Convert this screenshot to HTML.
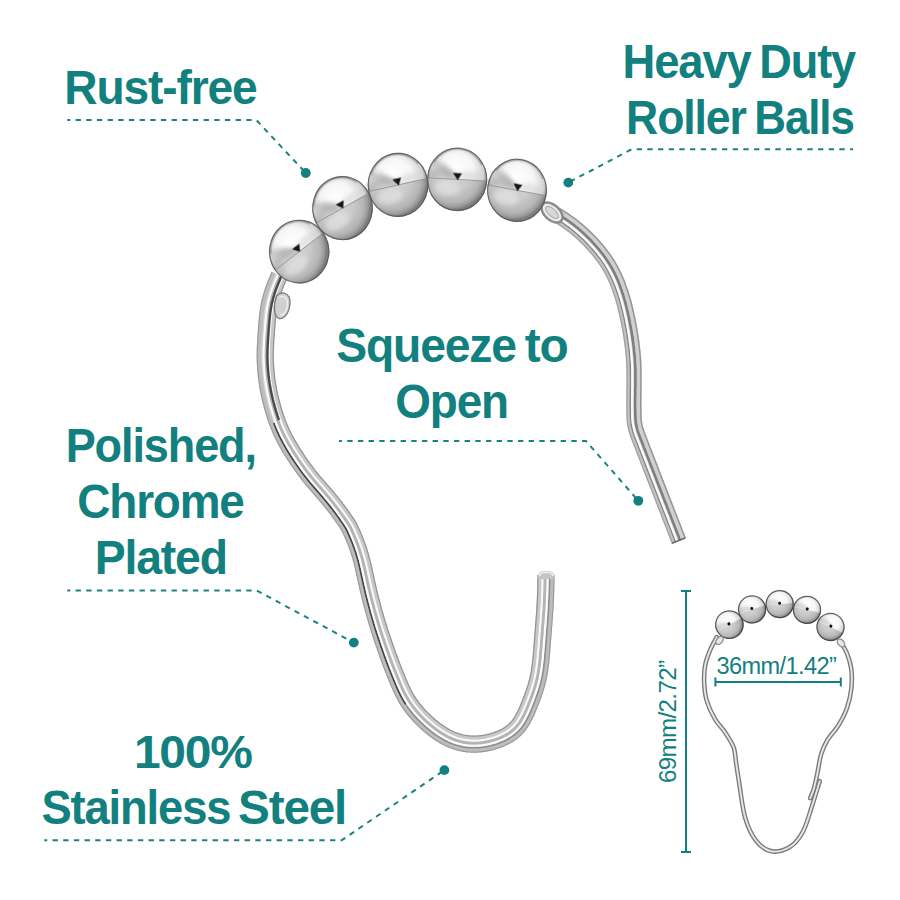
<!DOCTYPE html>
<html><head><meta charset="utf-8">
<style>
html,body{margin:0;padding:0;background:#fff;width:900px;height:900px;overflow:hidden}
svg{display:block}
.t{font-family:"Liberation Sans",sans-serif;font-weight:bold;fill:#12807e;font-size:47px}
.s{font-family:"Liberation Sans",sans-serif;font-weight:normal;fill:#12807e;font-size:22px}
.d{fill:none;stroke:#1a827f;stroke-width:2.0;stroke-dasharray:5.35 5.32;stroke-dashoffset:2.4;stroke-linejoin:round}
.dot{fill:#12807e}
</style></head>
<body>
<svg width="900" height="900" viewBox="0 0 900 900">
<defs>
  <clipPath id="ctop"><rect x="-32" y="-32" width="64" height="32"/></clipPath>
  <clipPath id="cbot"><rect x="-32" y="0" width="64" height="32"/></clipPath>
  <radialGradient id="gtop" cx="0.5" cy="0.42" r="0.52" fx="0.45" fy="0.3">
    <stop offset="0" stop-color="#ffffff"/>
    <stop offset="0.55" stop-color="#f6f6f6"/>
    <stop offset="0.85" stop-color="#d2d2d2"/>
    <stop offset="0.96" stop-color="#8a8a8a"/>
    <stop offset="1" stop-color="#5c5c5c"/>
  </radialGradient>
  <radialGradient id="gbot" cx="0.42" cy="0.4" r="0.58">
    <stop offset="0" stop-color="#d8d8d8"/>
    <stop offset="0.5" stop-color="#cacaca"/>
    <stop offset="0.8" stop-color="#b6b6b6"/>
    <stop offset="0.93" stop-color="#9a9a9a"/>
    <stop offset="1" stop-color="#7c7c7c"/>
  </radialGradient>
  <filter id="bl2" x="-50%" y="-50%" width="200%" height="200%"><feGaussianBlur stdDeviation="2.2"/></filter>
  <filter id="bl05" x="-50%" y="-50%" width="200%" height="200%"><feGaussianBlur stdDeviation="0.5"/></filter>
  <filter id="wbl" x="-5%" y="-5%" width="110%" height="110%"><feGaussianBlur stdDeviation="0.55"/></filter>
  <g id="sbl">
    <circle r="30" fill="url(#gtop)" clip-path="url(#ctop)"/>
    <circle r="30" fill="url(#gbot)" clip-path="url(#cbot)"/>
    <g clip-path="url(#ctop)">
      <path d="M-29,1 C-28,-13 -15,-17 2,-4 L2,1 Z" fill="#b0b0b0" opacity="0.45" filter="url(#bl2)"/>
    </g>
    <circle r="29" fill="none" stroke="#333" stroke-width="2.6" opacity="0.75"/>
    <circle cx="0" cy="-2" r="3.2" fill="#111"/>
  </g>
  <g id="ball">
    <circle r="30" fill="url(#gtop)" clip-path="url(#ctop)"/>
    <circle r="30" fill="url(#gbot)" clip-path="url(#cbot)"/>
    <g clip-path="url(#ctop)">
      <path d="M-29,1 C-28,-12 -16,-15 1,-3 L1,1 Z" fill="#a8a8a8" opacity="0.65" filter="url(#bl2)"/>
      <path d="M-2,-3 C-8,-12 -18,-20 -26,-14 C-22,-8 -12,-4 -2,-1 Z" fill="#a0a0a0" opacity="0.5" filter="url(#bl2)"/>
      <ellipse cx="14" cy="-4" rx="12" ry="4.5" fill="#d4d4d4" opacity="0.6" filter="url(#bl2)"/>
      <path d="M-24,-15 A27.5,27.5 0 0 1 24,-15" fill="none" stroke="#808080" stroke-width="2" opacity="0.6" filter="url(#bl05)"/>
    </g>
    <g clip-path="url(#cbot)">
      <ellipse cx="-10" cy="9" rx="13" ry="7" fill="#e2e2e2" opacity="0.7" filter="url(#bl2)"/>
    </g>
    <line x1="-29.5" y1="0" x2="29.5" y2="0" stroke="#8e8e8e" stroke-width="0.8"/>
    <circle r="29.5" fill="none" stroke="#555" stroke-width="1.1" opacity="0.85"/>
    <path d="M-4.5,-6 L4.5,-6 L0.5,0.8 Z" fill="#151515" filter="url(#bl05)"/>
  </g>
    <g clip-path="url(#cbot)">
      <ellipse cx="-8" cy="8" rx="14" ry="7" fill="#ececec" opacity="0.8" filter="url(#bl2)"/>
    </g>
    <line x1="-29.5" y1="0" x2="29.5" y2="0" stroke="#909090" stroke-width="0.9"/>
    <circle r="29.3" fill="none" stroke="#3c3c3c" stroke-width="1.5" opacity="0.8"/>
    <path d="M-4.5,-6 L4.5,-6 L0.5,0.8 Z" fill="#111" filter="url(#bl05)"/>
  </g>
    <line x1="-29.5" y1="0" x2="29.5" y2="0" stroke="#8a8a8a" stroke-width="1.1"/>
    <circle r="29.4" fill="none" stroke="#404040" stroke-width="1.5" opacity="0.8"/>
    <path d="M-3.8,-5 L3.8,-5 L0.3,0.5 Z" fill="#151515" filter="url(#bl05)"/>
  </g>
  <path id="w1" d="M279.5,275.0 C278.1,278.3 273.1,288.9 271.2,295.0 C269.2,301.1 268.6,306.1 267.8,311.7 C267.1,317.2 267.1,322.8 266.7,328.3 C266.3,333.9 265.6,339.4 265.3,345.0 C265.0,350.6 264.8,356.1 265.0,361.7 C265.2,367.2 265.8,372.8 266.5,378.3 C267.2,383.9 268.1,389.7 269.2,395.0 C270.3,400.3 271.7,404.7 273.3,410.0 C274.9,415.3 276.4,421.1 278.7,426.7 C281.0,432.2 283.9,437.8 287.0,443.3 C290.1,448.9 293.8,454.4 297.5,460.0 C301.2,465.6 305.1,471.1 309.5,476.7 C313.9,482.2 319.5,487.8 324.2,493.3 C328.9,498.9 333.6,504.4 337.8,510.0 C342.0,515.6 346.1,521.2 349.2,526.7 C352.3,532.2 354.6,537.8 356.7,543.3 C358.8,548.8 360.3,553.3 362.0,560.0 C363.7,566.7 365.2,576.6 366.7,583.3 C368.2,590.0 369.4,594.4 370.8,600.0 C372.2,605.6 373.7,611.2 375.3,616.7 C376.9,622.2 378.5,627.8 380.3,633.3 C382.1,638.8 384.2,644.4 386.2,650.0 C388.1,655.6 389.8,661.2 392.0,666.7 C394.2,672.2 396.8,677.8 399.2,683.3 C401.6,688.8 401.7,693.4 406.2,700.0 C410.7,706.6 418.7,716.3 426.0,723.0 C433.3,729.7 442.7,736.3 450.0,740.0 C457.3,743.7 463.3,744.5 470.0,745.0 C476.7,745.5 483.3,744.7 490.0,743.0 C496.7,741.3 505.0,737.8 510.0,735.0 C515.0,732.2 516.5,732.2 520.0,726.5 C523.5,720.8 527.9,708.8 531.0,701.0 C534.1,693.2 536.7,686.8 538.4,680.0 C540.1,673.2 540.2,667.8 541.0,660.0 C541.8,652.2 542.3,641.8 543.0,633.3 C543.7,624.8 544.5,616.9 545.0,608.8 C545.5,600.6 545.8,590.0 546.0,584.4 C546.2,578.8 546.0,576.6 546.0,575.0"/>
  <path id="w2" d="M552.0,212.0 C555.1,214.0 564.2,218.6 570.9,223.8 C577.6,229.0 585.7,236.2 592.2,243.3 C598.7,250.4 605.2,258.4 610.0,266.4 C614.8,274.4 617.8,282.7 620.8,291.3 C623.8,299.9 625.8,308.8 627.8,318.0 C629.8,327.2 631.4,338.3 632.5,346.4 C633.6,354.5 634.0,359.4 634.2,366.7 C634.5,374.0 634.1,382.8 634.0,390.0 C633.9,397.2 633.5,403.6 633.8,410.0 C634.1,416.4 634.6,422.5 635.8,428.3 C637.0,434.1 639.2,439.4 641.2,445.0 C643.2,450.6 645.4,456.1 647.5,461.7 C649.6,467.2 651.6,472.8 653.7,478.3 C655.8,483.9 657.8,489.4 660.0,495.0 C662.2,500.6 664.9,506.1 667.0,511.7 C669.1,517.2 670.8,523.4 672.8,528.3 C674.8,533.2 678.0,538.9 679.0,541.0"/>
  <path id="sa" d="M716.7,637.1 C715.5,639.5 711.5,646.5 709.6,651.3 C707.7,656.0 706.0,660.3 705.1,665.6 C704.2,670.9 703.9,677.4 704.2,683.3 C704.5,689.2 705.1,695.2 706.9,701.1 C708.7,707.0 711.8,713.6 714.9,718.9 C718.0,724.2 722.5,728.4 725.6,733.1 C728.7,737.8 731.8,742.3 733.6,747.3 C735.4,752.3 735.3,757.7 736.2,763.3 C737.1,768.9 737.4,772.1 738.9,781.1 C740.4,790.1 742.2,807.3 745.0,817.1 C747.8,826.9 751.1,834.1 755.4,839.8 C759.7,845.5 764.9,849.9 770.6,851.1 C776.3,852.4 784.0,850.4 789.4,847.3 C794.8,844.1 798.9,839.1 802.7,832.2 C806.5,825.3 809.3,814.3 812.1,805.8 C814.9,797.3 818.4,785.3 819.7,781.2"/>
  <path id="sb" d="M840.7,642.4 C841.7,644.2 845.1,648.6 846.9,653.1 C848.7,657.6 850.6,663.2 851.3,669.1 C852.0,675.0 852.0,682.2 851.3,688.7 C850.6,695.2 849.1,702.0 846.9,708.2 C844.7,714.4 841.3,720.7 838.0,726.0 C834.7,731.3 830.1,735.5 827.3,740.2 C824.5,744.9 822.7,749.1 821.1,754.4 C819.5,759.7 818.8,766.6 817.6,772.2 C816.4,777.8 815.2,783.9 814.0,788.2 C812.8,792.5 810.8,796.5 810.2,798.2"/>
</defs>

<!-- ===== TEXT ===== -->
<text class="t" x="64.30" y="103.90" style="font-size:48.11px;letter-spacing:-1.20px" textLength="192.20" lengthAdjust="spacingAndGlyphs">Rust-free</text>
<text class="t" x="622.50" y="77.80" style="font-size:47.67px;letter-spacing:-1.20px" textLength="128.20" lengthAdjust="spacingAndGlyphs">Heavy</text>
<text class="t" x="759.30" y="77.80" style="font-size:47.67px;letter-spacing:-1.20px" textLength="95.80" lengthAdjust="spacingAndGlyphs">Duty</text>
<text class="t" x="626.10" y="134.00" style="font-size:47.82px;letter-spacing:-1.20px" textLength="119.60" lengthAdjust="spacingAndGlyphs">Roller</text>
<text class="t" x="754.30" y="134.00" style="font-size:47.82px;letter-spacing:-1.20px" textLength="99.40" lengthAdjust="spacingAndGlyphs">Balls</text>
<text class="t" x="336.30" y="361.70" style="font-size:48.11px;letter-spacing:-1.20px" textLength="179.60" lengthAdjust="spacingAndGlyphs">Squeeze</text>
<text class="t" x="524.70" y="361.70" style="font-size:48.11px;letter-spacing:-1.20px" textLength="42.80" lengthAdjust="spacingAndGlyphs">to</text>
<text class="t" x="395.30" y="418.00" style="font-size:47.97px;letter-spacing:-1.20px" textLength="112.60" lengthAdjust="spacingAndGlyphs">Open</text>
<text class="t" x="65.70" y="461.80" style="font-size:47.82px;letter-spacing:-1.20px" textLength="190.20" lengthAdjust="spacingAndGlyphs">Polished,</text>
<text class="t" x="77.30" y="518.30" style="font-size:47.67px;letter-spacing:-1.20px" textLength="166.40" lengthAdjust="spacingAndGlyphs">Chrome</text>
<text class="t" x="94.70" y="573.90" style="font-size:47.82px;letter-spacing:-1.20px" textLength="132.20" lengthAdjust="spacingAndGlyphs">Plated</text>
<text class="t" x="133.90" y="768.30" style="font-size:46.95px;letter-spacing:-1.20px" textLength="117.80" lengthAdjust="spacingAndGlyphs">100%</text>
<text class="t" x="41.50" y="824.20" style="font-size:47.53px;letter-spacing:-1.20px" textLength="188.80" lengthAdjust="spacingAndGlyphs">Stainless</text>
<text class="t" x="238.10" y="824.20" style="font-size:47.53px;letter-spacing:-1.20px" textLength="108.00" lengthAdjust="spacingAndGlyphs">Steel</text>
<!-- ===== DASHED LEADERS ===== -->
<path class="d" d="M67.3,120.1 L256.4,120.1 L305.8,173.0"/>
<circle class="dot" cx="305.8" cy="173.0" r="4.9"/>
<path class="d" d="M853.0,149.2 L631.7,149.2 L568.3,182.6"/>
<circle class="dot" cx="568.3" cy="182.6" r="4.9"/>
<path class="d" d="M339.0,441.1 L586.1,441.1 L638.3,500.8"/>
<circle class="dot" cx="638.3" cy="500.8" r="4.9"/>
<path class="d" d="M67.3,590.5 L256.7,590.5 L353.8,642.6"/>
<circle class="dot" cx="353.8" cy="642.6" r="4.9"/>
<path class="d" d="M44.3,840.2 L341.8,840.2 L444.4,770.1"/>
<circle class="dot" cx="444.4" cy="770.1" r="4.9"/>

<!-- ===== MAIN HOOK WIRE ===== -->
<g fill="none" stroke-linejoin="round" filter="url(#wbl)">
<path d="M279.5,275.0 L279.1,275.9 L278.7,276.8 L278.3,277.8 L277.9,278.7 L277.6,279.6 L277.2,280.5 L276.8,281.5 L276.4,282.4 L276.0,283.3 L275.7,284.2 L275.3,285.2 L274.9,286.1 L274.6,287.0 L274.2,288.0 L273.9,288.9 L273.5,289.9 L273.2,290.8 L272.9,291.7 L272.6,292.7 L272.3,293.6 L272.0,294.6 L271.7,295.6 L271.4,296.5 L271.1,297.5 L270.8,298.4 L270.6,299.4 L270.3,300.4 L270.1,301.4 L269.9,302.3 L269.7,303.3 L269.5,304.3 L269.3,305.3 L269.1,306.3 L268.9,307.2 L268.7,308.2 L268.6,309.2 L268.4,310.2 L268.3,311.2 L268.2,312.2 L268.0,313.2 L267.9,314.2 L267.8,315.2 L267.7,316.2 L267.6,317.1 L267.5,318.1 L267.4,319.1 L267.3,320.1 L267.2,321.1 L267.1,322.1 L267.0,323.1 L266.9,324.1 L266.9,325.1 L266.8,326.1 L266.7,327.1 L266.6,328.1 L266.5,329.1 L266.5,330.1 L266.4,331.1 L266.3,332.1 L266.3,333.1 L266.2,334.1 L266.1,335.1 L266.0,336.1 L266.0,337.1 L265.9,338.1 L265.8,339.1 L265.8,340.1 L265.7,341.1 L265.7,342.1 L265.6,343.1 L265.6,344.1 L265.5,345.1 L265.5,346.1 L265.4,347.1 L265.4,348.1 L265.3,349.1 L265.3,350.1 L265.3,351.1 L265.3,352.1 L265.3,353.1 L265.2,354.1 L265.2,355.1 L265.2,356.1 L265.2,357.1 L265.3,358.1 L265.3,359.1 L265.3,360.1 L265.3,361.1 L265.4,362.1 L265.4,363.1 L265.5,364.1 L265.5,365.1 L265.6,366.1 L265.6,367.1 L265.7,368.1 L265.8,369.1 L265.9,370.1 L265.9,371.1 L266.0,372.1 L266.1,373.1 L266.2,374.1 L266.3,375.1 L266.4,376.1 L266.6,377.1 L266.7,378.0 L266.8,379.0 L266.9,380.0 L267.1,381.0 L267.2,382.0 L267.4,383.0 L267.5,384.0 L267.7,385.0 L267.8,386.0 L268.0,387.0 L268.2,387.9 L268.3,388.9 L268.5,389.9 L268.7,390.9 L268.9,391.9 L269.1,392.9 L269.3,393.8 L269.5,394.8 L269.7,395.8 L269.9,396.8 L270.2,397.7 L270.4,398.7 L270.6,399.7 L270.9,400.7 L271.1,401.6 L271.4,402.6 L271.6,403.6 L271.9,404.5 L272.1,405.5 L272.4,406.5 L272.7,407.4 L273.0,408.4 L273.2,409.4 L273.5,410.3 L273.8,411.3 L274.1,412.2 L274.4,413.2 L274.7,414.1 L275.0,415.1 L275.3,416.0 L275.6,417.0 L275.9,417.9 L276.3,418.9 L276.6,419.8 L276.9,420.8 L277.3,421.7 L277.6,422.7 L278.0,423.6 L278.3,424.5 L278.7,425.5 L279.1,426.4 L279.5,427.3 L279.8,428.2 L280.2,429.2 L280.6,430.1 L281.0,431.0 L281.5,431.9 L281.9,432.8 L282.3,433.7 L282.7,434.6 L283.2,435.5 L283.6,436.4 L284.1,437.3 L284.5,438.2 L285.0,439.1 L285.5,440.0 L285.9,440.8 L286.4,441.7 L286.9,442.6 L287.4,443.5 L287.9,444.3 L288.4,445.2 L288.9,446.1 L289.4,446.9 L289.9,447.8 L290.4,448.6 L290.9,449.5 L291.5,450.4 L292.0,451.2 L292.5,452.1 L293.0,452.9 L293.6,453.8 L294.1,454.6 L294.7,455.4 L295.2,456.3 L295.8,457.1 L296.3,458.0 L296.9,458.8 L297.4,459.6 L298.0,460.4 L298.5,461.3 L299.1,462.1 L299.7,462.9 L300.2,463.7 L300.8,464.6 L301.4,465.4 L302.0,466.2 L302.5,467.0 L303.1,467.8 L303.7,468.6 L304.3,469.4 L304.9,470.2 L305.5,471.1 L306.1,471.8 L306.7,472.6 L307.3,473.4 L307.9,474.2 L308.6,475.0 L309.2,475.8 L309.8,476.6 L310.4,477.4 L311.1,478.1 L311.7,478.9 L312.3,479.7 L313.0,480.4 L313.6,481.2 L314.3,482.0 L314.9,482.7 L315.6,483.5 L316.2,484.3 L316.9,485.0 L317.5,485.8 L318.2,486.5 L318.8,487.3 L319.5,488.0 L320.1,488.8 L320.8,489.6 L321.5,490.3 L322.1,491.1 L322.8,491.8 L323.4,492.6 L324.1,493.3 L324.7,494.1 L325.4,494.9 L326.0,495.6 L326.7,496.4 L327.3,497.2 L327.9,497.9 L328.6,498.7 L329.2,499.5 L329.9,500.2 L330.5,501.0 L331.1,501.8 L331.7,502.6 L332.4,503.4 L333.0,504.1 L333.6,504.9 L334.2,505.7 L334.8,506.5 L335.5,507.3 L336.1,508.1 L336.7,508.9 L337.3,509.7 L337.9,510.5 L338.5,511.3 L339.0,512.1 L339.6,512.9 L340.2,513.7 L340.8,514.5 L341.4,515.4 L342.0,516.2 L342.5,517.0 L343.1,517.8 L343.7,518.6 L344.3,519.5 L344.8,520.3 L345.4,521.1 L346.0,521.9 L346.5,522.8 L347.1,523.6 L347.6,524.4 L348.2,525.3 L348.7,526.1 L349.2,527.0 L349.6,527.9 L350.1,528.8 L350.5,529.7 L350.9,530.6 L351.3,531.5 L351.7,532.4 L352.1,533.3 L352.5,534.2 L352.9,535.2 L353.3,536.1 L353.7,537.0 L354.1,537.9 L354.5,538.8 L354.9,539.8 L355.2,540.7 L355.6,541.6 L356.0,542.6 L356.3,543.5 L356.7,544.4 L357.0,545.4 L357.4,546.3 L357.7,547.3 L358.0,548.2 L358.4,549.1 L358.7,550.1 L359.0,551.0 L359.3,552.0 L359.6,553.0 L359.9,553.9 L360.2,554.9 L360.5,555.8 L360.7,556.8 L361.0,557.8 L361.3,558.7 L361.5,559.7 L361.8,560.7 L362.0,561.6 L362.3,562.6 L362.5,563.6 L362.7,564.5 L363.0,565.5 L363.2,566.5 L363.4,567.5 L363.6,568.4 L363.9,569.4 L364.1,570.4 L364.3,571.4 L364.5,572.3 L364.7,573.3 L364.9,574.3 L365.1,575.3 L365.3,576.3 L365.6,577.2 L365.8,578.2 L366.0,579.2 L366.2,580.2 L366.4,581.2 L366.6,582.1 L366.8,583.1 L367.1,584.1 L367.3,585.1 L367.5,586.0 L367.7,587.0 L367.9,588.0 L368.2,589.0 L368.4,589.9 L368.6,590.9 L368.9,591.9 L369.1,592.9 L369.3,593.8 L369.6,594.8 L369.8,595.8 L370.1,596.7 L370.3,597.7 L370.5,598.7 L370.8,599.7 L371.0,600.6 L371.3,601.6 L371.5,602.6 L371.8,603.5 L372.1,604.5 L372.3,605.5 L372.6,606.4 L372.8,607.4 L373.1,608.4 L373.3,609.3 L373.6,610.3 L373.9,611.3 L374.1,612.2 L374.4,613.2 L374.7,614.1 L375.0,615.1 L375.2,616.1 L375.5,617.0 L375.8,618.0 L376.1,619.0 L376.3,619.9 L376.6,620.9 L376.9,621.8 L377.2,622.8 L377.5,623.8 L377.8,624.7 L378.1,625.7 L378.4,626.6 L378.7,627.6 L379.0,628.5 L379.3,629.5 L379.6,630.4 L379.9,631.4 L380.2,632.4 L380.5,633.3 L380.8,634.3 L381.1,635.2 L381.4,636.2 L381.7,637.1 L382.1,638.1 L382.4,639.0 L382.7,639.9 L383.0,640.9 L383.3,641.8 L383.7,642.8 L384.0,643.7 L384.3,644.7 L384.6,645.6 L385.0,646.6 L385.3,647.5 L385.6,648.5 L386.0,649.4 L386.3,650.4 L386.6,651.3 L387.0,652.2 L387.3,653.2 L387.6,654.1 L388.0,655.1 L388.3,656.0 L388.6,657.0 L389.0,657.9 L389.3,658.8 L389.7,659.8 L390.0,660.7 L390.4,661.6 L390.7,662.6 L391.1,663.5 L391.4,664.5 L391.8,665.4 L392.1,666.3 L392.5,667.3 L392.9,668.2 L393.2,669.1 L393.6,670.1 L394.0,671.0 L394.3,671.9 L394.7,672.8 L395.1,673.8 L395.5,674.7 L395.8,675.6 L396.2,676.6 L396.6,677.5 L397.0,678.4 L397.4,679.3 L397.7,680.3 L398.1,681.2 L398.5,682.1 L398.9,683.0 L399.3,683.9 L399.7,684.9 L400.1,685.8 L400.5,686.7 L400.9,687.6 L401.3,688.5 L401.7,689.4 L402.1,690.3 L402.6,691.2 L403.0,692.1 L403.5,693.0 L403.9,693.9 L404.4,694.8 L404.8,695.7 L405.3,696.6 L405.8,697.5 L406.3,698.3 L406.8,699.2 L407.3,700.0 L407.9,700.9 L408.4,701.7 L408.9,702.6 L409.5,703.4 L410.1,704.2 L410.6,705.0 L411.2,705.9 L411.8,706.7 L412.4,707.5 L413.0,708.2 L413.7,709.0 L414.3,709.8 L414.9,710.6 L415.6,711.4 L416.2,712.1 L416.9,712.9 L417.5,713.6 L418.2,714.4 L418.9,715.1 L419.5,715.9 L420.2,716.6 L420.9,717.3 L421.6,718.0 L422.3,718.7 L423.0,719.4 L423.7,720.1 L424.5,720.8 L425.2,721.5 L425.9,722.2 L426.7,722.9 L427.4,723.5 L428.2,724.2 L428.9,724.9 L429.7,725.5 L430.4,726.2 L431.2,726.8 L432.0,727.4 L432.8,728.1 L433.5,728.7 L434.3,729.3 L435.1,729.9 L435.9,730.5 L436.8,731.1 L437.6,731.6 L438.4,732.2 L439.2,732.8 L440.1,733.3 L440.9,733.9 L441.7,734.4 L442.6,734.9 L443.5,735.4 L444.3,735.9 L445.2,736.4 L446.1,736.9 L446.9,737.4 L447.8,737.8 L448.7,738.3 L449.6,738.7 L450.5,739.1 L451.5,739.5 L452.4,739.9 L453.3,740.3 L454.3,740.6 L455.2,741.0 L456.1,741.3 L457.1,741.6 L458.1,741.9 L459.0,742.2 L460.0,742.4 L461.0,742.6 L461.9,742.9 L462.9,743.1 L463.9,743.2 L464.9,743.4 L465.9,743.6 L466.9,743.7 L467.8,743.8 L468.8,743.9 L469.8,744.0 L470.8,744.0 L471.8,744.1 L472.8,744.1 L473.8,744.1 L474.8,744.1 L475.8,744.1 L476.8,744.1 L477.8,744.0 L478.8,743.9 L479.8,743.9 L480.8,743.8 L481.8,743.6 L482.8,743.5 L483.8,743.4 L484.8,743.2 L485.8,743.0 L486.8,742.9 L487.7,742.6 L488.7,742.4 L489.7,742.2 L490.6,742.0 L491.6,741.7 L492.6,741.4 L493.5,741.2 L494.5,740.9 L495.4,740.5 L496.4,740.2 L497.3,739.9 L498.3,739.5 L499.2,739.2 L500.1,738.8 L501.1,738.4 L502.0,738.0 L502.9,737.6 L503.8,737.2 L504.7,736.7 L505.6,736.2 L506.4,735.8 L507.3,735.3 L508.2,734.7 L509.0,734.2 L509.8,733.7 L510.6,733.1 L511.5,732.5 L512.2,731.9 L513.0,731.3 L513.8,730.6 L514.5,729.9 L515.2,729.2 L515.9,728.5 L516.6,727.8 L517.3,727.1 L517.9,726.3 L518.6,725.5 L519.2,724.7 L519.8,723.9 L520.3,723.1 L520.9,722.3 L521.4,721.4 L522.0,720.6 L522.5,719.7 L523.0,718.9 L523.4,718.0 L523.9,717.1 L524.4,716.2 L524.8,715.3 L525.3,714.4 L525.7,713.5 L526.1,712.6 L526.5,711.7 L526.9,710.8 L527.3,709.9 L527.7,708.9 L528.1,708.0 L528.5,707.1 L528.9,706.2 L529.2,705.2 L529.6,704.3 L530.0,703.4 L530.3,702.5 L530.7,701.5 L531.1,700.6 L531.4,699.6 L531.8,698.7 L532.1,697.8 L532.5,696.8 L532.8,695.9 L533.2,695.0 L533.5,694.0 L533.8,693.1 L534.1,692.1 L534.5,691.2 L534.8,690.2 L535.1,689.3 L535.4,688.3 L535.7,687.4 L536.0,686.4 L536.3,685.4 L536.5,684.5 L536.8,683.5 L537.1,682.5 L537.3,681.6 L537.5,680.6 L537.8,679.6 L538.0,678.7 L538.2,677.7 L538.4,676.7 L538.6,675.7 L538.8,674.7 L539.0,673.8 L539.2,672.8 L539.3,671.8 L539.5,670.8 L539.7,669.8 L539.8,668.8 L539.9,667.8 L540.1,666.8 L540.2,665.8 L540.3,664.9 L540.4,663.9 L540.6,662.9 L540.7,661.9 L540.8,660.9 L540.9,659.9 L541.0,658.9 L541.1,657.9 L541.2,656.9 L541.3,655.9 L541.3,654.9 L541.4,653.9 L541.5,652.9 L541.6,651.9 L541.7,650.9 L541.8,649.9 L541.8,648.9 L541.9,647.9 L542.0,646.9 L542.1,645.9 L542.2,644.9 L542.2,643.9 L542.3,642.9 L542.4,641.9 L542.5,640.9 L542.5,639.9 L542.6,638.9 L542.7,637.9 L542.8,636.9 L542.8,635.9 L542.9,634.9 L543.0,633.9 L543.1,633.0 L543.2,632.0 L543.2,631.0 L543.3,630.0 L543.4,629.0 L543.5,628.0 L543.5,627.0 L543.6,626.0 L543.7,625.0 L543.8,624.0 L543.9,623.0 L543.9,622.0 L544.0,621.0 L544.1,620.0 L544.2,619.0 L544.2,618.0 L544.3,617.0 L544.4,616.0 L544.5,615.0 L544.5,614.0 L544.6,613.0 L544.7,612.0 L544.7,611.0 L544.8,610.0 L544.9,609.0 L544.9,608.0 L545.0,607.0 L545.0,606.0 L545.1,605.0 L545.1,604.0 L545.2,603.0 L545.2,602.0 L545.3,601.0 L545.3,600.0 L545.4,599.0 L545.4,598.0 L545.5,597.0 L545.5,596.0 L545.6,595.0 L545.6,594.0 L545.6,593.0 L545.7,592.0 L545.7,591.0 L545.7,590.0 L545.7,589.0 L545.8,588.0 L545.8,587.0 L545.8,586.0 L545.8,585.0 L545.9,584.0 L545.9,583.0 L545.9,582.0 L545.9,581.0 L545.9,580.0 L545.9,579.0 L546.0,578.0 L546.0,577.0 L546.0,576.0 L546.0,575.0" stroke="#d2d2d2" stroke-width="17.20" stroke-linecap="butt"/>
<path d="M274.1,272.7 L273.7,273.6 L273.3,274.5 L272.9,275.5 L272.5,276.4 L272.1,277.3 L271.7,278.3 L271.3,279.2 L270.9,280.2 L270.6,281.1 L270.2,282.1 L269.8,283.0 L269.4,284.0 L269.1,284.9 L268.7,285.9 L268.3,286.9 L268.0,287.9 L267.6,288.9 L267.3,289.9 L267.0,290.8 L266.6,291.9 L266.3,292.9 L266.0,293.9 L265.7,294.9 L265.4,295.9 L265.1,296.9 L264.9,297.9 L264.6,299.0 L264.4,300.0 L264.1,301.0 L263.9,302.1 L263.7,303.1 L263.5,304.1 L263.3,305.2 L263.1,306.2 L262.9,307.3 L262.8,308.3 L262.6,309.3 L262.4,310.4 L262.3,311.4 L262.2,312.4 L262.0,313.5 L261.9,314.5 L261.8,315.5 L261.7,316.5 L261.6,317.6 L261.5,318.6 L261.4,319.6 L261.3,320.6 L261.2,321.6 L261.1,322.6 L261.1,323.6 L261.0,324.7 L260.9,325.7 L260.8,326.7 L260.7,327.7 L260.7,328.7 L260.6,329.7 L260.5,330.7 L260.4,331.7 L260.4,332.7 L260.3,333.7 L260.2,334.7 L260.2,335.7 L260.1,336.7 L260.0,337.7 L260.0,338.7 L259.9,339.7 L259.8,340.7 L259.8,341.8 L259.7,342.8 L259.7,343.8 L259.6,344.8 L259.6,345.8 L259.5,346.9 L259.5,347.9 L259.4,348.9 L259.4,349.9 L259.4,351.0 L259.4,352.0 L259.4,353.0 L259.3,354.0 L259.3,355.1 L259.3,356.1 L259.3,357.1 L259.4,358.2 L259.4,359.2 L259.4,360.3 L259.4,361.3 L259.5,362.3 L259.5,363.4 L259.6,364.4 L259.6,365.4 L259.7,366.5 L259.7,367.5 L259.8,368.5 L259.9,369.5 L260.0,370.6 L260.1,371.6 L260.2,372.6 L260.3,373.7 L260.4,374.7 L260.5,375.7 L260.6,376.7 L260.7,377.8 L260.8,378.8 L261.0,379.8 L261.1,380.8 L261.2,381.8 L261.4,382.9 L261.5,383.9 L261.7,384.9 L261.8,385.9 L262.0,386.9 L262.2,387.9 L262.4,389.0 L262.5,390.0 L262.7,391.0 L262.9,392.0 L263.1,393.0 L263.3,394.0 L263.5,395.1 L263.7,396.1 L264.0,397.1 L264.2,398.1 L264.4,399.1 L264.7,400.1 L264.9,401.1 L265.2,402.1 L265.4,403.1 L265.7,404.1 L265.9,405.1 L266.2,406.1 L266.5,407.1 L266.7,408.0 L267.0,409.0 L267.3,410.0 L267.6,411.0 L267.9,412.0 L268.2,413.0 L268.5,414.0 L268.8,414.9 L269.1,415.9 L269.4,416.9 L269.7,417.9 L270.0,418.9 L270.4,419.8 L270.7,420.8 L271.0,421.8 L271.4,422.8 L271.7,423.7 L272.1,424.7 L272.5,425.7 L272.8,426.7 L273.2,427.6 L273.6,428.6 L274.0,429.6 L274.4,430.5 L274.8,431.5 L275.2,432.5 L275.7,433.4 L276.1,434.4 L276.5,435.3 L277.0,436.2 L277.4,437.2 L277.9,438.1 L278.4,439.0 L278.8,440.0 L279.3,440.9 L279.8,441.8 L280.3,442.7 L280.8,443.6 L281.3,444.6 L281.8,445.5 L282.3,446.4 L282.8,447.3 L283.3,448.1 L283.8,449.0 L284.3,449.9 L284.8,450.8 L285.4,451.7 L285.9,452.6 L286.4,453.4 L287.0,454.3 L287.5,455.2 L288.1,456.1 L288.6,456.9 L289.2,457.8 L289.7,458.6 L290.3,459.5 L290.8,460.3 L291.4,461.2 L291.9,462.1 L292.5,462.9 L293.1,463.7 L293.7,464.6 L294.2,465.4 L294.8,466.3 L295.4,467.1 L296.0,468.0 L296.6,468.8 L297.2,469.6 L297.7,470.5 L298.3,471.3 L299.0,472.1 L299.6,472.9 L300.2,473.8 L300.8,474.6 L301.4,475.4 L302.0,476.2 L302.7,477.0 L303.3,477.9 L303.9,478.7 L304.6,479.5 L305.2,480.3 L305.8,481.1 L306.5,481.9 L307.1,482.7 L307.8,483.4 L308.4,484.2 L309.1,485.0 L309.8,485.8 L310.4,486.6 L311.1,487.3 L311.7,488.1 L312.4,488.9 L313.1,489.6 L313.7,490.4 L314.4,491.2 L315.0,491.9 L315.7,492.7 L316.3,493.4 L317.0,494.2 L317.6,494.9 L318.3,495.7 L318.9,496.4 L319.6,497.2 L320.2,497.9 L320.9,498.7 L321.5,499.4 L322.1,500.2 L322.8,501.0 L323.4,501.7 L324.0,502.5 L324.7,503.2 L325.3,504.0 L325.9,504.7 L326.5,505.5 L327.1,506.3 L327.8,507.0 L328.4,507.8 L329.0,508.6 L329.6,509.3 L330.2,510.1 L330.8,510.9 L331.4,511.7 L332.0,512.4 L332.5,513.2 L333.1,514.0 L333.7,514.8 L334.3,515.6 L334.9,516.4 L335.4,517.2 L336.0,518.0 L336.6,518.8 L337.1,519.6 L337.7,520.4 L338.3,521.2 L338.8,522.0 L339.4,522.8 L340.0,523.6 L340.5,524.4 L341.1,525.2 L341.6,526.0 L342.1,526.8 L342.7,527.6 L343.1,528.4 L343.6,529.1 L344.0,529.8 L344.4,530.6 L344.8,531.4 L345.2,532.2 L345.6,533.0 L345.9,533.9 L346.3,534.8 L346.7,535.7 L347.1,536.6 L347.5,537.5 L347.9,538.4 L348.3,539.3 L348.7,540.2 L349.0,541.1 L349.4,542.0 L349.8,542.9 L350.1,543.8 L350.5,544.7 L350.8,545.6 L351.2,546.5 L351.5,547.4 L351.8,548.3 L352.1,549.2 L352.5,550.1 L352.8,551.0 L353.1,551.9 L353.4,552.9 L353.7,553.8 L354.0,554.7 L354.2,555.6 L354.5,556.5 L354.8,557.5 L355.0,558.4 L355.3,559.3 L355.6,560.3 L355.8,561.2 L356.1,562.1 L356.3,563.1 L356.5,564.0 L356.8,565.0 L357.0,565.9 L357.2,566.9 L357.4,567.8 L357.7,568.8 L357.9,569.7 L358.1,570.7 L358.3,571.7 L358.5,572.6 L358.7,573.6 L358.9,574.6 L359.2,575.5 L359.4,576.5 L359.6,577.5 L359.8,578.5 L360.0,579.5 L360.2,580.4 L360.4,581.4 L360.6,582.4 L360.9,583.4 L361.1,584.4 L361.3,585.4 L361.5,586.4 L361.7,587.3 L362.0,588.3 L362.2,589.3 L362.4,590.3 L362.7,591.3 L362.9,592.3 L363.1,593.3 L363.4,594.2 L363.6,595.2 L363.8,596.2 L364.1,597.2 L364.3,598.2 L364.6,599.2 L364.8,600.1 L365.1,601.1 L365.3,602.1 L365.6,603.1 L365.8,604.0 L366.1,605.0 L366.3,606.0 L366.6,607.0 L366.9,608.0 L367.1,608.9 L367.4,609.9 L367.7,610.9 L367.9,611.9 L368.2,612.8 L368.5,613.8 L368.7,614.8 L369.0,615.7 L369.3,616.7 L369.6,617.7 L369.8,618.7 L370.1,619.6 L370.4,620.6 L370.7,621.6 L371.0,622.6 L371.3,623.5 L371.5,624.5 L371.8,625.5 L372.1,626.4 L372.4,627.4 L372.7,628.4 L373.0,629.3 L373.3,630.3 L373.6,631.3 L373.9,632.2 L374.2,633.2 L374.6,634.2 L374.9,635.1 L375.2,636.1 L375.5,637.1 L375.8,638.0 L376.1,639.0 L376.5,639.9 L376.8,640.9 L377.1,641.8 L377.4,642.8 L377.8,643.8 L378.1,644.7 L378.4,645.7 L378.7,646.6 L379.1,647.6 L379.4,648.5 L379.7,649.5 L380.1,650.4 L380.4,651.4 L380.7,652.3 L381.1,653.3 L381.4,654.2 L381.7,655.2 L382.1,656.1 L382.4,657.1 L382.8,658.0 L383.1,659.0 L383.4,659.9 L383.8,660.9 L384.1,661.8 L384.5,662.8 L384.8,663.7 L385.2,664.7 L385.6,665.6 L385.9,666.6 L386.3,667.5 L386.6,668.5 L387.0,669.4 L387.4,670.3 L387.7,671.3 L388.1,672.2 L388.5,673.2 L388.9,674.1 L389.2,675.0 L389.6,676.0 L390.0,676.9 L390.4,677.9 L390.8,678.8 L391.1,679.7 L391.5,680.7 L391.9,681.6 L392.3,682.5 L392.7,683.5 L393.1,684.4 L393.5,685.3 L393.9,686.3 L394.3,687.2 L394.7,688.1 L395.1,689.1 L395.5,690.0 L395.9,691.0 L396.4,691.9 L396.8,692.8 L397.3,693.8 L397.7,694.7 L398.2,695.7 L398.7,696.6 L399.1,697.6 L399.6,698.5 L400.2,699.4 L400.7,700.4 L401.2,701.3 L401.7,702.2 L402.3,703.1 L402.9,704.0 L403.4,704.9 L404.0,705.8 L404.6,706.7 L405.2,707.6 L405.8,708.5 L406.5,709.3 L407.1,710.2 L407.7,711.0 L408.4,711.9 L409.0,712.7 L409.7,713.5 L410.4,714.3 L411.0,715.2 L411.7,716.0 L412.4,716.8 L413.1,717.5 L413.8,718.3 L414.5,719.1 L415.2,719.9 L415.9,720.6 L416.7,721.4 L417.4,722.1 L418.1,722.9 L418.9,723.6 L419.6,724.4 L420.4,725.1 L421.1,725.8 L421.9,726.5 L422.7,727.2 L423.5,727.9 L424.3,728.6 L425.0,729.3 L425.8,730.0 L426.7,730.7 L427.5,731.4 L428.3,732.0 L429.1,732.7 L429.9,733.3 L430.8,734.0 L431.6,734.6 L432.5,735.2 L433.3,735.9 L434.2,736.5 L435.1,737.1 L435.9,737.7 L436.8,738.3 L437.7,738.8 L438.6,739.4 L439.5,740.0 L440.5,740.5 L441.4,741.1 L442.3,741.6 L443.3,742.1 L444.2,742.6 L445.2,743.1 L446.2,743.6 L447.2,744.1 L448.1,744.5 L449.2,744.9 L450.2,745.4 L451.2,745.8 L452.2,746.2 L453.2,746.5 L454.3,746.9 L455.3,747.2 L456.4,747.5 L457.5,747.8 L458.5,748.1 L459.6,748.4 L460.7,748.6 L461.8,748.9 L462.9,749.1 L463.9,749.2 L465.0,749.4 L466.1,749.5 L467.2,749.7 L468.3,749.8 L469.4,749.9 L470.5,749.9 L471.6,750.0 L472.7,750.0 L473.8,750.0 L474.9,750.0 L476.0,750.0 L477.1,750.0 L478.2,749.9 L479.3,749.8 L480.4,749.7 L481.5,749.6 L482.5,749.5 L483.6,749.4 L484.7,749.2 L485.8,749.0 L486.8,748.8 L487.9,748.6 L489.0,748.4 L490.0,748.2 L491.1,747.9 L492.1,747.7 L493.2,747.4 L494.2,747.1 L495.2,746.8 L496.3,746.5 L497.3,746.1 L498.3,745.8 L499.4,745.4 L500.4,745.1 L501.4,744.7 L502.4,744.2 L503.4,743.8 L504.4,743.4 L505.4,742.9 L506.4,742.4 L507.4,742.0 L508.3,741.4 L509.3,740.9 L510.3,740.3 L511.3,739.8 L512.2,739.2 L513.1,738.5 L514.1,737.9 L515.0,737.2 L515.9,736.5 L516.8,735.8 L517.7,735.0 L518.5,734.3 L519.4,733.5 L520.2,732.6 L521.0,731.8 L521.7,731.0 L522.5,730.1 L523.2,729.2 L523.9,728.3 L524.6,727.4 L525.2,726.5 L525.8,725.5 L526.4,724.6 L527.0,723.6 L527.6,722.7 L528.1,721.7 L528.6,720.8 L529.1,719.8 L529.6,718.9 L530.1,717.9 L530.6,717.0 L531.0,716.0 L531.5,715.1 L531.9,714.1 L532.3,713.1 L532.7,712.2 L533.1,711.2 L533.5,710.3 L533.9,709.3 L534.3,708.4 L534.7,707.5 L535.1,706.5 L535.5,705.6 L535.8,704.6 L536.2,703.7 L536.6,702.7 L536.9,701.7 L537.3,700.8 L537.7,699.8 L538.0,698.9 L538.4,697.9 L538.7,696.9 L539.1,696.0 L539.4,695.0 L539.7,694.0 L540.1,693.0 L540.4,692.1 L540.7,691.1 L541.0,690.1 L541.3,689.1 L541.6,688.1 L541.9,687.1 L542.2,686.1 L542.5,685.1 L542.8,684.0 L543.0,683.0 L543.3,682.0 L543.5,681.0 L543.8,680.0 L544.0,678.9 L544.2,677.9 L544.4,676.9 L544.6,675.8 L544.8,674.8 L545.0,673.8 L545.2,672.8 L545.3,671.7 L545.5,670.7 L545.6,669.7 L545.8,668.6 L545.9,667.6 L546.1,666.6 L546.2,665.6 L546.3,664.5 L546.4,663.5 L546.5,662.5 L546.6,661.5 L546.7,660.5 L546.8,659.5 L546.9,658.4 L547.0,657.4 L547.1,656.4 L547.2,655.4 L547.3,654.4 L547.4,653.4 L547.5,652.4 L547.6,651.4 L547.6,650.4 L547.7,649.4 L547.8,648.4 L547.9,647.4 L548.0,646.4 L548.0,645.4 L548.1,644.4 L548.2,643.4 L548.3,642.4 L548.3,641.4 L548.4,640.4 L548.5,639.4 L548.6,638.4 L548.7,637.4 L548.7,636.4 L548.8,635.4 L548.9,634.4 L549.0,633.4 L549.0,632.4 L549.1,631.4 L549.2,630.4 L549.3,629.4 L549.4,628.4 L549.4,627.4 L549.5,626.4 L549.6,625.4 L549.7,624.4 L549.7,623.4 L549.8,622.4 L549.9,621.4 L550.0,620.4 L550.0,619.4 L550.1,618.4 L550.2,617.4 L550.3,616.4 L550.3,615.4 L550.4,614.4 L550.5,613.4 L550.6,612.4 L550.6,611.4 L550.7,610.4 L550.7,609.4 L550.8,608.4 L550.9,607.3 L550.9,606.3 L551.0,605.3 L551.0,604.3 L551.1,603.3 L551.1,602.3 L551.2,601.3 L551.2,600.3 L551.3,599.3 L551.3,598.3 L551.4,597.3 L551.4,596.2 L551.5,595.2 L551.5,594.2 L551.5,593.2 L551.6,592.2 L551.6,591.2 L551.6,590.2 L551.6,589.2 L551.7,588.2 L551.7,587.1 L551.7,586.1 L551.7,585.1 L551.8,584.1 L551.8,583.1 L551.8,582.1 L551.8,581.1 L551.8,580.1 L551.8,579.1 L551.9,578.1 L551.9,577.1 L551.9,576.1 L551.9,575.1" stroke="#bdbdbd" stroke-width="3.60" stroke-linecap="butt"/>
<path d="M273.9,423.0 L274.2,423.9 L274.6,424.9 L275.0,425.8 L275.4,426.8 L275.7,427.7 L276.1,428.7 L276.5,429.6 L276.9,430.6 L277.3,431.5 L277.8,432.5 L278.2,433.4 L278.6,434.3 L279.1,435.3 L279.5,436.2 L280.0,437.1 L280.4,438.0 L280.9,438.9 L281.3,439.8 L281.8,440.7 L282.3,441.6 L282.8,442.5 L283.3,443.4 L283.8,444.3 L284.3,445.2 L284.8,446.1 L285.3,447.0 L285.8,447.9 L286.3,448.8 L286.8,449.6 L287.3,450.5 L287.9,451.4 L288.4,452.2 L288.9,453.1 L289.5,454.0 L290.0,454.8 L290.5,455.7 L291.1,456.5 L291.6,457.4 L292.2,458.2 L292.7,459.1 L293.3,459.9 L293.9,460.8 L294.4,461.6 L295.0,462.5 L295.6,463.3 L296.1,464.1 L296.7,465.0 L297.3,465.8 L297.9,466.6 L298.4,467.5 L299.0,468.3 L299.6,469.1 L300.2,469.9 L300.8,470.8 L301.4,471.6 L302.0,472.4 L302.6,473.2 L303.2,474.0 L303.9,474.8 L304.5,475.6 L305.1,476.4 L305.7,477.2 L306.4,478.0 L307.0,478.8 L307.6,479.6 L308.3,480.4 L308.9,481.2 L309.6,482.0 L310.2,482.8 L310.9,483.5 L311.5,484.3 L312.2,485.1 L312.8,485.8 L313.5,486.6 L314.1,487.4 L314.8,488.1 L315.5,488.9 L316.1,489.7 L316.8,490.4 L317.4,491.2 L318.1,491.9 L318.7,492.7 L319.4,493.4 L320.0,494.2 L320.7,494.9 L321.3,495.7 L322.0,496.4 L322.6,497.2 L323.3,498.0 L323.9,498.7 L324.5,499.5 L325.2,500.2 L325.8,501.0 L326.4,501.8 L327.1,502.5 L327.7,503.3 L328.3,504.1 L328.9,504.8 L329.6,505.6 L330.2,506.4 L330.8,507.2 L331.4,507.9 L332.0,508.7 L332.6,509.5 L333.2,510.3 L333.8,511.1 L334.4,511.9 L335.0,512.6 L335.6,513.4 L336.1,514.2 L336.7,515.0 L337.3,515.8 L337.9,516.6 L338.5,517.4 L339.0,518.3 L339.6,519.1 L340.2,519.9 L340.7,520.7 L341.3,521.5 L341.9,522.3 L342.4,523.1 L343.0,524.0 L343.5,524.8 L344.1,525.6 L344.6,526.4 L345.1,527.2 L345.6,527.9 L346.0,528.7 L346.4,529.5 L346.8,530.3 L347.2,531.2 L347.6,532.1 L348.0,533.0 L348.4,533.9 L348.8,534.8 L349.2,535.7 L349.6,536.6 L350.0,537.5 L350.4,538.4 L350.8,539.3 L351.2,540.2 L351.5,541.1 L351.9,542.0 L352.3,542.9 L352.6,543.9 L353.0,544.8 L353.3,545.7 L353.6,546.6 L354.0,547.5 L354.3,548.5 L354.6,549.4 L354.9,550.3 L355.3,551.2 L355.6,552.2 L355.9,553.1 L356.2,554.0 L356.4,555.0 L356.7,555.9 L357.0,556.8 L357.3,557.8 L357.5,558.7 L357.8,559.7 L358.0,560.6 L358.3,561.6 L358.5,562.5 L358.8,563.5 L359.0,564.4 L359.2,565.4 L359.5,566.3 L359.7,567.3 L359.9,568.3 L360.1,569.2 L360.3,570.2 L360.6,571.2 L360.8,572.1 L361.0,573.1 L361.2,574.1 L361.4,575.1 L361.6,576.0 L361.8,577.0 L362.0,578.0 L362.2,579.0 L362.5,580.0 L362.7,580.9 L362.9,581.9 L363.1,582.9 L363.3,583.9 L363.5,584.9 L363.8,585.9 L364.0,586.8 L364.2,587.8 L364.4,588.8 L364.7,589.8 L364.9,590.8 L365.1,591.7 L365.4,592.7 L365.6,593.7 L365.8,594.7 L366.1,595.7 L366.3,596.6 L366.6,597.6 L366.8,598.6 L367.1,599.6 L367.3,600.5 L367.6,601.5 L367.8,602.5 L368.1,603.5 L368.3,604.4 L368.6,605.4 L368.8,606.4 L369.1,607.4 L369.3,608.3 L369.6,609.3 L369.9,610.3 L370.1,611.2 L370.4,612.2 L370.7,613.2 L370.9,614.2 L371.2,615.1 L371.5,616.1 L371.8,617.1 L372.0,618.0 L372.3,619.0 L372.6,620.0 L372.9,620.9 L373.2,621.9 L373.5,622.9 L373.7,623.8 L374.0,624.8 L374.3,625.8 L374.6,626.7 L374.9,627.7 L375.2,628.7 L375.5,629.6 L375.8,630.6 L376.1,631.5 L376.4,632.5 L376.7,633.5 L377.1,634.4 L377.4,635.4 L377.7,636.3 L378.0,637.3 L378.3,638.2 L378.6,639.2 L379.0,640.2 L379.3,641.1 L379.6,642.1 L379.9,643.0 L380.3,644.0 L380.6,644.9 L380.9,645.9 L381.2,646.8 L381.6,647.8 L381.9,648.7 L382.2,649.7 L382.6,650.6 L382.9,651.5 L383.2,652.5 L383.6,653.4 L383.9,654.4 L384.2,655.3 L384.6,656.3 L384.9,657.2 L385.3,658.2 L385.6,659.1 L385.9,660.1 L386.3,661.0 L386.6,662.0 L387.0,662.9 L387.3,663.9 L387.7,664.8 L388.1,665.7 L388.4,666.7 L388.8,667.6 L389.1,668.6 L389.5,669.5 L389.9,670.4 L390.3,671.4 L390.6,672.3 L391.0,673.3 L391.4,674.2 L391.8,675.1 L392.1,676.1 L392.5,677.0 L392.9,677.9 L393.3,678.8 L393.7,679.8 L394.0,680.7 L394.4,681.6 L394.8,682.6 L395.2,683.5 L395.6,684.4 L396.0,685.4 L396.4,686.3 L396.8,687.2 L397.2,688.1 L397.6,689.1 L398.0,690.0 L398.5,690.9 L398.9,691.9 L399.3,692.8 L399.8,693.7 L400.2,694.7 L400.7,695.6 L401.2,696.5 L401.7,697.4 L402.2,698.3 L402.7,699.2 L403.2,700.1 L403.7,701.0 L404.3,701.9 L404.8,702.8 L405.4,703.7 L405.9,704.6" stroke="#444444" stroke-width="1.80" stroke-linecap="butt"/>
<path d="M406.5,705.4 L407.1,706.3 L407.7,707.1 L408.3,708.0 L408.9,708.8 L409.6,709.6 L410.2,710.5 L410.8,711.3 L411.5,712.1 L412.1,712.9 L412.8,713.7 L413.5,714.5 L414.1,715.2 L414.8,716.0 L415.5,716.8 L416.2,717.5 L416.9,718.3 L417.6,719.1 L418.3,719.8 L419.0,720.5 L419.8,721.3 L420.5,722.0 L421.2,722.7 L422.0,723.4 L422.7,724.1 L423.5,724.8 L424.2,725.5 L425.0,726.2 L425.8,726.9 L426.6,727.6 L427.3,728.3 L428.1,728.9 L428.9,729.6 L429.7,730.2 L430.5,730.9 L431.3,731.5 L432.2,732.1 L433.0,732.8 L433.8,733.4 L434.7,734.0 L435.5,734.6 L436.4,735.2 L437.2,735.8 L438.1,736.3 L439.0,736.9 L439.8,737.5 L440.7,738.0 L441.6,738.5 L442.5,739.1 L443.4,739.6 L444.4,740.1 L445.3,740.6 L446.2,741.1 L447.2,741.5 L448.1,742.0 L449.1,742.4 L450.1,742.8 L451.0,743.2 L452.0,743.6 L453.0,744.0 L454.0,744.4 L455.0,744.7 L456.0,745.0 L457.0,745.3 L458.1,745.6 L459.1,745.9 L460.1,746.1 L461.2,746.4 L462.2,746.6 L463.3,746.8 L464.3,747.0 L465.4,747.1 L466.4,747.3 L467.5,747.4 L468.5,747.5 L469.6,747.6 L470.6,747.6 L471.7,747.7 L472.8,747.7 L473.8,747.7 L474.9,747.7 L475.9,747.7 L477.0,747.7 L478.1,747.6 L479.1,747.5 L480.2,747.4 L481.2,747.3 L482.3,747.2 L483.3,747.1 L484.3,746.9 L485.4,746.8 L486.4,746.6 L487.5,746.4 L488.5,746.2 L489.5,745.9 L490.5,745.7 L491.5,745.4 L492.6,745.2 L493.6,744.9 L494.6,744.6 L495.6,744.3 L496.6,744.0 L497.6,743.6 L498.6,743.3 L499.6,742.9 L500.5,742.5 L501.5,742.1 L502.5,741.7 L503.4,741.3 L504.4,740.8 L505.4,740.4 L506.3,739.9 L507.3,739.4 L508.2,738.9 L509.1,738.4 L510.0,737.8 L511.0,737.2 L511.9,736.6 L512.7,736.0 L513.6,735.4 L514.5,734.7 L515.3,734.0 L516.2,733.3 L517.0,732.6 L517.8,731.8 L518.5,731.0 L519.3,730.3 L520.0,729.4 L520.7,728.6 L521.4,727.8 L522.1,726.9 L522.7,726.0 L523.3,725.2 L523.9,724.3 L524.5,723.4 L525.1,722.5 L525.6,721.5 L526.1,720.6 L526.6,719.7 L527.1,718.8 L527.6,717.8 L528.0,716.9 L528.5,716.0 L528.9,715.0 L529.4,714.1 L529.8,713.2 L530.2,712.2 L530.6,711.3 L531.0,710.3 L531.4,709.4 L531.8,708.5 L532.2,707.5 L532.6,706.6 L533.0,705.6 L533.3,704.7 L533.7,703.8 L534.1,702.8 L534.4,701.9 L534.8,700.9 L535.2,700.0 L535.5,699.0 L535.9,698.1 L536.2,697.1 L536.5,696.2 L536.9,695.2 L537.2,694.2 L537.6,693.3 L537.9,692.3 L538.2,691.3 L538.5,690.4 L538.8,689.4 L539.1,688.4 L539.4,687.4 L539.7,686.4 L540.0,685.5 L540.3,684.5 L540.5,683.5 L540.8,682.5 L541.0,681.5 L541.3,680.5 L541.5,679.5 L541.7,678.4 L542.0,677.4 L542.2,676.4 L542.4,675.4 L542.5,674.4 L542.7,673.4 L542.9,672.4 L543.1,671.4 L543.2,670.4 L543.4,669.3 L543.5,668.3 L543.6,667.3 L543.8,666.3 L543.9,665.3 L544.0,664.3 L544.1,663.3 L544.2,662.3 L544.4,661.3 L544.5,660.2 L544.6,659.2 L544.7,658.2 L544.8,657.2 L544.8,656.2 L544.9,655.2 L545.0,654.2 L545.1,653.2 L545.2,652.2 L545.3,651.2 L545.4,650.2 L545.4,649.2 L545.5,648.2 L545.6,647.2 L545.7,646.2 L545.7,645.2 L545.8,644.2 L545.9,643.2 L546.0,642.2 L546.1,641.2 L546.1,640.2 L546.2,639.2 L546.3,638.2 L546.4,637.2 L546.4,636.2 L546.5,635.2 L546.6,634.2 L546.7,633.2 L546.7,632.2 L546.8,631.2 L546.9,630.2 L547.0,629.2 L547.1,628.2 L547.1,627.2 L547.2,626.3 L547.3,625.3 L547.4,624.3 L547.5,623.3 L547.5,622.3 L547.6,621.3 L547.7,620.3 L547.8,619.3 L547.8,618.3 L547.9,617.3 L548.0,616.2 L548.0,615.2 L548.1,614.2 L548.2,613.2 L548.3,612.2 L548.3,611.2 L548.4,610.2 L548.5,609.2 L548.5,608.2 L548.6,607.2 L548.6,606.2 L548.7,605.2 L548.7,604.2 L548.8,603.2 L548.8,602.2 L548.9,601.2 L548.9,600.2 L549.0,599.2 L549.0,598.2 L549.1,597.2 L549.1,596.2 L549.2,595.1 L549.2,594.1 L549.2,593.1 L549.3,592.1 L549.3,591.1 L549.3,590.1 L549.3,589.1 L549.4,588.1 L549.4,587.1 L549.4,586.1 L549.4,585.1 L549.5,584.1 L549.5,583.1 L549.5,582.1 L549.5,581.1 L549.5,580.1 L549.5,579.1 L549.6,578.1 L549.6,577.0 L549.6,576.0 L549.6,575.0" stroke="#8e8e8e" stroke-width="1.80" stroke-linecap="butt"/>
<path d="M278.0,274.4 L277.6,275.3 L277.2,276.2 L276.9,277.1 L276.5,278.1 L276.1,279.0 L275.7,279.9 L275.3,280.9 L274.9,281.8 L274.5,282.7 L274.2,283.7 L273.8,284.6 L273.4,285.5 L273.1,286.5 L272.7,287.4 L272.4,288.4 L272.0,289.3 L271.7,290.3 L271.4,291.2 L271.0,292.2 L270.7,293.2 L270.4,294.1 L270.1,295.1 L269.8,296.1 L269.6,297.1 L269.3,298.0 L269.0,299.0 L268.8,300.0 L268.6,301.0 L268.3,302.0 L268.1,303.0 L267.9,304.0 L267.7,305.0 L267.5,306.0 L267.3,307.0 L267.2,308.0 L267.0,309.0 L266.8,310.0 L266.7,311.0 L266.6,312.0 L266.4,313.0 L266.3,314.0 L266.2,315.0 L266.1,316.0 L266.0,317.0 L265.9,318.0 L265.8,319.0 L265.7,320.0 L265.6,321.0 L265.5,322.0 L265.4,323.0 L265.3,324.0 L265.3,325.0 L265.2,326.0 L265.1,327.0 L265.0,328.0 L265.0,329.0 L264.9,330.0 L264.8,331.0 L264.7,332.0 L264.7,333.0 L264.6,334.0 L264.5,335.0 L264.4,336.0 L264.4,337.0 L264.3,338.0 L264.2,339.0 L264.2,340.0 L264.1,341.0 L264.1,342.0 L264.0,343.0 L264.0,344.0 L263.9,345.0 L263.9,346.0 L263.8,347.0 L263.8,348.0 L263.7,349.0 L263.7,350.0 L263.7,351.1 L263.7,352.1 L263.7,353.1 L263.6,354.1 L263.6,355.1 L263.6,356.1 L263.6,357.1 L263.7,358.1 L263.7,359.1 L263.7,360.1 L263.7,361.1 L263.8,362.2 L263.8,363.2 L263.9,364.2 L263.9,365.2 L264.0,366.2 L264.0,367.2 L264.1,368.2 L264.2,369.2 L264.3,370.2 L264.3,371.2 L264.4,372.2 L264.5,373.2 L264.6,374.2 L264.7,375.2 L264.9,376.2 L265.0,377.2 L265.1,378.2 L265.2,379.2 L265.4,380.2 L265.5,381.2 L265.6,382.2 L265.8,383.2 L265.9,384.2 L266.1,385.2 L266.3,386.2 L266.4,387.2 L266.6,388.2 L266.8,389.2 L267.0,390.2 L267.1,391.2 L267.3,392.2 L267.5,393.2 L267.7,394.2 L268.0,395.2 L268.2,396.1 L268.4,397.1 L268.6,398.1 L268.8,399.1 L269.1,400.1 L269.3,401.0 L269.6,402.0 L269.8,403.0 L270.1,404.0 L270.3,405.0 L270.6,405.9 L270.9,406.9 L271.1,407.9 L271.4,408.8 L271.7,409.8 L272.0,410.8 L272.3,411.7 L272.6,412.7 L272.9,413.7 L273.2,414.6 L273.5,415.6 L273.8,416.5 L274.1,417.5 L274.4,418.5 L274.8,419.4 L275.1,420.4 L275.4,421.3 L275.8,422.3 L276.1,423.2 L276.5,424.2 L276.8,425.1 L277.2,426.0 L277.6,427.0 L278.0,427.9 L278.4,428.9 L278.8,429.8 L279.2,430.7 L279.6,431.6 L280.0,432.6 L280.4,433.5 L280.9,434.4 L281.3,435.3 L281.7,436.2 L282.2,437.1 L282.7,438.0 L283.1,438.9 L283.6,439.8 L284.1,440.7 L284.5,441.6 L285.0,442.5 L285.5,443.4 L286.0,444.2 L286.5,445.1 L287.0,446.0 L287.5,446.9 L288.0,447.7 L288.5,448.6 L289.1,449.5 L289.6,450.3 L290.1,451.2 L290.6,452.1 L291.2,452.9 L291.7,453.8 L292.2,454.6 L292.8,455.5 L293.3,456.3 L293.9,457.1 L294.4,458.0 L295.0,458.8 L295.5,459.7 L296.1,460.5 L296.6,461.3 L297.2,462.2 L297.8,463.0 L298.3,463.8 L298.9,464.7 L299.5,465.5 L300.1,466.3 L300.7,467.1 L301.2,468.0 L301.8,468.8 L302.4,469.6 L303.0,470.4 L303.6,471.2 L304.2,472.0 L304.8,472.8 L305.4,473.6 L306.1,474.4 L306.7,475.2 L307.3,476.0 L307.9,476.8 L308.6,477.6 L309.2,478.4 L309.8,479.1 L310.5,479.9 L311.1,480.7 L311.7,481.5 L312.4,482.2 L313.0,483.0 L313.7,483.8 L314.3,484.5 L315.0,485.3 L315.7,486.1 L316.3,486.8 L317.0,487.6 L317.6,488.3 L318.3,489.1 L318.9,489.9 L319.6,490.6 L320.2,491.4 L320.9,492.1 L321.6,492.9 L322.2,493.6 L322.9,494.4 L323.5,495.1 L324.1,495.9 L324.8,496.7 L325.4,497.4 L326.1,498.2 L326.7,499.0 L327.4,499.7 L328.0,500.5 L328.6,501.3 L329.2,502.0 L329.9,502.8 L330.5,503.6 L331.1,504.4 L331.7,505.1 L332.4,505.9 L333.0,506.7 L333.6,507.5 L334.2,508.3 L334.8,509.1 L335.4,509.9 L336.0,510.7 L336.6,511.5 L337.2,512.3 L337.8,513.1 L338.3,513.9 L338.9,514.7 L339.5,515.5 L340.1,516.3 L340.7,517.1 L341.2,517.9 L341.8,518.7 L342.4,519.5 L342.9,520.4 L343.5,521.2 L344.1,522.0 L344.6,522.8 L345.2,523.7 L345.7,524.5 L346.3,525.3 L346.8,526.1 L347.3,526.9 L347.8,527.8 L348.2,528.6 L348.6,529.5 L349.1,530.3 L349.5,531.2 L349.9,532.1 L350.3,533.0 L350.7,534.0 L351.1,534.9 L351.5,535.8 L351.9,536.7 L352.2,537.6 L352.6,538.5 L353.0,539.5 L353.4,540.4 L353.8,541.3 L354.1,542.2 L354.5,543.1 L354.8,544.1 L355.2,545.0 L355.5,545.9 L355.9,546.9 L356.2,547.8 L356.5,548.7 L356.8,549.7 L357.2,550.6 L357.5,551.5 L357.8,552.5 L358.1,553.4 L358.4,554.4 L358.6,555.3 L358.9,556.3 L359.2,557.2 L359.5,558.2 L359.7,559.1 L360.0,560.1 L360.2,561.1 L360.5,562.0 L360.7,563.0 L360.9,563.9 L361.2,564.9 L361.4,565.9 L361.6,566.9 L361.9,567.8 L362.1,568.8 L362.3,569.8 L362.5,570.7 L362.7,571.7 L362.9,572.7 L363.2,573.7 L363.4,574.6 L363.6,575.6 L363.8,576.6 L364.0,577.6 L364.2,578.6 L364.4,579.5 L364.6,580.5 L364.8,581.5 L365.1,582.5 L365.3,583.5 L365.5,584.4 L365.7,585.4 L365.9,586.4 L366.2,587.4 L366.4,588.3 L366.6,589.3 L366.8,590.3 L367.1,591.3 L367.3,592.3 L367.5,593.2 L367.8,594.2 L368.0,595.2 L368.3,596.2 L368.5,597.1 L368.7,598.1 L369.0,599.1 L369.2,600.0 L369.5,601.0 L369.7,602.0 L370.0,603.0 L370.2,603.9 L370.5,604.9 L370.8,605.9 L371.0,606.8 L371.3,607.8 L371.5,608.8 L371.8,609.7 L372.1,610.7 L372.3,611.7 L372.6,612.6 L372.9,613.6 L373.1,614.6 L373.4,615.5 L373.7,616.5 L374.0,617.5 L374.2,618.4 L374.5,619.4 L374.8,620.4 L375.1,621.3 L375.4,622.3 L375.7,623.3 L376.0,624.2 L376.2,625.2 L376.5,626.1 L376.8,627.1 L377.1,628.1 L377.4,629.0 L377.7,630.0 L378.0,630.9 L378.3,631.9 L378.7,632.8 L379.0,633.8 L379.3,634.8 L379.6,635.7 L379.9,636.7 L380.2,637.6 L380.5,638.6 L380.9,639.5 L381.2,640.5 L381.5,641.4 L381.8,642.4 L382.2,643.3 L382.5,644.3 L382.8,645.2 L383.1,646.2 L383.5,647.1 L383.8,648.0 L384.1,649.0 L384.5,649.9 L384.8,650.9 L385.1,651.8 L385.4,652.8 L385.8,653.7 L386.1,654.7 L386.5,655.6 L386.8,656.6 L387.1,657.5 L387.5,658.4 L387.8,659.4 L388.2,660.3 L388.5,661.3 L388.9,662.2 L389.2,663.1 L389.6,664.1 L389.9,665.0 L390.3,666.0 L390.6,666.9 L391.0,667.8 L391.4,668.8 L391.7,669.7 L392.1,670.6 L392.5,671.6 L392.9,672.5 L393.2,673.4 L393.6,674.4 L394.0,675.3 L394.4,676.2 L394.7,677.2 L395.1,678.1 L395.5,679.0 L395.9,679.9 L396.3,680.9 L396.7,681.8 L397.0,682.7 L397.4,683.6 L397.8,684.6 L398.2,685.5 L398.6,686.4 L399.0,687.3 L399.4,688.3 L399.9,689.2 L400.3,690.1 L400.7,691.0 L401.1,691.9 L401.6,692.8 L402.0,693.8 L402.5,694.7 L403.0,695.6 L403.4,696.5 L403.9,697.4 L404.4,698.2 L404.9,699.1 L405.4,700.0 L406.0,700.9 L406.5,701.7 L407.1,702.6 L407.6,703.5 L408.2,704.3 L408.8,705.1 L409.3,706.0 L409.9,706.8 L410.5,707.6 L411.2,708.4 L411.8,709.2 L412.4,710.0 L413.0,710.8 L413.7,711.6 L414.3,712.4 L415.0,713.2 L415.7,713.9 L416.3,714.7 L417.0,715.4 L417.7,716.2 L418.4,716.9 L419.1,717.7 L419.8,718.4 L420.5,719.1 L421.2,719.9 L421.9,720.6 L422.6,721.3 L423.4,722.0 L424.1,722.7 L424.8,723.4 L425.6,724.1 L426.3,724.7 L427.1,725.4 L427.9,726.1 L428.6,726.7 L429.4,727.4 L430.2,728.0 L431.0,728.7 L431.8,729.3 L432.6,729.9 L433.4,730.6 L434.2,731.2 L435.0,731.8 L435.8,732.4 L436.7,733.0 L437.5,733.5 L438.3,734.1 L439.2,734.7 L440.0,735.2 L440.9,735.8 L441.8,736.3 L442.6,736.8 L443.5,737.3 L444.4,737.8 L445.3,738.3 L446.2,738.8 L447.1,739.3 L448.0,739.7 L449.0,740.2 L449.9,740.6 L450.8,741.0 L451.8,741.4 L452.7,741.8 L453.7,742.1 L454.7,742.5 L455.6,742.8 L456.6,743.1 L457.6,743.4 L458.6,743.7 L459.6,744.0 L460.6,744.2 L461.6,744.4 L462.6,744.6 L463.6,744.8 L464.6,745.0 L465.6,745.1 L466.7,745.3 L467.7,745.4 L468.7,745.5 L469.7,745.6 L470.8,745.6 L471.8,745.7 L472.8,745.7 L473.8,745.7 L474.9,745.7 L475.9,745.7 L476.9,745.7 L477.9,745.6 L479.0,745.5 L480.0,745.5 L481.0,745.4 L482.0,745.2 L483.0,745.1 L484.0,745.0 L485.0,744.8 L486.1,744.6 L487.1,744.4 L488.1,744.2 L489.1,744.0 L490.1,743.8 L491.0,743.5 L492.0,743.2 L493.0,743.0 L494.0,742.7 L495.0,742.4 L496.0,742.1 L496.9,741.7 L497.9,741.4 L498.8,741.0 L499.8,740.7 L500.7,740.3 L501.7,739.9 L502.6,739.5 L503.6,739.0 L504.5,738.6 L505.4,738.1 L506.3,737.6 L507.2,737.2 L508.1,736.6 L509.0,736.1 L509.9,735.6 L510.7,735.0 L511.6,734.4 L512.4,733.8 L513.2,733.1 L514.0,732.5 L514.8,731.8 L515.6,731.1 L516.4,730.4 L517.1,729.7 L517.8,728.9 L518.5,728.1 L519.2,727.3 L519.8,726.5 L520.5,725.7 L521.1,724.9 L521.7,724.0 L522.2,723.2 L522.8,722.3 L523.3,721.4 L523.9,720.5 L524.4,719.6 L524.9,718.7 L525.3,717.8 L525.8,716.9 L526.3,716.0 L526.7,715.1 L527.1,714.2 L527.6,713.3 L528.0,712.3 L528.4,711.4 L528.8,710.5 L529.2,709.6 L529.6,708.6 L530.0,707.7 L530.3,706.8 L530.7,705.8 L531.1,704.9 L531.5,704.0 L531.8,703.0 L532.2,702.1 L532.6,701.2 L532.9,700.2 L533.3,699.3 L533.6,698.3 L534.0,697.4 L534.3,696.4 L534.7,695.5 L535.0,694.5 L535.3,693.6 L535.7,692.6 L536.0,691.7 L536.3,690.7 L536.6,689.8 L536.9,688.8 L537.2,687.8 L537.5,686.9 L537.8,685.9 L538.1,684.9 L538.3,683.9 L538.6,683.0 L538.9,682.0 L539.1,681.0 L539.3,680.0 L539.6,679.0 L539.8,678.0 L540.0,677.0 L540.2,676.0 L540.4,675.0 L540.6,674.0 L540.7,673.0 L540.9,672.0 L541.1,671.1 L541.2,670.1 L541.4,669.1 L541.5,668.1 L541.7,667.0 L541.8,666.0 L541.9,665.0 L542.0,664.0 L542.1,663.0 L542.3,662.0 L542.4,661.0 L542.5,660.0 L542.6,659.0 L542.7,658.0 L542.8,657.0 L542.9,656.0 L542.9,655.0 L543.0,654.0 L543.1,653.0 L543.2,652.0 L543.3,651.0 L543.4,650.0 L543.4,649.0 L543.5,648.0 L543.6,647.0 L543.7,646.0 L543.8,645.0 L543.8,644.1 L543.9,643.1 L544.0,642.1 L544.1,641.1 L544.1,640.1 L544.2,639.1 L544.3,638.1 L544.4,637.1 L544.4,636.1 L544.5,635.1 L544.6,634.1 L544.7,633.1 L544.8,632.1 L544.8,631.1 L544.9,630.1 L545.0,629.1 L545.1,628.1 L545.1,627.1 L545.2,626.1 L545.3,625.1 L545.4,624.1 L545.5,623.1 L545.5,622.1 L545.6,621.1 L545.7,620.1 L545.8,619.1 L545.8,618.1 L545.9,617.1 L546.0,616.1 L546.1,615.1 L546.1,614.1 L546.2,613.1 L546.3,612.1 L546.3,611.1 L546.4,610.1 L546.5,609.1 L546.5,608.1 L546.6,607.1 L546.6,606.1 L546.7,605.1 L546.7,604.1 L546.8,603.1 L546.8,602.1 L546.9,601.1 L546.9,600.1 L547.0,599.1 L547.0,598.1 L547.1,597.1 L547.1,596.1 L547.2,595.1 L547.2,594.1 L547.2,593.1 L547.3,592.1 L547.3,591.1 L547.3,590.1 L547.3,589.1 L547.4,588.0 L547.4,587.0 L547.4,586.0 L547.4,585.0 L547.5,584.0 L547.5,583.0 L547.5,582.0 L547.5,581.0 L547.5,580.0 L547.5,579.0 L547.6,578.0 L547.6,577.0 L547.6,576.0 L547.6,575.0" stroke="#fbfbfb" stroke-width="2.30" stroke-linecap="butt"/>
<path d="M280.4,275.4 L280.0,276.3 L279.6,277.2 L279.3,278.2 L278.9,279.1 L278.5,280.0 L278.1,280.9 L277.7,281.8 L277.3,282.8 L277.0,283.7 L276.6,284.6 L276.2,285.5 L275.9,286.5 L275.5,287.4 L275.2,288.3 L274.8,289.3 L274.5,290.2 L274.1,291.1 L273.8,292.1 L273.5,293.0 L273.2,293.9 L272.9,294.9 L272.6,295.8 L272.3,296.8 L272.1,297.7 L271.8,298.7 L271.6,299.7 L271.3,300.6 L271.1,301.6 L270.9,302.5 L270.7,303.5 L270.4,304.5 L270.3,305.5 L270.1,306.4 L269.9,307.4 L269.7,308.4 L269.6,309.4 L269.4,310.3 L269.3,311.3 L269.1,312.3 L269.0,313.3 L268.9,314.3 L268.8,315.3 L268.7,316.3 L268.6,317.3 L268.5,318.2 L268.4,319.2 L268.3,320.2 L268.2,321.2 L268.1,322.2 L268.0,323.2 L267.9,324.2 L267.9,325.2 L267.8,326.2 L267.7,327.2 L267.6,328.2 L267.5,329.2 L267.5,330.2 L267.4,331.2 L267.3,332.2 L267.3,333.2 L267.2,334.2 L267.1,335.2 L267.0,336.2 L267.0,337.2 L266.9,338.2 L266.8,339.2 L266.8,340.2 L266.7,341.2 L266.7,342.1 L266.6,343.1 L266.6,344.1 L266.5,345.1 L266.5,346.1 L266.4,347.1 L266.4,348.1 L266.3,349.1 L266.3,350.1 L266.3,351.1 L266.3,352.1 L266.3,353.1 L266.2,354.1 L266.2,355.1 L266.2,356.1 L266.2,357.1 L266.3,358.1 L266.3,359.1 L266.3,360.1 L266.3,361.1 L266.4,362.1 L266.4,363.1 L266.5,364.0 L266.5,365.0 L266.6,366.0 L266.6,367.0 L266.7,368.0 L266.8,369.0 L266.8,370.0 L266.9,371.0 L267.0,372.0 L267.1,373.0 L267.2,374.0 L267.3,375.0 L267.4,375.9 L267.6,376.9 L267.7,377.9 L267.8,378.9 L267.9,379.9 L268.1,380.9 L268.2,381.9 L268.4,382.9 L268.5,383.8 L268.7,384.8 L268.8,385.8 L269.0,386.8 L269.2,387.8 L269.3,388.7 L269.5,389.7 L269.7,390.7 L269.9,391.7 L270.1,392.7 L270.3,393.6 L270.5,394.6 L270.7,395.6 L270.9,396.5 L271.1,397.5 L271.4,398.5 L271.6,399.5 L271.8,400.4 L272.1,401.4 L272.3,402.3 L272.6,403.3 L272.8,404.3 L273.1,405.2 L273.4,406.2 L273.6,407.2 L273.9,408.1 L274.2,409.1 L274.5,410.0 L274.8,411.0 L275.1,411.9 L275.3,412.9 L275.6,413.8 L275.9,414.8 L276.3,415.7 L276.6,416.7 L276.9,417.6 L277.2,418.6 L277.5,419.5 L277.9,420.4 L278.2,421.4 L278.6,422.3 L278.9,423.2 L279.3,424.2 L279.6,425.1 L280.0,426.0 L280.4,426.9 L280.8,427.8 L281.2,428.8 L281.6,429.7 L282.0,430.6 L282.4,431.5 L282.8,432.4 L283.2,433.3 L283.6,434.2 L284.1,435.1 L284.5,436.0 L285.0,436.8 L285.4,437.7 L285.9,438.6 L286.4,439.5 L286.8,440.4 L287.3,441.2 L287.8,442.1 L288.3,443.0 L288.8,443.8 L289.3,444.7 L289.8,445.6 L290.3,446.4 L290.8,447.3 L291.3,448.1 L291.8,449.0 L292.3,449.8 L292.8,450.7 L293.4,451.5 L293.9,452.4 L294.4,453.2 L295.0,454.1 L295.5,454.9 L296.0,455.7 L296.6,456.6 L297.1,457.4 L297.7,458.2 L298.2,459.1 L298.8,459.9 L299.4,460.7 L299.9,461.5 L300.5,462.4 L301.1,463.2 L301.6,464.0 L302.2,464.8 L302.8,465.6 L303.4,466.4 L303.9,467.2 L304.5,468.0 L305.1,468.9 L305.7,469.7 L306.3,470.5 L306.9,471.2 L307.5,472.0 L308.1,472.8 L308.7,473.6 L309.3,474.4 L310.0,475.2 L310.6,476.0 L311.2,476.7 L311.8,477.5 L312.5,478.3 L313.1,479.0 L313.7,479.8 L314.4,480.6 L315.0,481.3 L315.7,482.1 L316.3,482.9 L317.0,483.6 L317.6,484.4 L318.3,485.1 L318.9,485.9 L319.6,486.6 L320.2,487.4 L320.9,488.1 L321.6,488.9 L322.2,489.7 L322.9,490.4 L323.5,491.2 L324.2,491.9 L324.8,492.7 L325.5,493.5 L326.1,494.2 L326.8,495.0 L327.4,495.8 L328.1,496.5 L328.7,497.3 L329.4,498.1 L330.0,498.8 L330.6,499.6 L331.3,500.4 L331.9,501.2 L332.5,502.0 L333.2,502.7 L333.8,503.5 L334.4,504.3 L335.0,505.1 L335.6,505.9 L336.2,506.7 L336.9,507.5 L337.5,508.3 L338.1,509.1 L338.7,509.9 L339.3,510.7 L339.9,511.5 L340.4,512.3 L341.0,513.1 L341.6,514.0 L342.2,514.8 L342.8,515.6 L343.4,516.4 L343.9,517.2 L344.5,518.1 L345.1,518.9 L345.7,519.7 L346.2,520.5 L346.8,521.4 L347.3,522.2 L347.9,523.0 L348.5,523.9 L349.0,524.7 L349.5,525.6 L350.0,526.5 L350.5,527.4 L351.0,528.3 L351.4,529.2 L351.8,530.2 L352.2,531.1 L352.7,532.0 L353.1,532.9 L353.5,533.8 L353.9,534.8 L354.2,535.7 L354.6,536.6 L355.0,537.5 L355.4,538.5 L355.8,539.4 L356.2,540.3 L356.5,541.3 L356.9,542.2 L357.3,543.1 L357.6,544.1 L358.0,545.0 L358.3,546.0 L358.6,546.9 L359.0,547.9 L359.3,548.8 L359.6,549.8 L359.9,550.7 L360.2,551.7 L360.5,552.7 L360.8,553.6 L361.1,554.6 L361.4,555.6 L361.7,556.5 L362.0,557.5 L362.2,558.5 L362.5,559.4 L362.7,560.4 L363.0,561.4 L363.2,562.4 L363.5,563.3 L363.7,564.3 L363.9,565.3 L364.2,566.3 L364.4,567.2 L364.6,568.2 L364.8,569.2 L365.1,570.2 L365.3,571.2 L365.5,572.1 L365.7,573.1 L365.9,574.1 L366.1,575.1 L366.3,576.1 L366.5,577.0 L366.7,578.0 L367.0,579.0 L367.2,580.0 L367.4,580.9 L367.6,581.9 L367.8,582.9 L368.0,583.9 L368.2,584.8 L368.5,585.8 L368.7,586.8 L368.9,587.8 L369.1,588.7 L369.4,589.7 L369.6,590.7 L369.8,591.6 L370.1,592.6 L370.3,593.6 L370.5,594.6 L370.8,595.5 L371.0,596.5 L371.3,597.5 L371.5,598.4 L371.8,599.4 L372.0,600.4 L372.3,601.3 L372.5,602.3 L372.8,603.3 L373.0,604.2 L373.3,605.2 L373.5,606.2 L373.8,607.1 L374.1,608.1 L374.3,609.1 L374.6,610.0 L374.8,611.0 L375.1,612.0 L375.4,612.9 L375.6,613.9 L375.9,614.8 L376.2,615.8 L376.5,616.8 L376.7,617.7 L377.0,618.7 L377.3,619.6 L377.6,620.6 L377.9,621.6 L378.2,622.5 L378.4,623.5 L378.7,624.4 L379.0,625.4 L379.3,626.3 L379.6,627.3 L379.9,628.2 L380.2,629.2 L380.5,630.1 L380.8,631.1 L381.1,632.0 L381.4,633.0 L381.7,633.9 L382.1,634.9 L382.4,635.8 L382.7,636.8 L383.0,637.7 L383.3,638.7 L383.6,639.6 L384.0,640.6 L384.3,641.5 L384.6,642.5 L384.9,643.4 L385.3,644.4 L385.6,645.3 L385.9,646.2 L386.2,647.2 L386.6,648.1 L386.9,649.1 L387.2,650.0 L387.6,651.0 L387.9,651.9 L388.2,652.8 L388.6,653.8 L388.9,654.7 L389.2,655.7 L389.6,656.6 L389.9,657.6 L390.3,658.5 L390.6,659.4 L391.0,660.4 L391.3,661.3 L391.7,662.2 L392.0,663.2 L392.4,664.1 L392.7,665.0 L393.1,666.0 L393.4,666.9 L393.8,667.8 L394.2,668.8 L394.5,669.7 L394.9,670.6 L395.3,671.5 L395.6,672.5 L396.0,673.4 L396.4,674.3 L396.8,675.2 L397.1,676.2 L397.5,677.1 L397.9,678.0 L398.3,678.9 L398.7,679.9 L399.1,680.8 L399.4,681.7 L399.8,682.6 L400.2,683.5 L400.6,684.5 L401.0,685.4 L401.4,686.3 L401.8,687.2 L402.2,688.1 L402.6,689.0 L403.1,689.9 L403.5,690.8 L403.9,691.7 L404.4,692.6 L404.8,693.5 L405.3,694.4 L405.7,695.2 L406.2,696.1 L406.7,697.0 L407.2,697.8 L407.7,698.7 L408.2,699.5 L408.7,700.4 L409.2,701.2 L409.8,702.0 L410.3,702.8 L410.9,703.7 L411.5,704.5 L412.0,705.3 L412.6,706.1 L413.2,706.9 L413.8,707.6 L414.4,708.4 L415.1,709.2 L415.7,710.0 L416.3,710.7 L417.0,711.5 L417.6,712.2 L418.3,713.0 L418.9,713.7 L419.6,714.4 L420.3,715.2 L421.0,715.9 L421.6,716.6 L422.3,717.3 L423.0,718.0 L423.7,718.7 L424.4,719.4 L425.2,720.1 L425.9,720.8 L426.6,721.5 L427.3,722.1 L428.1,722.8 L428.8,723.5 L429.6,724.1 L430.3,724.8 L431.1,725.4 L431.8,726.0 L432.6,726.7 L433.4,727.3 L434.2,727.9 L434.9,728.5 L435.7,729.1 L436.5,729.7 L437.3,730.2 L438.1,730.8 L439.0,731.4 L439.8,731.9 L440.6,732.5 L441.4,733.0 L442.3,733.6 L443.1,734.1 L444.0,734.6 L444.8,735.1 L445.7,735.6 L446.5,736.0 L447.4,736.5 L448.3,736.9 L449.2,737.4 L450.1,737.8 L451.0,738.2 L451.9,738.6 L452.8,739.0 L453.7,739.3 L454.6,739.7 L455.5,740.0 L456.5,740.3 L457.4,740.6 L458.3,740.9 L459.3,741.2 L460.2,741.4 L461.2,741.7 L462.1,741.9 L463.1,742.1 L464.1,742.3 L465.0,742.4 L466.0,742.6 L467.0,742.7 L468.0,742.8 L468.9,742.9 L469.9,743.0 L470.9,743.0 L471.9,743.1 L472.9,743.1 L473.8,743.1 L474.8,743.1 L475.8,743.1 L476.8,743.1 L477.8,743.0 L478.8,742.9 L479.7,742.9 L480.7,742.8 L481.7,742.7 L482.7,742.5 L483.6,742.4 L484.6,742.2 L485.6,742.1 L486.6,741.9 L487.5,741.7 L488.5,741.5 L489.4,741.2 L490.4,741.0 L491.4,740.7 L492.3,740.5 L493.2,740.2 L494.2,739.9 L495.1,739.6 L496.1,739.3 L497.0,738.9 L497.9,738.6 L498.8,738.2 L499.7,737.9 L500.7,737.5 L501.6,737.1 L502.4,736.7 L503.3,736.3 L504.2,735.8 L505.1,735.4 L505.9,734.9 L506.8,734.4 L507.6,733.9 L508.5,733.4 L509.3,732.8 L510.1,732.3 L510.9,731.7 L511.6,731.1 L512.4,730.5 L513.1,729.9 L513.8,729.2 L514.5,728.5 L515.2,727.8 L515.9,727.1 L516.5,726.4 L517.2,725.7 L517.8,724.9 L518.4,724.1 L519.0,723.4 L519.5,722.6 L520.1,721.7 L520.6,720.9 L521.1,720.1 L521.6,719.2 L522.1,718.4 L522.6,717.5 L523.0,716.6 L523.5,715.8 L523.9,714.9 L524.4,714.0 L524.8,713.1 L525.2,712.2 L525.6,711.3 L526.0,710.4 L526.4,709.5 L526.8,708.5 L527.2,707.6 L527.6,706.7 L527.9,705.8 L528.3,704.9 L528.7,703.9 L529.1,703.0 L529.4,702.1 L529.8,701.2 L530.1,700.2 L530.5,699.3 L530.8,698.4 L531.2,697.4 L531.5,696.5 L531.9,695.6 L532.2,694.6 L532.6,693.7 L532.9,692.7 L533.2,691.8 L533.5,690.9 L533.8,689.9 L534.1,689.0 L534.4,688.0 L534.7,687.1 L535.0,686.1 L535.3,685.2 L535.6,684.2 L535.8,683.3 L536.1,682.3 L536.3,681.3 L536.6,680.4 L536.8,679.4 L537.0,678.4 L537.2,677.5 L537.4,676.5 L537.6,675.5 L537.8,674.6 L538.0,673.6 L538.2,672.6 L538.4,671.6 L538.5,670.6 L538.7,669.7 L538.8,668.7 L538.9,667.7 L539.1,666.7 L539.2,665.7 L539.3,664.7 L539.5,663.7 L539.6,662.8 L539.7,661.8 L539.8,660.8 L539.9,659.8 L540.0,658.8 L540.1,657.8 L540.2,656.8 L540.3,655.8 L540.3,654.8 L540.4,653.8 L540.5,652.8 L540.6,651.8 L540.7,650.8 L540.8,649.8 L540.8,648.8 L540.9,647.8 L541.0,646.8 L541.1,645.8 L541.2,644.8 L541.2,643.9 L541.3,642.9 L541.4,641.9 L541.5,640.9 L541.5,639.9 L541.6,638.9 L541.7,637.9 L541.8,636.9 L541.9,635.9 L541.9,634.9 L542.0,633.9 L542.1,632.9 L542.2,631.9 L542.2,630.9 L542.3,629.9 L542.4,628.9 L542.5,627.9 L542.6,626.9 L542.6,625.9 L542.7,624.9 L542.8,623.9 L542.9,622.9 L542.9,621.9 L543.0,620.9 L543.1,619.9 L543.2,618.9 L543.2,617.9 L543.3,616.9 L543.4,615.9 L543.5,614.9 L543.5,613.9 L543.6,612.9 L543.7,611.9 L543.7,610.9 L543.8,609.9 L543.9,608.9 L543.9,607.9 L544.0,606.9 L544.0,605.9 L544.1,604.9 L544.1,604.0 L544.2,603.0 L544.3,602.0 L544.3,601.0 L544.3,600.0 L544.4,599.0 L544.4,598.0 L544.5,597.0 L544.5,596.0 L544.6,595.0 L544.6,594.0 L544.6,593.0 L544.7,592.0 L544.7,591.0 L544.7,590.0 L544.7,589.0 L544.8,588.0 L544.8,587.0 L544.8,586.0 L544.8,585.0 L544.9,584.0 L544.9,583.0 L544.9,582.0 L544.9,581.0 L544.9,580.0 L544.9,579.0 L545.0,578.0 L545.0,577.0 L545.0,576.0 L545.0,575.0" stroke="#b4b4b4" stroke-width="2.90" stroke-linecap="butt"/>
<path d="M282.8,276.4 L282.4,277.3 L282.0,278.2 L281.6,279.2 L281.3,280.1 L280.9,281.0 L280.5,281.9 L280.1,282.8 L279.7,283.7 L279.4,284.7 L279.0,285.6 L278.6,286.5 L278.3,287.4 L277.9,288.3 L277.6,289.2 L277.3,290.1 L276.9,291.1 L276.6,292.0 L276.3,292.9 L276.0,293.8 L275.7,294.7 L275.4,295.7 L275.1,296.6 L274.8,297.5 L274.6,298.4 L274.3,299.4 L274.1,300.3 L273.8,301.2 L273.6,302.2 L273.4,303.1 L273.2,304.1 L273.0,305.0 L272.8,306.0 L272.6,306.9 L272.5,307.9 L272.3,308.8 L272.1,309.8 L272.0,310.7 L271.9,311.7 L271.7,312.7 L271.6,313.6 L271.5,314.6 L271.4,315.6 L271.3,316.5 L271.1,317.5 L271.1,318.5 L271.0,319.5 L270.9,320.5 L270.8,321.5 L270.7,322.4 L270.6,323.4 L270.5,324.4 L270.4,325.4 L270.4,326.4 L270.3,327.4 L270.2,328.4 L270.1,329.4 L270.1,330.4 L270.0,331.4 L269.9,332.4 L269.8,333.4 L269.8,334.4 L269.7,335.4 L269.6,336.3 L269.6,337.3 L269.5,338.3 L269.4,339.3 L269.4,340.3 L269.3,341.3 L269.3,342.3 L269.2,343.3 L269.1,344.3 L269.1,345.3 L269.1,346.2 L269.0,347.2 L269.0,348.2 L268.9,349.2 L268.9,350.2 L268.9,351.2 L268.9,352.2 L268.9,353.1 L268.8,354.1 L268.8,355.1 L268.8,356.1 L268.8,357.1 L268.9,358.0 L268.9,359.0 L268.9,360.0 L268.9,361.0 L269.0,362.0 L269.0,362.9 L269.0,363.9 L269.1,364.9 L269.2,365.9 L269.2,366.9 L269.3,367.8 L269.4,368.8 L269.4,369.8 L269.5,370.8 L269.6,371.7 L269.7,372.7 L269.8,373.7 L269.9,374.7 L270.0,375.6 L270.1,376.6 L270.3,377.6 L270.4,378.6 L270.5,379.6 L270.6,380.5 L270.8,381.5 L270.9,382.5 L271.1,383.4 L271.2,384.4 L271.4,385.4 L271.5,386.3 L271.7,387.3 L271.9,388.3 L272.1,389.2 L272.2,390.2 L272.4,391.2 L272.6,392.1 L272.8,393.1 L273.0,394.1 L273.2,395.0 L273.5,396.0 L273.7,396.9 L273.9,397.9 L274.1,398.8 L274.4,399.8 L274.6,400.7 L274.9,401.7 L275.1,402.6 L275.4,403.6 L275.6,404.5 L275.9,405.5 L276.1,406.4 L276.4,407.4 L276.7,408.3 L277.0,409.3 L277.3,410.2 L277.5,411.2 L277.8,412.1 L278.1,413.1 L278.4,414.0 L278.7,414.9 L279.0,415.9 L279.3,416.8 L279.7,417.7 L280.0,418.6 L280.3,419.6 L280.6,420.5 L281.0,421.4 L281.3,422.3 L281.7,423.2 L282.0,424.1 L282.4,425.0 L282.8,425.9 L283.2,426.8 L283.5,427.7 L283.9,428.6 L284.3,429.5 L284.7,430.4 L285.1,431.3 L285.6,432.2 L286.0,433.0 L286.4,433.9 L286.8,434.8 L287.3,435.7 L287.7,436.5 L288.2,437.4 L288.6,438.3 L289.1,439.1 L289.6,440.0 L290.1,440.8 L290.5,441.7 L291.0,442.5 L291.5,443.4 L292.0,444.3 L292.5,445.1 L293.0,445.9 L293.5,446.8 L294.0,447.6 L294.5,448.5 L295.0,449.3 L295.6,450.2 L296.1,451.0 L296.6,451.8 L297.2,452.7 L297.7,453.5 L298.2,454.3 L298.8,455.1 L299.3,456.0 L299.9,456.8 L300.4,457.6 L301.0,458.4 L301.5,459.3 L302.1,460.1 L302.6,460.9 L303.2,461.7 L303.8,462.5 L304.3,463.3 L304.9,464.1 L305.5,464.9 L306.0,465.7 L306.6,466.5 L307.2,467.3 L307.8,468.1 L308.4,468.9 L309.0,469.7 L309.6,470.5 L310.2,471.2 L310.8,472.0 L311.4,472.8 L312.0,473.6 L312.6,474.3 L313.2,475.1 L313.8,475.9 L314.5,476.6 L315.1,477.4 L315.7,478.1 L316.4,478.9 L317.0,479.7 L317.7,480.4 L318.3,481.2 L318.9,481.9 L319.6,482.7 L320.2,483.4 L320.9,484.2 L321.5,484.9 L322.2,485.7 L322.9,486.4 L323.5,487.2 L324.2,488.0 L324.8,488.7 L325.5,489.5 L326.1,490.2 L326.8,491.0 L327.5,491.8 L328.1,492.5 L328.8,493.3 L329.4,494.1 L330.1,494.9 L330.7,495.6 L331.4,496.4 L332.0,497.2 L332.6,498.0 L333.3,498.8 L333.9,499.5 L334.6,500.3 L335.2,501.1 L335.8,501.9 L336.4,502.7 L337.1,503.5 L337.7,504.3 L338.3,505.1 L338.9,505.9 L339.5,506.7 L340.1,507.5 L340.8,508.4 L341.4,509.2 L342.0,510.0 L342.6,510.8 L343.1,511.6 L343.7,512.4 L344.3,513.3 L344.9,514.1 L345.5,514.9 L346.1,515.8 L346.6,516.6 L347.2,517.4 L347.8,518.2 L348.4,519.1 L348.9,519.9 L349.5,520.8 L350.1,521.6 L350.7,522.5 L351.2,523.4 L351.8,524.3 L352.3,525.3 L352.8,526.2 L353.3,527.2 L353.8,528.1 L354.2,529.1 L354.6,530.0 L355.0,530.9 L355.4,531.9 L355.8,532.8 L356.2,533.7 L356.6,534.7 L357.0,535.6 L357.4,536.5 L357.8,537.5 L358.2,538.4 L358.6,539.4 L359.0,540.3 L359.3,541.3 L359.7,542.2 L360.1,543.2 L360.4,544.1 L360.8,545.1 L361.1,546.1 L361.4,547.0 L361.8,548.0 L362.1,549.0 L362.4,549.9 L362.7,550.9 L363.0,551.9 L363.3,552.9 L363.6,553.8 L363.9,554.8 L364.2,555.8 L364.5,556.8 L364.7,557.8 L365.0,558.8 L365.3,559.8 L365.5,560.7 L365.8,561.7 L366.0,562.7 L366.2,563.7 L366.5,564.7 L366.7,565.7 L366.9,566.7 L367.2,567.6 L367.4,568.6 L367.6,569.6 L367.8,570.6 L368.0,571.6 L368.2,572.6 L368.4,573.5 L368.7,574.5 L368.9,575.5 L369.1,576.5 L369.3,577.5 L369.5,578.4 L369.7,579.4 L369.9,580.4 L370.1,581.4 L370.4,582.3 L370.6,583.3 L370.8,584.3 L371.0,585.2 L371.2,586.2 L371.4,587.2 L371.7,588.1 L371.9,589.1 L372.1,590.1 L372.4,591.0 L372.6,592.0 L372.8,593.0 L373.1,593.9 L373.3,594.9 L373.5,595.9 L373.8,596.8 L374.0,597.8 L374.3,598.8 L374.5,599.7 L374.8,600.7 L375.0,601.6 L375.3,602.6 L375.5,603.6 L375.8,604.5 L376.0,605.5 L376.3,606.5 L376.6,607.4 L376.8,608.4 L377.1,609.3 L377.3,610.3 L377.6,611.3 L377.9,612.2 L378.1,613.2 L378.4,614.1 L378.7,615.1 L379.0,616.0 L379.2,617.0 L379.5,618.0 L379.8,618.9 L380.1,619.9 L380.4,620.8 L380.6,621.8 L380.9,622.7 L381.2,623.7 L381.5,624.6 L381.8,625.6 L382.1,626.5 L382.4,627.5 L382.7,628.4 L383.0,629.4 L383.3,630.3 L383.6,631.2 L383.9,632.2 L384.2,633.1 L384.5,634.1 L384.8,635.0 L385.2,636.0 L385.5,636.9 L385.8,637.9 L386.1,638.8 L386.4,639.7 L386.7,640.7 L387.1,641.6 L387.4,642.6 L387.7,643.5 L388.0,644.4 L388.4,645.4 L388.7,646.3 L389.0,647.3 L389.4,648.2 L389.7,649.2 L390.0,650.1 L390.4,651.0 L390.7,652.0 L391.0,652.9 L391.4,653.9 L391.7,654.8 L392.0,655.7 L392.4,656.7 L392.7,657.6 L393.1,658.5 L393.4,659.5 L393.7,660.4 L394.1,661.3 L394.4,662.2 L394.8,663.2 L395.1,664.1 L395.5,665.0 L395.9,666.0 L396.2,666.9 L396.6,667.8 L396.9,668.7 L397.3,669.7 L397.7,670.6 L398.1,671.5 L398.4,672.4 L398.8,673.3 L399.2,674.3 L399.6,675.2 L399.9,676.1 L400.3,677.0 L400.7,677.9 L401.1,678.9 L401.5,679.8 L401.8,680.7 L402.2,681.6 L402.6,682.5 L403.0,683.4 L403.4,684.3 L403.8,685.2 L404.2,686.1 L404.6,687.0 L405.0,687.9 L405.4,688.8 L405.8,689.7 L406.2,690.6 L406.7,691.4 L407.1,692.3 L407.6,693.1 L408.0,694.0 L408.5,694.8 L408.9,695.7 L409.4,696.5 L409.9,697.3 L410.4,698.2 L410.9,699.0 L411.4,699.8 L411.9,700.6 L412.5,701.4 L413.0,702.2 L413.6,703.0 L414.1,703.7 L414.7,704.5 L415.3,705.3 L415.9,706.0 L416.5,706.8 L417.1,707.6 L417.7,708.3 L418.3,709.0 L418.9,709.8 L419.6,710.5 L420.2,711.2 L420.9,712.0 L421.5,712.7 L422.2,713.4 L422.8,714.1 L423.5,714.8 L424.2,715.5 L424.9,716.2 L425.6,716.9 L426.2,717.6 L426.9,718.2 L427.7,718.9 L428.4,719.6 L429.1,720.2 L429.8,720.9 L430.5,721.5 L431.3,722.1 L432.0,722.8 L432.7,723.4 L433.5,724.0 L434.2,724.6 L435.0,725.2 L435.8,725.8 L436.5,726.4 L437.3,727.0 L438.1,727.6 L438.9,728.1 L439.6,728.7 L440.4,729.2 L441.2,729.8 L442.0,730.3 L442.8,730.8 L443.6,731.3 L444.5,731.8 L445.3,732.3 L446.1,732.8 L446.9,733.3 L447.8,733.7 L448.6,734.2 L449.5,734.6 L450.3,735.0 L451.2,735.4 L452.0,735.8 L452.9,736.2 L453.7,736.6 L454.6,736.9 L455.5,737.3 L456.4,737.6 L457.3,737.9 L458.2,738.2 L459.1,738.4 L460.0,738.7 L460.9,738.9 L461.8,739.1 L462.7,739.3 L463.6,739.5 L464.5,739.7 L465.4,739.9 L466.4,740.0 L467.3,740.1 L468.2,740.2 L469.2,740.3 L470.1,740.4 L471.0,740.4 L472.0,740.5 L472.9,740.5 L473.8,740.5 L474.8,740.5 L475.7,740.5 L476.7,740.5 L477.6,740.4 L478.6,740.4 L479.5,740.3 L480.4,740.2 L481.4,740.1 L482.3,740.0 L483.2,739.8 L484.2,739.7 L485.1,739.5 L486.0,739.3 L487.0,739.1 L487.9,738.9 L488.8,738.7 L489.8,738.5 L490.7,738.2 L491.6,738.0 L492.5,737.7 L493.4,737.4 L494.3,737.1 L495.2,736.8 L496.1,736.5 L497.0,736.2 L497.9,735.8 L498.8,735.5 L499.6,735.1 L500.5,734.7 L501.3,734.3 L502.2,733.9 L503.0,733.5 L503.8,733.1 L504.7,732.6 L505.5,732.2 L506.3,731.7 L507.0,731.2 L507.8,730.7 L508.6,730.2 L509.3,729.6 L510.0,729.1 L510.7,728.5 L511.4,727.9 L512.1,727.3 L512.7,726.7 L513.4,726.0 L514.0,725.4 L514.6,724.7 L515.2,724.0 L515.8,723.3 L516.3,722.6 L516.9,721.8 L517.4,721.1 L517.9,720.3 L518.4,719.5 L518.9,718.7 L519.4,717.9 L519.8,717.1 L520.3,716.3 L520.7,715.4 L521.2,714.6 L521.6,713.7 L522.0,712.9 L522.4,712.0 L522.8,711.1 L523.2,710.2 L523.6,709.3 L524.0,708.4 L524.4,707.5 L524.8,706.6 L525.2,705.7 L525.5,704.8 L525.9,703.9 L526.3,703.0 L526.6,702.1 L527.0,701.1 L527.4,700.2 L527.7,699.3 L528.1,698.4 L528.4,697.4 L528.8,696.5 L529.1,695.6 L529.4,694.7 L529.8,693.7 L530.1,692.8 L530.4,691.9 L530.7,691.0 L531.1,690.0 L531.4,689.1 L531.7,688.2 L532.0,687.2 L532.2,686.3 L532.5,685.4 L532.8,684.4 L533.1,683.5 L533.3,682.6 L533.6,681.6 L533.8,680.7 L534.0,679.8 L534.3,678.8 L534.5,677.9 L534.7,676.9 L534.9,676.0 L535.1,675.0 L535.3,674.1 L535.5,673.1 L535.6,672.2 L535.8,671.2 L535.9,670.2 L536.1,669.3 L536.2,668.3 L536.4,667.3 L536.5,666.4 L536.6,665.4 L536.8,664.4 L536.9,663.4 L537.0,662.5 L537.1,661.5 L537.2,660.5 L537.3,659.5 L537.4,658.5 L537.5,657.5 L537.6,656.6 L537.7,655.6 L537.8,654.6 L537.8,653.6 L537.9,652.6 L538.0,651.6 L538.1,650.6 L538.2,649.6 L538.3,648.6 L538.3,647.6 L538.4,646.6 L538.5,645.6 L538.6,644.6 L538.6,643.7 L538.7,642.7 L538.8,641.7 L538.9,640.7 L539.0,639.7 L539.0,638.7 L539.1,637.7 L539.2,636.7 L539.3,635.7 L539.3,634.7 L539.4,633.7 L539.5,632.7 L539.6,631.7 L539.6,630.7 L539.7,629.7 L539.8,628.7 L539.9,627.7 L540.0,626.7 L540.0,625.7 L540.1,624.7 L540.2,623.7 L540.3,622.7 L540.3,621.7 L540.4,620.7 L540.5,619.7 L540.6,618.7 L540.7,617.7 L540.7,616.7 L540.8,615.7 L540.9,614.7 L540.9,613.7 L541.0,612.8 L541.1,611.8 L541.1,610.8 L541.2,609.8 L541.3,608.8 L541.3,607.8 L541.4,606.8 L541.4,605.8 L541.5,604.8 L541.6,603.8 L541.6,602.8 L541.7,601.8 L541.7,600.8 L541.7,599.8 L541.8,598.8 L541.8,597.9 L541.9,596.9 L541.9,595.9 L542.0,594.9 L542.0,593.9 L542.0,592.9 L542.1,591.9 L542.1,590.9 L542.1,589.9 L542.2,588.9 L542.2,587.9 L542.2,586.9 L542.2,585.9 L542.2,584.9 L542.3,583.9 L542.3,582.9 L542.3,581.9 L542.3,580.9 L542.3,579.9 L542.3,579.0 L542.4,578.0 L542.4,577.0 L542.4,576.0 L542.4,575.0" stroke="#f8f8f8" stroke-width="2.30" stroke-linecap="butt"/>
<path d="M285.2,277.4 L284.8,278.3 L284.4,279.3 L284.0,280.2 L283.7,281.1 L283.3,282.0 L282.9,282.9 L282.5,283.8 L282.2,284.7 L281.8,285.6 L281.4,286.5 L281.1,287.4 L280.7,288.3 L280.4,289.2 L280.0,290.1 L279.7,291.0 L279.4,291.9 L279.1,292.8 L278.7,293.7 L278.4,294.6 L278.2,295.5 L277.9,296.4 L277.6,297.3 L277.3,298.2 L277.1,299.1 L276.8,300.0 L276.6,301.0 L276.4,301.9 L276.1,302.8 L275.9,303.7 L275.7,304.6 L275.5,305.5 L275.4,306.4 L275.2,307.4 L275.0,308.3 L274.9,309.2 L274.7,310.2 L274.6,311.1 L274.4,312.1 L274.3,313.0 L274.2,314.0 L274.1,314.9 L273.9,315.9 L273.8,316.8 L273.7,317.8 L273.6,318.8 L273.5,319.7 L273.5,320.7 L273.4,321.7 L273.3,322.7 L273.2,323.6 L273.1,324.6 L273.0,325.6 L273.0,326.6 L272.9,327.6 L272.8,328.6 L272.7,329.6 L272.7,330.6 L272.6,331.6 L272.5,332.6 L272.4,333.6 L272.4,334.5 L272.3,335.5 L272.2,336.5 L272.2,337.5 L272.1,338.5 L272.0,339.5 L272.0,340.5 L271.9,341.5 L271.9,342.4 L271.8,343.4 L271.7,344.4 L271.7,345.4 L271.7,346.4 L271.6,347.3 L271.6,348.3 L271.5,349.3 L271.5,350.3 L271.5,351.2 L271.5,352.2 L271.5,353.2 L271.4,354.1 L271.4,355.1 L271.4,356.1 L271.4,357.0 L271.5,358.0 L271.5,359.0 L271.5,359.9 L271.5,360.9 L271.6,361.9 L271.6,362.8 L271.6,363.8 L271.7,364.8 L271.8,365.7 L271.8,366.7 L271.9,367.6 L272.0,368.6 L272.0,369.6 L272.1,370.5 L272.2,371.5 L272.3,372.5 L272.4,373.4 L272.5,374.4 L272.6,375.4 L272.7,376.3 L272.8,377.3 L273.0,378.2 L273.1,379.2 L273.2,380.2 L273.4,381.1 L273.5,382.1 L273.6,383.0 L273.8,384.0 L273.9,385.0 L274.1,385.9 L274.3,386.9 L274.4,387.8 L274.6,388.8 L274.8,389.7 L275.0,390.7 L275.2,391.6 L275.4,392.6 L275.6,393.5 L275.8,394.4 L276.0,395.4 L276.2,396.3 L276.4,397.3 L276.7,398.2 L276.9,399.2 L277.1,400.1 L277.4,401.0 L277.6,402.0 L277.9,402.9 L278.1,403.9 L278.4,404.8 L278.6,405.7 L278.9,406.7 L279.2,407.6 L279.5,408.5 L279.7,409.5 L280.0,410.4 L280.3,411.3 L280.6,412.3 L280.9,413.2 L281.2,414.1 L281.5,415.0 L281.8,415.9 L282.1,416.9 L282.4,417.8 L282.8,418.7 L283.1,419.6 L283.4,420.5 L283.8,421.4 L284.1,422.3 L284.5,423.2 L284.8,424.0 L285.2,424.9 L285.5,425.8 L285.9,426.7 L286.3,427.6 L286.7,428.4 L287.1,429.3 L287.5,430.2 L287.9,431.0 L288.3,431.9 L288.7,432.8 L289.2,433.6 L289.6,434.5 L290.0,435.3 L290.5,436.2 L290.9,437.0 L291.4,437.9 L291.9,438.7 L292.3,439.6 L292.8,440.4 L293.3,441.3 L293.8,442.1 L294.2,442.9 L294.7,443.8 L295.2,444.6 L295.7,445.4 L296.2,446.3 L296.7,447.1 L297.3,447.9 L297.8,448.8 L298.3,449.6 L298.8,450.4 L299.3,451.3 L299.9,452.1 L300.4,452.9 L300.9,453.7 L301.5,454.5 L302.0,455.4 L302.6,456.2 L303.1,457.0 L303.7,457.8 L304.2,458.6 L304.8,459.4 L305.3,460.2 L305.9,461.0 L306.4,461.8 L307.0,462.6 L307.6,463.4 L308.1,464.2 L308.7,465.0 L309.3,465.8 L309.9,466.5 L310.5,467.3 L311.0,468.1 L311.6,468.9 L312.2,469.6 L312.8,470.4 L313.4,471.2 L314.0,471.9 L314.6,472.7 L315.2,473.5 L315.9,474.2 L316.5,475.0 L317.1,475.7 L317.7,476.5 L318.4,477.2 L319.0,478.0 L319.6,478.7 L320.3,479.5 L320.9,480.2 L321.6,481.0 L322.2,481.7 L322.9,482.5 L323.5,483.2 L324.2,484.0 L324.8,484.7 L325.5,485.5 L326.1,486.3 L326.8,487.0 L327.5,487.8 L328.1,488.5 L328.8,489.3 L329.4,490.1 L330.1,490.9 L330.7,491.6 L331.4,492.4 L332.1,493.2 L332.7,494.0 L333.4,494.7 L334.0,495.5 L334.7,496.3 L335.3,497.1 L335.9,497.9 L336.6,498.7 L337.2,499.5 L337.9,500.3 L338.5,501.1 L339.1,501.9 L339.7,502.7 L340.4,503.5 L341.0,504.3 L341.6,505.2 L342.2,506.0 L342.8,506.8 L343.4,507.6 L344.1,508.4 L344.7,509.3 L345.3,510.1 L345.8,510.9 L346.4,511.8 L347.0,512.6 L347.6,513.4 L348.2,514.3 L348.8,515.1 L349.4,515.9 L349.9,516.8 L350.5,517.6 L351.1,518.4 L351.7,519.3 L352.3,520.2 L352.8,521.1 L353.4,522.0 L354.0,523.0 L354.6,524.0 L355.1,525.0 L355.6,526.0 L356.1,527.0 L356.6,528.0 L357.0,529.0 L357.4,529.9 L357.8,530.8 L358.2,531.8 L358.6,532.7 L359.0,533.7 L359.4,534.6 L359.8,535.5 L360.2,536.5 L360.6,537.4 L361.0,538.4 L361.4,539.4 L361.8,540.3 L362.1,541.3 L362.5,542.3 L362.8,543.2 L363.2,544.2 L363.6,545.2 L363.9,546.2 L364.2,547.2 L364.6,548.1 L364.9,549.1 L365.2,550.1 L365.5,551.1 L365.8,552.1 L366.1,553.1 L366.4,554.1 L366.7,555.1 L367.0,556.1 L367.2,557.1 L367.5,558.1 L367.8,559.1 L368.0,560.1 L368.3,561.1 L368.5,562.1 L368.8,563.1 L369.0,564.1 L369.2,565.1 L369.5,566.1 L369.7,567.1 L369.9,568.1 L370.1,569.1 L370.3,570.0 L370.6,571.0 L370.8,572.0 L371.0,573.0 L371.2,574.0 L371.4,575.0 L371.6,575.9 L371.8,576.9 L372.0,577.9 L372.3,578.9 L372.5,579.8 L372.7,580.8 L372.9,581.8 L373.1,582.7 L373.3,583.7 L373.5,584.7 L373.8,585.6 L374.0,586.6 L374.2,587.5 L374.4,588.5 L374.7,589.5 L374.9,590.4 L375.1,591.4 L375.4,592.4 L375.6,593.3 L375.8,594.3 L376.1,595.2 L376.3,596.2 L376.6,597.2 L376.8,598.1 L377.0,599.1 L377.3,600.0 L377.5,601.0 L377.8,602.0 L378.0,602.9 L378.3,603.9 L378.6,604.8 L378.8,605.8 L379.1,606.7 L379.3,607.7 L379.6,608.7 L379.9,609.6 L380.1,610.6 L380.4,611.5 L380.7,612.5 L380.9,613.4 L381.2,614.4 L381.5,615.3 L381.7,616.3 L382.0,617.2 L382.3,618.2 L382.6,619.1 L382.9,620.1 L383.1,621.0 L383.4,622.0 L383.7,622.9 L384.0,623.9 L384.3,624.8 L384.6,625.7 L384.9,626.7 L385.2,627.6 L385.5,628.6 L385.8,629.5 L386.1,630.4 L386.4,631.4 L386.7,632.3 L387.0,633.3 L387.3,634.2 L387.6,635.1 L387.9,636.1 L388.2,637.0 L388.6,638.0 L388.9,638.9 L389.2,639.8 L389.5,640.8 L389.9,641.7 L390.2,642.7 L390.5,643.6 L390.8,644.5 L391.2,645.5 L391.5,646.4 L391.8,647.4 L392.1,648.3 L392.5,649.2 L392.8,650.2 L393.1,651.1 L393.5,652.0 L393.8,653.0 L394.1,653.9 L394.5,654.8 L394.8,655.8 L395.1,656.7 L395.5,657.6 L395.8,658.6 L396.2,659.5 L396.5,660.4 L396.9,661.3 L397.2,662.3 L397.6,663.2 L397.9,664.1 L398.3,665.0 L398.6,665.9 L399.0,666.9 L399.4,667.8 L399.7,668.7 L400.1,669.6 L400.5,670.5 L400.8,671.4 L401.2,672.4 L401.6,673.3 L402.0,674.2 L402.3,675.1 L402.7,676.0 L403.1,677.0 L403.5,677.9 L403.9,678.8 L404.2,679.7 L404.6,680.6 L405.0,681.5 L405.4,682.4 L405.8,683.3 L406.2,684.2 L406.6,685.1 L407.0,686.0 L407.4,686.8 L407.8,687.7 L408.2,688.6 L408.6,689.4 L409.0,690.3 L409.4,691.1 L409.9,691.9 L410.3,692.8 L410.7,693.6 L411.2,694.4 L411.7,695.2 L412.1,696.0 L412.6,696.8 L413.1,697.6 L413.6,698.4 L414.1,699.1 L414.6,699.9 L415.2,700.7 L415.7,701.4 L416.2,702.2 L416.8,703.0 L417.4,703.7 L417.9,704.4 L418.5,705.2 L419.1,705.9 L419.7,706.6 L420.3,707.4 L420.9,708.1 L421.5,708.8 L422.2,709.5 L422.8,710.2 L423.4,710.9 L424.1,711.6 L424.7,712.3 L425.4,713.0 L426.0,713.7 L426.7,714.4 L427.4,715.0 L428.1,715.7 L428.7,716.3 L429.4,717.0 L430.1,717.6 L430.8,718.3 L431.5,718.9 L432.2,719.6 L433.0,720.2 L433.7,720.8 L434.4,721.4 L435.1,722.0 L435.9,722.6 L436.6,723.2 L437.3,723.8 L438.1,724.3 L438.8,724.9 L439.6,725.5 L440.4,726.0 L441.1,726.6 L441.9,727.1 L442.7,727.6 L443.5,728.1 L444.2,728.6 L445.0,729.1 L445.8,729.6 L446.6,730.1 L447.4,730.6 L448.2,731.0 L449.0,731.5 L449.8,731.9 L450.6,732.3 L451.4,732.7 L452.3,733.1 L453.1,733.5 L453.9,733.8 L454.7,734.2 L455.6,734.5 L456.4,734.8 L457.2,735.1 L458.1,735.4 L458.9,735.7 L459.8,735.9 L460.6,736.2 L461.5,736.4 L462.4,736.6 L463.2,736.8 L464.1,737.0 L465.0,737.1 L465.9,737.3 L466.7,737.4 L467.6,737.5 L468.5,737.6 L469.4,737.7 L470.3,737.8 L471.2,737.9 L472.1,737.9 L473.0,737.9 L473.9,737.9 L474.8,737.9 L475.7,737.9 L476.6,737.9 L477.5,737.8 L478.4,737.8 L479.3,737.7 L480.2,737.6 L481.1,737.5 L482.0,737.4 L482.9,737.2 L483.8,737.1 L484.6,736.9 L485.5,736.8 L486.4,736.6 L487.3,736.4 L488.2,736.2 L489.1,736.0 L490.0,735.7 L490.9,735.5 L491.7,735.2 L492.6,734.9 L493.5,734.7 L494.4,734.4 L495.2,734.1 L496.1,733.7 L496.9,733.4 L497.8,733.1 L498.6,732.7 L499.4,732.4 L500.2,732.0 L501.0,731.6 L501.8,731.2 L502.6,730.8 L503.4,730.4 L504.1,729.9 L504.9,729.5 L505.6,729.0 L506.3,728.5 L507.0,728.0 L507.7,727.5 L508.4,727.0 L509.0,726.5 L509.7,725.9 L510.3,725.4 L510.9,724.8 L511.5,724.2 L512.1,723.6 L512.6,723.0 L513.2,722.3 L513.7,721.7 L514.2,721.0 L514.7,720.3 L515.2,719.6 L515.7,718.9 L516.2,718.2 L516.7,717.4 L517.1,716.6 L517.6,715.8 L518.0,715.0 L518.4,714.2 L518.8,713.4 L519.3,712.6 L519.7,711.7 L520.1,710.9 L520.5,710.0 L520.9,709.2 L521.2,708.3 L521.6,707.4 L522.0,706.5 L522.4,705.6 L522.8,704.7 L523.1,703.8 L523.5,702.9 L523.9,702.0 L524.2,701.1 L524.6,700.2 L524.9,699.3 L525.3,698.4 L525.6,697.4 L526.0,696.5 L526.3,695.6 L526.7,694.7 L527.0,693.8 L527.3,692.9 L527.6,692.0 L528.0,691.0 L528.3,690.1 L528.6,689.2 L528.9,688.3 L529.2,687.4 L529.5,686.5 L529.8,685.6 L530.0,684.6 L530.3,683.7 L530.6,682.8 L530.8,681.9 L531.1,681.0 L531.3,680.1 L531.5,679.1 L531.7,678.2 L532.0,677.3 L532.2,676.4 L532.4,675.4 L532.5,674.5 L532.7,673.6 L532.9,672.7 L533.1,671.7 L533.2,670.8 L533.4,669.8 L533.5,668.9 L533.7,667.9 L533.8,667.0 L533.9,666.0 L534.1,665.1 L534.2,664.1 L534.3,663.1 L534.4,662.2 L534.5,661.2 L534.6,660.2 L534.7,659.3 L534.8,658.3 L534.9,657.3 L535.0,656.3 L535.1,655.3 L535.2,654.4 L535.3,653.4 L535.3,652.4 L535.4,651.4 L535.5,650.4 L535.6,649.4 L535.7,648.4 L535.7,647.4 L535.8,646.4 L535.9,645.4 L536.0,644.4 L536.1,643.5 L536.1,642.5 L536.2,641.5 L536.3,640.5 L536.4,639.5 L536.4,638.5 L536.5,637.5 L536.6,636.5 L536.7,635.5 L536.7,634.5 L536.8,633.5 L536.9,632.5 L537.0,631.5 L537.1,630.5 L537.1,629.5 L537.2,628.5 L537.3,627.5 L537.4,626.5 L537.4,625.5 L537.5,624.5 L537.6,623.5 L537.7,622.5 L537.8,621.5 L537.8,620.5 L537.9,619.5 L538.0,618.5 L538.1,617.5 L538.1,616.5 L538.2,615.5 L538.3,614.6 L538.3,613.6 L538.4,612.6 L538.5,611.6 L538.5,610.6 L538.6,609.6 L538.7,608.6 L538.7,607.6 L538.8,606.6 L538.8,605.7 L538.9,604.7 L539.0,603.7 L539.0,602.7 L539.1,601.7 L539.1,600.7 L539.2,599.7 L539.2,598.7 L539.2,597.7 L539.3,596.8 L539.3,595.8 L539.4,594.8 L539.4,593.8 L539.4,592.8 L539.5,591.8 L539.5,590.8 L539.5,589.8 L539.6,588.8 L539.6,587.8 L539.6,586.9 L539.6,585.9 L539.6,584.9 L539.7,583.9 L539.7,582.9 L539.7,581.9 L539.7,580.9 L539.7,579.9 L539.7,578.9 L539.8,577.9 L539.8,576.9 L539.8,575.9 L539.8,574.9" stroke="#c8c8c8" stroke-width="3.20" stroke-linecap="butt"/>
<path d="M272.1,271.9 L271.7,272.8 L271.4,273.7 L271.0,274.7 L270.6,275.6 L270.2,276.5 L269.8,277.5 L269.4,278.4 L269.0,279.4 L268.6,280.3 L268.2,281.3 L267.8,282.3 L267.5,283.2 L267.1,284.2 L266.7,285.2 L266.4,286.2 L266.0,287.2 L265.6,288.2 L265.3,289.2 L265.0,290.2 L264.6,291.2 L264.3,292.2 L264.0,293.3 L263.7,294.3 L263.4,295.3 L263.1,296.4 L262.8,297.4 L262.6,298.5 L262.3,299.5 L262.1,300.6 L261.9,301.6 L261.6,302.7 L261.4,303.7 L261.2,304.8 L261.0,305.9 L260.9,306.9 L260.7,308.0 L260.5,309.0 L260.4,310.1 L260.2,311.1 L260.1,312.2 L260.0,313.2 L259.8,314.3 L259.7,315.3 L259.6,316.3 L259.5,317.4 L259.4,318.4 L259.3,319.4 L259.2,320.4 L259.1,321.4 L259.0,322.5 L259.0,323.5 L258.9,324.5 L258.8,325.5 L258.7,326.5 L258.6,327.5 L258.6,328.5 L258.5,329.5 L258.4,330.5 L258.3,331.5 L258.3,332.5 L258.2,333.5 L258.1,334.5 L258.1,335.6 L258.0,336.6 L257.9,337.6 L257.9,338.6 L257.8,339.6 L257.7,340.6 L257.7,341.6 L257.6,342.7 L257.6,343.7 L257.5,344.7 L257.5,345.7 L257.4,346.8 L257.4,347.8 L257.3,348.8 L257.3,349.9 L257.3,350.9 L257.3,352.0 L257.3,353.0 L257.2,354.0 L257.2,355.1 L257.2,356.1 L257.2,357.2 L257.3,358.2 L257.3,359.3 L257.3,360.3 L257.3,361.4 L257.4,362.4 L257.4,363.4 L257.5,364.5 L257.5,365.5 L257.6,366.6 L257.6,367.6 L257.7,368.7 L257.8,369.7 L257.9,370.8 L258.0,371.8 L258.1,372.8 L258.2,373.9 L258.3,374.9 L258.4,375.9 L258.5,377.0 L258.6,378.0 L258.7,379.0 L258.9,380.1 L259.0,381.1 L259.2,382.1 L259.3,383.2 L259.5,384.2 L259.6,385.2 L259.8,386.2 L259.9,387.3 L260.1,388.3 L260.3,389.3 L260.5,390.4 L260.7,391.4 L260.9,392.4 L261.1,393.4 L261.3,394.5 L261.5,395.5 L261.7,396.5 L261.9,397.5 L262.1,398.5 L262.4,399.6 L262.6,400.6 L262.9,401.6 L263.1,402.6 L263.4,403.6 L263.6,404.6 L263.9,405.6 L264.2,406.6 L264.4,407.6 L264.7,408.6 L265.0,409.6 L265.3,410.6 L265.6,411.6 L265.8,412.6 L266.1,413.6 L266.4,414.6 L266.8,415.6 L267.1,416.6 L267.4,417.5 L267.7,418.5 L268.0,419.5 L268.4,420.5 L268.7,421.5 L269.0,422.5 L269.4,423.5 L269.8,424.5 L270.1,425.5 L270.5,426.4 L270.9,427.4 L271.3,428.4 L271.7,429.4 L272.1,430.4 L272.5,431.4 L272.9,432.3 L273.3,433.3 L273.8,434.3 L274.2,435.2 L274.6,436.2 L275.1,437.1 L275.5,438.1 L276.0,439.0 L276.5,440.0 L277.0,440.9 L277.4,441.9 L277.9,442.8 L278.4,443.7 L278.9,444.6 L279.4,445.6 L279.9,446.5 L280.4,447.4 L280.9,448.3 L281.5,449.2 L282.0,450.1 L282.5,451.0 L283.0,451.9 L283.6,452.8 L284.1,453.7 L284.6,454.5 L285.2,455.4 L285.7,456.3 L286.3,457.2 L286.8,458.0 L287.4,458.9 L287.9,459.8 L288.5,460.6 L289.1,461.5 L289.6,462.4 L290.2,463.2 L290.8,464.1 L291.3,464.9 L291.9,465.8 L292.5,466.6 L293.1,467.5 L293.7,468.3 L294.3,469.2 L294.8,470.0 L295.4,470.8 L296.0,471.7 L296.6,472.5 L297.3,473.4 L297.9,474.2 L298.5,475.0 L299.1,475.9 L299.7,476.7 L300.4,477.5 L301.0,478.3 L301.6,479.2 L302.3,480.0 L302.9,480.8 L303.6,481.6 L304.2,482.4 L304.9,483.2 L305.5,484.0 L306.2,484.8 L306.8,485.6 L307.5,486.4 L308.2,487.2 L308.8,487.9 L309.5,488.7 L310.1,489.5 L310.8,490.2 L311.5,491.0 L312.1,491.8 L312.8,492.5 L313.4,493.3 L314.1,494.0 L314.8,494.8 L315.4,495.6 L316.1,496.3 L316.7,497.1 L317.3,497.8 L318.0,498.6 L318.6,499.3 L319.3,500.1 L319.9,500.8 L320.5,501.5 L321.2,502.3 L321.8,503.1 L322.4,503.8 L323.0,504.6 L323.7,505.3 L324.3,506.1 L324.9,506.8 L325.5,507.6 L326.1,508.3 L326.7,509.1 L327.3,509.9 L327.9,510.6 L328.5,511.4 L329.1,512.2 L329.7,512.9 L330.3,513.7 L330.9,514.5 L331.4,515.3 L332.0,516.0 L332.6,516.8 L333.2,517.6 L333.7,518.4 L334.3,519.2 L334.9,520.0 L335.4,520.8 L336.0,521.6 L336.6,522.4 L337.1,523.2 L337.7,524.0 L338.2,524.8 L338.8,525.6 L339.3,526.4 L339.9,527.2 L340.4,528.0 L340.9,528.7 L341.3,529.5 L341.8,530.2 L342.2,530.8 L342.5,531.5 L342.9,532.3 L343.3,533.1 L343.6,533.9 L344.0,534.8 L344.4,535.6 L344.8,536.5 L345.2,537.4 L345.6,538.3 L346.0,539.2 L346.3,540.1 L346.7,541.0 L347.1,541.9 L347.4,542.8 L347.8,543.7 L348.2,544.6 L348.5,545.4 L348.8,546.3 L349.2,547.2 L349.5,548.1 L349.8,549.0 L350.2,549.9 L350.5,550.8 L350.8,551.7 L351.1,552.6 L351.4,553.5 L351.7,554.4 L351.9,555.3 L352.2,556.2 L352.5,557.1 L352.8,558.1 L353.0,559.0 L353.3,559.9 L353.5,560.8 L353.8,561.7 L354.0,562.7 L354.3,563.6 L354.5,564.5 L354.7,565.5 L355.0,566.4 L355.2,567.3 L355.4,568.3 L355.6,569.2 L355.8,570.2 L356.0,571.2 L356.3,572.1 L356.5,573.1 L356.7,574.1 L356.9,575.0 L357.1,576.0 L357.3,577.0 L357.5,577.9 L357.7,578.9 L357.9,579.9 L358.2,580.9 L358.4,581.9 L358.6,582.9 L358.8,583.9 L359.0,584.8 L359.2,585.8 L359.5,586.8 L359.7,587.8 L359.9,588.8 L360.1,589.8 L360.4,590.8 L360.6,591.8 L360.8,592.8 L361.1,593.8 L361.3,594.7 L361.6,595.7 L361.8,596.7 L362.0,597.7 L362.3,598.7 L362.5,599.7 L362.8,600.7 L363.0,601.6 L363.3,602.6 L363.5,603.6 L363.8,604.6 L364.1,605.6 L364.3,606.5 L364.6,607.5 L364.8,608.5 L365.1,609.5 L365.4,610.5 L365.6,611.4 L365.9,612.4 L366.2,613.4 L366.4,614.4 L366.7,615.3 L367.0,616.3 L367.3,617.3 L367.5,618.3 L367.8,619.2 L368.1,620.2 L368.4,621.2 L368.7,622.2 L369.0,623.1 L369.2,624.1 L369.5,625.1 L369.8,626.1 L370.1,627.0 L370.4,628.0 L370.7,629.0 L371.0,630.0 L371.3,630.9 L371.6,631.9 L371.9,632.9 L372.2,633.8 L372.6,634.8 L372.9,635.8 L373.2,636.7 L373.5,637.7 L373.8,638.7 L374.1,639.6 L374.5,640.6 L374.8,641.6 L375.1,642.5 L375.4,643.5 L375.8,644.4 L376.1,645.4 L376.4,646.3 L376.8,647.3 L377.1,648.2 L377.4,649.2 L377.7,650.2 L378.1,651.1 L378.4,652.1 L378.7,653.0 L379.1,654.0 L379.4,654.9 L379.8,655.9 L380.1,656.8 L380.4,657.8 L380.8,658.7 L381.1,659.7 L381.5,660.6 L381.8,661.6 L382.2,662.5 L382.5,663.5 L382.9,664.4 L383.2,665.4 L383.6,666.4 L383.9,667.3 L384.3,668.3 L384.7,669.2 L385.0,670.2 L385.4,671.1 L385.8,672.1 L386.2,673.0 L386.5,673.9 L386.9,674.9 L387.3,675.8 L387.7,676.8 L388.1,677.7 L388.4,678.6 L388.8,679.6 L389.2,680.5 L389.6,681.5 L390.0,682.4 L390.4,683.3 L390.8,684.3 L391.1,685.2 L391.5,686.1 L391.9,687.1 L392.3,688.0 L392.8,689.0 L393.2,689.9 L393.6,690.9 L394.0,691.8 L394.5,692.8 L394.9,693.7 L395.4,694.7 L395.8,695.7 L396.3,696.6 L396.8,697.6 L397.3,698.5 L397.8,699.5 L398.3,700.5 L398.8,701.4 L399.4,702.3 L399.9,703.3 L400.5,704.2 L401.1,705.2 L401.7,706.1 L402.3,707.0 L402.9,707.9 L403.5,708.8 L404.1,709.7 L404.8,710.6 L405.4,711.4 L406.1,712.3 L406.7,713.2 L407.4,714.0 L408.1,714.8 L408.7,715.7 L409.4,716.5 L410.1,717.3 L410.8,718.1 L411.5,718.9 L412.2,719.7 L413.0,720.5 L413.7,721.3 L414.4,722.1 L415.2,722.9 L415.9,723.6 L416.7,724.4 L417.4,725.1 L418.2,725.9 L418.9,726.6 L419.7,727.3 L420.5,728.1 L421.3,728.8 L422.1,729.5 L422.9,730.2 L423.7,730.9 L424.5,731.6 L425.3,732.3 L426.1,733.0 L427.0,733.7 L427.8,734.3 L428.6,735.0 L429.5,735.6 L430.4,736.3 L431.2,736.9 L432.1,737.6 L433.0,738.2 L433.9,738.8 L434.8,739.4 L435.7,740.0 L436.6,740.6 L437.5,741.2 L438.4,741.8 L439.4,742.3 L440.3,742.9 L441.3,743.4 L442.3,744.0 L443.3,744.5 L444.3,745.0 L445.3,745.5 L446.3,746.0 L447.3,746.4 L448.3,746.9 L449.4,747.3 L450.4,747.7 L451.5,748.1 L452.6,748.5 L453.6,748.9 L454.7,749.2 L455.8,749.6 L456.9,749.9 L458.0,750.2 L459.1,750.4 L460.2,750.7 L461.4,750.9 L462.5,751.1 L463.6,751.3 L464.7,751.5 L465.9,751.6 L467.0,751.8 L468.1,751.9 L469.3,752.0 L470.4,752.0 L471.5,752.1 L472.7,752.1 L473.8,752.1 L474.9,752.1 L476.1,752.1 L477.2,752.1 L478.3,752.0 L479.4,751.9 L480.6,751.8 L481.7,751.7 L482.8,751.6 L483.9,751.4 L485.0,751.3 L486.1,751.1 L487.2,750.9 L488.3,750.7 L489.4,750.5 L490.5,750.2 L491.6,750.0 L492.6,749.7 L493.7,749.4 L494.8,749.1 L495.9,748.8 L496.9,748.5 L498.0,748.1 L499.0,747.8 L500.1,747.4 L501.1,747.0 L502.2,746.6 L503.2,746.2 L504.2,745.8 L505.3,745.3 L506.3,744.8 L507.3,744.3 L508.3,743.8 L509.3,743.3 L510.4,742.7 L511.4,742.2 L512.4,741.5 L513.3,740.9 L514.3,740.3 L515.3,739.6 L516.3,738.9 L517.2,738.2 L518.1,737.4 L519.1,736.6 L520.0,735.8 L520.8,735.0 L521.7,734.1 L522.5,733.2 L523.3,732.3 L524.1,731.4 L524.9,730.5 L525.6,729.6 L526.3,728.6 L526.9,727.6 L527.6,726.7 L528.2,725.7 L528.8,724.7 L529.4,723.7 L530.0,722.8 L530.5,721.8 L531.0,720.8 L531.5,719.8 L532.0,718.8 L532.5,717.9 L532.9,716.9 L533.4,715.9 L533.8,715.0 L534.2,714.0 L534.7,713.0 L535.1,712.1 L535.5,711.1 L535.9,710.2 L536.3,709.2 L536.7,708.2 L537.0,707.3 L537.4,706.3 L537.8,705.4 L538.2,704.4 L538.5,703.5 L538.9,702.5 L539.3,701.5 L539.6,700.6 L540.0,699.6 L540.3,698.6 L540.7,697.6 L541.0,696.7 L541.4,695.7 L541.7,694.7 L542.1,693.7 L542.4,692.7 L542.7,691.7 L543.0,690.7 L543.3,689.7 L543.6,688.7 L543.9,687.7 L544.2,686.6 L544.5,685.6 L544.8,684.6 L545.1,683.5 L545.3,682.5 L545.6,681.5 L545.8,680.4 L546.0,679.4 L546.3,678.3 L546.5,677.3 L546.7,676.2 L546.9,675.2 L547.1,674.1 L547.2,673.1 L547.4,672.1 L547.6,671.0 L547.7,670.0 L547.9,668.9 L548.0,667.9 L548.1,666.9 L548.3,665.8 L548.4,664.8 L548.5,663.8 L548.6,662.7 L548.7,661.7 L548.8,660.7 L548.9,659.7 L549.0,658.6 L549.1,657.6 L549.2,656.6 L549.3,655.6 L549.4,654.6 L549.5,653.6 L549.6,652.6 L549.7,651.6 L549.7,650.6 L549.8,649.6 L549.9,648.5 L550.0,647.5 L550.1,646.5 L550.1,645.5 L550.2,644.5 L550.3,643.5 L550.4,642.5 L550.4,641.5 L550.5,640.5 L550.6,639.6 L550.7,638.6 L550.7,637.6 L550.8,636.6 L550.9,635.6 L551.0,634.6 L551.1,633.6 L551.1,632.6 L551.2,631.6 L551.3,630.6 L551.4,629.6 L551.4,628.6 L551.5,627.6 L551.6,626.6 L551.7,625.6 L551.8,624.6 L551.8,623.6 L551.9,622.6 L552.0,621.6 L552.1,620.6 L552.1,619.6 L552.2,618.6 L552.3,617.6 L552.4,616.6 L552.4,615.6 L552.5,614.5 L552.6,613.5 L552.6,612.5 L552.7,611.5 L552.8,610.5 L552.8,609.5 L552.9,608.5 L553.0,607.5 L553.0,606.5 L553.1,605.4 L553.1,604.4 L553.2,603.4 L553.2,602.4 L553.3,601.4 L553.3,600.4 L553.4,599.4 L553.4,598.4 L553.5,597.3 L553.5,596.3 L553.5,595.3 L553.6,594.3 L553.6,593.3 L553.7,592.3 L553.7,591.3 L553.7,590.2 L553.7,589.2 L553.8,588.2 L553.8,587.2 L553.8,586.2 L553.8,585.2 L553.9,584.2 L553.9,583.2 L553.9,582.1 L553.9,581.1 L553.9,580.1 L553.9,579.1 L554.0,578.1 L554.0,577.1 L554.0,576.1 L554.0,575.1" stroke="#9a9a9a" stroke-width="1.20" stroke-linecap="butt"/>
<path d="M286.9,278.1 L286.5,279.0 L286.1,280.0 L285.7,280.9 L285.3,281.8 L284.9,282.7 L284.6,283.6 L284.2,284.5 L283.8,285.4 L283.5,286.3 L283.1,287.2 L282.7,288.1 L282.4,289.0 L282.1,289.9 L281.7,290.8 L281.4,291.7 L281.1,292.5 L280.8,293.4 L280.5,294.3 L280.2,295.2 L279.9,296.1 L279.6,297.0 L279.3,297.8 L279.1,298.7 L278.8,299.6 L278.6,300.5 L278.3,301.4 L278.1,302.3 L277.9,303.2 L277.7,304.1 L277.5,305.0 L277.3,305.9 L277.1,306.8 L277.0,307.7 L276.8,308.6 L276.6,309.5 L276.5,310.5 L276.3,311.4 L276.2,312.3 L276.1,313.2 L276.0,314.2 L275.8,315.1 L275.7,316.1 L275.6,317.0 L275.5,318.0 L275.4,318.9 L275.3,319.9 L275.2,320.9 L275.2,321.8 L275.1,322.8 L275.0,323.8 L274.9,324.8 L274.8,325.8 L274.8,326.7 L274.7,327.7 L274.6,328.7 L274.5,329.7 L274.5,330.7 L274.4,331.7 L274.3,332.7 L274.2,333.7 L274.2,334.7 L274.1,335.7 L274.0,336.7 L274.0,337.6 L273.9,338.6 L273.8,339.6 L273.8,340.6 L273.7,341.6 L273.6,342.5 L273.6,343.5 L273.5,344.5 L273.5,345.5 L273.5,346.4 L273.4,347.4 L273.4,348.4 L273.3,349.3 L273.3,350.3 L273.3,351.3 L273.3,352.2 L273.3,353.2 L273.2,354.2 L273.2,355.1 L273.2,356.1 L273.2,357.0 L273.3,358.0 L273.3,358.9 L273.3,359.9 L273.3,360.8 L273.4,361.8 L273.4,362.7 L273.4,363.7 L273.5,364.7 L273.5,365.6 L273.6,366.6 L273.7,367.5 L273.7,368.5 L273.8,369.4 L273.9,370.4 L274.0,371.3 L274.1,372.3 L274.2,373.2 L274.3,374.2 L274.4,375.1 L274.5,376.1 L274.6,377.1 L274.7,378.0 L274.9,379.0 L275.0,379.9 L275.1,380.9 L275.3,381.8 L275.4,382.8 L275.6,383.7 L275.7,384.7 L275.9,385.6 L276.0,386.6 L276.2,387.5 L276.4,388.4 L276.6,389.4 L276.8,390.3 L276.9,391.3 L277.1,392.2 L277.3,393.1 L277.5,394.1 L277.7,395.0 L278.0,395.9 L278.2,396.9 L278.4,397.8 L278.6,398.7 L278.9,399.7 L279.1,400.6 L279.4,401.5 L279.6,402.5 L279.9,403.4 L280.1,404.3 L280.4,405.2 L280.6,406.2 L280.9,407.1 L281.2,408.0 L281.5,409.0 L281.7,409.9 L282.0,410.8 L282.3,411.7 L282.6,412.6 L282.9,413.6 L283.2,414.5 L283.5,415.4 L283.8,416.3 L284.1,417.2 L284.5,418.1 L284.8,419.0 L285.1,419.8 L285.4,420.7 L285.8,421.6 L286.1,422.5 L286.5,423.4 L286.8,424.2 L287.2,425.1 L287.6,426.0 L288.0,426.8 L288.3,427.7 L288.7,428.6 L289.1,429.4 L289.5,430.3 L289.9,431.1 L290.4,432.0 L290.8,432.8 L291.2,433.7 L291.6,434.5 L292.1,435.3 L292.5,436.2 L293.0,437.0 L293.4,437.9 L293.9,438.7 L294.4,439.5 L294.8,440.4 L295.3,441.2 L295.8,442.0 L296.3,442.9 L296.8,443.7 L297.3,444.5 L297.8,445.3 L298.3,446.2 L298.8,447.0 L299.3,447.8 L299.8,448.6 L300.3,449.5 L300.9,450.3 L301.4,451.1 L301.9,451.9 L302.4,452.7 L303.0,453.5 L303.5,454.4 L304.1,455.2 L304.6,456.0 L305.1,456.8 L305.7,457.6 L306.2,458.4 L306.8,459.2 L307.4,460.0 L307.9,460.8 L308.5,461.6 L309.0,462.4 L309.6,463.1 L310.2,463.9 L310.7,464.7 L311.3,465.5 L311.9,466.2 L312.5,467.0 L313.1,467.8 L313.7,468.5 L314.2,469.3 L314.8,470.1 L315.4,470.8 L316.0,471.6 L316.6,472.3 L317.3,473.1 L317.9,473.8 L318.5,474.6 L319.1,475.3 L319.7,476.1 L320.4,476.8 L321.0,477.6 L321.6,478.3 L322.3,479.1 L322.9,479.8 L323.6,480.5 L324.2,481.3 L324.9,482.1 L325.5,482.8 L326.2,483.6 L326.8,484.3 L327.5,485.1 L328.2,485.8 L328.8,486.6 L329.5,487.4 L330.1,488.1 L330.8,488.9 L331.5,489.7 L332.1,490.5 L332.8,491.2 L333.4,492.0 L334.1,492.8 L334.7,493.6 L335.4,494.4 L336.0,495.2 L336.7,496.0 L337.3,496.8 L338.0,497.6 L338.6,498.4 L339.3,499.2 L339.9,500.0 L340.5,500.8 L341.2,501.6 L341.8,502.4 L342.4,503.3 L343.0,504.1 L343.7,504.9 L344.3,505.7 L344.9,506.6 L345.5,507.4 L346.1,508.2 L346.7,509.1 L347.3,509.9 L347.9,510.7 L348.5,511.6 L349.1,512.4 L349.7,513.2 L350.3,514.1 L350.8,514.9 L351.4,515.7 L352.0,516.6 L352.6,517.4 L353.2,518.3 L353.8,519.2 L354.4,520.1 L355.0,521.1 L355.6,522.1 L356.2,523.1 L356.7,524.2 L357.3,525.2 L357.7,526.3 L358.2,527.3 L358.6,528.2 L359.1,529.2 L359.5,530.1 L359.9,531.1 L360.3,532.0 L360.7,532.9 L361.1,533.9 L361.5,534.9 L361.9,535.8 L362.3,536.8 L362.7,537.7 L363.1,538.7 L363.4,539.7 L363.8,540.7 L364.2,541.6 L364.5,542.6 L364.9,543.6 L365.2,544.6 L365.6,545.6 L365.9,546.6 L366.3,547.6 L366.6,548.6 L366.9,549.6 L367.2,550.6 L367.5,551.6 L367.8,552.6 L368.1,553.6 L368.4,554.6 L368.7,555.6 L369.0,556.6 L369.3,557.6 L369.5,558.7 L369.8,559.7 L370.0,560.7 L370.3,561.7 L370.5,562.7 L370.8,563.7 L371.0,564.7 L371.2,565.7 L371.4,566.7 L371.7,567.7 L371.9,568.7 L372.1,569.7 L372.3,570.6 L372.5,571.6 L372.7,572.6 L373.0,573.6 L373.2,574.6 L373.4,575.6 L373.6,576.5 L373.8,577.5 L374.0,578.5 L374.2,579.4 L374.4,580.4 L374.6,581.4 L374.9,582.3 L375.1,583.3 L375.3,584.3 L375.5,585.2 L375.7,586.2 L376.0,587.1 L376.2,588.1 L376.4,589.1 L376.6,590.0 L376.9,591.0 L377.1,591.9 L377.3,592.9 L377.6,593.8 L377.8,594.8 L378.1,595.8 L378.3,596.7 L378.5,597.7 L378.8,598.6 L379.0,599.6 L379.3,600.5 L379.5,601.5 L379.8,602.4 L380.0,603.4 L380.3,604.4 L380.5,605.3 L380.8,606.3 L381.1,607.2 L381.3,608.2 L381.6,609.1 L381.9,610.1 L382.1,611.0 L382.4,612.0 L382.7,612.9 L382.9,613.9 L383.2,614.8 L383.5,615.8 L383.7,616.7 L384.0,617.7 L384.3,618.6 L384.6,619.6 L384.9,620.5 L385.1,621.4 L385.4,622.4 L385.7,623.3 L386.0,624.3 L386.3,625.2 L386.6,626.1 L386.9,627.1 L387.2,628.0 L387.5,629.0 L387.8,629.9 L388.1,630.8 L388.4,631.8 L388.7,632.7 L389.0,633.6 L389.3,634.6 L389.6,635.5 L390.0,636.4 L390.3,637.4 L390.6,638.3 L390.9,639.3 L391.2,640.2 L391.6,641.1 L391.9,642.1 L392.2,643.0 L392.5,643.9 L392.9,644.9 L393.2,645.8 L393.5,646.8 L393.8,647.7 L394.2,648.6 L394.5,649.6 L394.8,650.5 L395.2,651.4 L395.5,652.4 L395.8,653.3 L396.2,654.2 L396.5,655.2 L396.8,656.1 L397.2,657.0 L397.5,657.9 L397.9,658.9 L398.2,659.8 L398.6,660.7 L398.9,661.6 L399.3,662.5 L399.6,663.4 L400.0,664.4 L400.3,665.3 L400.7,666.2 L401.0,667.1 L401.4,668.0 L401.8,668.9 L402.1,669.9 L402.5,670.8 L402.9,671.7 L403.2,672.6 L403.6,673.5 L404.0,674.4 L404.4,675.4 L404.8,676.3 L405.1,677.2 L405.5,678.1 L405.9,679.0 L406.3,679.9 L406.7,680.8 L407.0,681.7 L407.4,682.6 L407.8,683.5 L408.2,684.3 L408.6,685.2 L409.0,686.1 L409.4,686.9 L409.8,687.8 L410.2,688.6 L410.6,689.5 L411.0,690.3 L411.5,691.1 L411.9,691.9 L412.3,692.7 L412.8,693.5 L413.2,694.3 L413.7,695.1 L414.1,695.9 L414.6,696.6 L415.1,697.4 L415.6,698.1 L416.1,698.9 L416.6,699.7 L417.2,700.4 L417.7,701.1 L418.2,701.9 L418.8,702.6 L419.4,703.3 L419.9,704.1 L420.5,704.8 L421.1,705.5 L421.7,706.2 L422.3,706.9 L422.9,707.6 L423.5,708.3 L424.1,709.0 L424.8,709.7 L425.4,710.4 L426.0,711.1 L426.7,711.7 L427.3,712.4 L428.0,713.1 L428.6,713.7 L429.3,714.4 L430.0,715.0 L430.7,715.7 L431.3,716.3 L432.0,717.0 L432.7,717.6 L433.4,718.2 L434.1,718.8 L434.8,719.4 L435.6,720.0 L436.3,720.6 L437.0,721.2 L437.7,721.8 L438.4,722.3 L439.2,722.9 L439.9,723.5 L440.7,724.0 L441.4,724.6 L442.2,725.1 L442.9,725.6 L443.7,726.1 L444.4,726.6 L445.2,727.1 L446.0,727.6 L446.7,728.1 L447.5,728.5 L448.3,729.0 L449.1,729.4 L449.9,729.9 L450.6,730.3 L451.4,730.7 L452.2,731.1 L453.0,731.5 L453.8,731.8 L454.6,732.2 L455.4,732.5 L456.2,732.8 L457.0,733.1 L457.8,733.4 L458.6,733.7 L459.5,734.0 L460.3,734.2 L461.1,734.4 L461.9,734.7 L462.8,734.9 L463.6,735.0 L464.4,735.2 L465.3,735.4 L466.1,735.5 L467.0,735.6 L467.8,735.8 L468.7,735.9 L469.5,735.9 L470.4,736.0 L471.3,736.1 L472.1,736.1 L473.0,736.1 L473.9,736.1 L474.7,736.1 L475.6,736.1 L476.5,736.1 L477.3,736.0 L478.2,736.0 L479.1,735.9 L480.0,735.8 L480.8,735.7 L481.7,735.6 L482.6,735.5 L483.5,735.3 L484.3,735.2 L485.2,735.0 L486.1,734.8 L486.9,734.6 L487.8,734.4 L488.7,734.2 L489.5,734.0 L490.4,733.7 L491.2,733.5 L492.1,733.2 L492.9,733.0 L493.8,732.7 L494.6,732.4 L495.4,732.1 L496.2,731.7 L497.1,731.4 L497.9,731.1 L498.7,730.7 L499.5,730.4 L500.2,730.0 L501.0,729.6 L501.8,729.2 L502.5,728.8 L503.2,728.4 L503.9,727.9 L504.6,727.5 L505.3,727.0 L506.0,726.6 L506.6,726.1 L507.3,725.6 L507.9,725.1 L508.5,724.6 L509.1,724.1 L509.6,723.5 L510.2,723.0 L510.7,722.4 L511.3,721.8 L511.8,721.2 L512.3,720.6 L512.8,719.9 L513.3,719.3 L513.8,718.6 L514.2,717.9 L514.7,717.2 L515.1,716.5 L515.6,715.7 L516.0,715.0 L516.4,714.2 L516.8,713.4 L517.2,712.6 L517.6,711.8 L518.0,711.0 L518.4,710.1 L518.8,709.3 L519.2,708.4 L519.6,707.6 L520.0,706.7 L520.3,705.8 L520.7,704.9 L521.1,704.0 L521.5,703.1 L521.8,702.2 L522.2,701.3 L522.5,700.4 L522.9,699.5 L523.3,698.6 L523.6,697.7 L523.9,696.8 L524.3,695.9 L524.6,695.0 L525.0,694.1 L525.3,693.2 L525.6,692.3 L525.9,691.4 L526.3,690.5 L526.6,689.5 L526.9,688.6 L527.2,687.7 L527.5,686.8 L527.8,685.9 L528.0,685.0 L528.3,684.1 L528.6,683.2 L528.8,682.3 L529.1,681.4 L529.3,680.5 L529.5,679.6 L529.8,678.7 L530.0,677.8 L530.2,676.9 L530.4,676.0 L530.6,675.1 L530.8,674.2 L531.0,673.2 L531.1,672.3 L531.3,671.4 L531.4,670.5 L531.6,669.5 L531.7,668.6 L531.9,667.7 L532.0,666.7 L532.1,665.8 L532.3,664.8 L532.4,663.9 L532.5,662.9 L532.6,662.0 L532.7,661.0 L532.8,660.0 L532.9,659.1 L533.0,658.1 L533.1,657.1 L533.2,656.2 L533.3,655.2 L533.4,654.2 L533.5,653.2 L533.5,652.2 L533.6,651.2 L533.7,650.3 L533.8,649.3 L533.9,648.3 L533.9,647.3 L534.0,646.3 L534.1,645.3 L534.2,644.3 L534.3,643.3 L534.3,642.3 L534.4,641.3 L534.5,640.3 L534.6,639.3 L534.6,638.3 L534.7,637.3 L534.8,636.3 L534.9,635.3 L534.9,634.3 L535.0,633.3 L535.1,632.3 L535.2,631.3 L535.3,630.3 L535.3,629.3 L535.4,628.3 L535.5,627.3 L535.6,626.3 L535.7,625.3 L535.7,624.3 L535.8,623.4 L535.9,622.4 L536.0,621.4 L536.0,620.4 L536.1,619.4 L536.2,618.4 L536.3,617.4 L536.3,616.4 L536.4,615.4 L536.5,614.4 L536.5,613.4 L536.6,612.5 L536.7,611.5 L536.7,610.5 L536.8,609.5 L536.9,608.5 L536.9,607.5 L537.0,606.5 L537.0,605.5 L537.1,604.6 L537.2,603.6 L537.2,602.6 L537.3,601.6 L537.3,600.6 L537.4,599.6 L537.4,598.7 L537.4,597.7 L537.5,596.7 L537.5,595.7 L537.6,594.7 L537.6,593.7 L537.6,592.7 L537.7,591.8 L537.7,590.8 L537.7,589.8 L537.8,588.8 L537.8,587.8 L537.8,586.8 L537.8,585.8 L537.8,584.8 L537.9,583.8 L537.9,582.9 L537.9,581.9 L537.9,580.9 L537.9,579.9 L537.9,578.9 L538.0,577.9 L538.0,576.9 L538.0,575.9 L538.0,574.9" stroke="#929292" stroke-width="1.20" stroke-linecap="butt"/>
<path d="M281.5,275.9 L281.1,276.8 L280.7,277.7 L280.4,278.6 L280.0,279.5 L279.6,280.5 L279.2,281.4 L278.8,282.3 L278.4,283.2 L278.1,284.1 L277.7,285.1 L277.3,286.0 L277.0,286.9 L276.6,287.8 L276.3,288.7 L275.9,289.7 L275.6,290.6 L275.3,291.5 L275.0,292.5 L274.6,293.4 L274.3,294.3 L274.1,295.3 L273.8,296.2 L273.5,297.1 L273.2,298.1 L273.0,299.0 L272.7,300.0 L272.5,300.9 L272.3,301.9 L272.0,302.8 L271.8,303.8 L271.6,304.7 L271.4,305.7 L271.3,306.7 L271.1,307.6 L270.9,308.6 L270.8,309.6 L270.6,310.5 L270.5,311.5 L270.3,312.5 L270.2,313.4 L270.1,314.4 L270.0,315.4 L269.9,316.4 L269.8,317.4 L269.7,318.4 L269.6,319.3 L269.5,320.3 L269.4,321.3 L269.3,322.3 L269.2,323.3 L269.1,324.3 L269.1,325.3 L269.0,326.3 L268.9,327.3 L268.8,328.3 L268.7,329.3 L268.7,330.3 L268.6,331.3 L268.5,332.3 L268.5,333.3 L268.4,334.3 L268.3,335.3 L268.2,336.3 L268.2,337.2 L268.1,338.2 L268.0,339.2 L268.0,340.2 L267.9,341.2 L267.9,342.2 L267.8,343.2 L267.8,344.2 L267.7,345.2 L267.7,346.2 L267.6,347.2 L267.6,348.2 L267.5,349.2 L267.5,350.2 L267.5,351.1 L267.5,352.1 L267.5,353.1 L267.4,354.1 L267.4,355.1 L267.4,356.1 L267.4,357.1 L267.5,358.1 L267.5,359.0 L267.5,360.0 L267.5,361.0 L267.6,362.0 L267.6,363.0 L267.6,364.0 L267.7,365.0 L267.8,366.0 L267.8,366.9 L267.9,367.9 L268.0,368.9 L268.0,369.9 L268.1,370.9 L268.2,371.9 L268.3,372.9 L268.4,373.8 L268.5,374.8 L268.6,375.8 L268.7,376.8 L268.9,377.8 L269.0,378.8 L269.1,379.7 L269.3,380.7 L269.4,381.7 L269.5,382.7 L269.7,383.7 L269.8,384.6 L270.0,385.6 L270.2,386.6 L270.3,387.6 L270.5,388.5 L270.7,389.5 L270.9,390.5 L271.1,391.4 L271.3,392.4 L271.5,393.4 L271.7,394.3 L271.9,395.3 L272.1,396.3 L272.3,397.2 L272.5,398.2 L272.8,399.2 L273.0,400.1 L273.3,401.1 L273.5,402.0 L273.8,403.0 L274.0,404.0 L274.3,404.9 L274.5,405.9 L274.8,406.8 L275.1,407.8 L275.3,408.7 L275.6,409.7 L275.9,410.6 L276.2,411.6 L276.5,412.5 L276.8,413.5 L277.1,414.4 L277.4,415.4 L277.7,416.3 L278.0,417.2 L278.3,418.2 L278.7,419.1 L279.0,420.0" stroke="#4a4a4a" stroke-width="2.40" stroke-linecap="butt"/>
<path d="M552.0,212.0 L552.9,212.5 L553.7,213.0 L554.6,213.5 L555.4,214.1 L556.3,214.6 L557.1,215.1 L558.0,215.6 L558.9,216.2 L559.7,216.7 L560.6,217.2 L561.4,217.8 L562.2,218.3 L563.1,218.8 L563.9,219.4 L564.7,220.0 L565.6,220.5 L566.4,221.1 L567.2,221.7 L568.0,222.2 L568.9,222.8 L569.7,223.4 L570.5,224.0 L571.3,224.6 L572.1,225.2 L572.9,225.8 L573.6,226.4 L574.4,227.1 L575.2,227.7 L576.0,228.3 L576.7,229.0 L577.5,229.6 L578.3,230.3 L579.0,230.9 L579.8,231.6 L580.5,232.2 L581.3,232.9 L582.0,233.6 L582.8,234.3 L583.5,234.9 L584.2,235.6 L584.9,236.3 L585.7,237.0 L586.4,237.7 L587.1,238.4 L587.8,239.1 L588.5,239.8 L589.2,240.6 L589.9,241.3 L590.6,242.0 L591.3,242.7 L592.0,243.5 L592.6,244.2 L593.3,244.9 L594.0,245.7 L594.6,246.4 L595.3,247.2 L596.0,247.9 L596.6,248.7 L597.3,249.5 L597.9,250.2 L598.5,251.0 L599.2,251.8 L599.8,252.6 L600.4,253.3 L601.0,254.1 L601.6,254.9 L602.2,255.7 L602.8,256.5 L603.4,257.3 L604.0,258.1 L604.6,259.0 L605.2,259.8 L605.7,260.6 L606.3,261.4 L606.8,262.3 L607.4,263.1 L607.9,263.9 L608.5,264.8 L609.0,265.6 L609.5,266.5 L610.0,267.4 L610.5,268.2 L611.0,269.1 L611.4,270.0 L611.9,270.9 L612.4,271.7 L612.8,272.6 L613.3,273.5 L613.7,274.4 L614.2,275.3 L614.6,276.2 L615.0,277.1 L615.4,278.1 L615.8,279.0 L616.2,279.9 L616.6,280.8 L617.0,281.7 L617.4,282.7 L617.7,283.6 L618.1,284.5 L618.4,285.5 L618.8,286.4 L619.1,287.3 L619.5,288.3 L619.8,289.2 L620.1,290.2 L620.5,291.1 L620.8,292.1 L621.1,293.0 L621.4,294.0 L621.7,294.9 L622.0,295.9 L622.3,296.8 L622.6,297.8 L622.9,298.8 L623.2,299.7 L623.4,300.7 L623.7,301.7 L624.0,302.6 L624.2,303.6 L624.5,304.6 L624.7,305.5 L625.0,306.5 L625.2,307.5 L625.5,308.4 L625.7,309.4 L625.9,310.4 L626.2,311.4 L626.4,312.3 L626.6,313.3 L626.8,314.3 L627.1,315.3 L627.3,316.3 L627.5,317.2 L627.7,318.2 L627.9,319.2 L628.1,320.2 L628.3,321.2 L628.5,322.1 L628.7,323.1 L628.9,324.1 L629.0,325.1 L629.2,326.1 L629.4,327.1 L629.6,328.1 L629.8,329.1 L629.9,330.0 L630.1,331.0 L630.3,332.0 L630.4,333.0 L630.6,334.0 L630.7,335.0 L630.9,336.0 L631.0,337.0 L631.2,338.0 L631.3,339.0 L631.5,339.9 L631.6,340.9 L631.8,341.9 L631.9,342.9 L632.0,343.9 L632.2,344.9 L632.3,345.9 L632.4,346.9 L632.5,347.9 L632.6,348.9 L632.7,349.9 L632.9,350.9 L633.0,351.9 L633.1,352.9 L633.1,353.9 L633.2,354.9 L633.3,355.9 L633.4,356.9 L633.5,357.9 L633.6,358.9 L633.6,359.9 L633.7,360.9 L633.7,361.9 L633.8,362.9 L633.8,363.9 L633.9,364.9 L633.9,365.9 L634.0,366.9 L634.0,367.9 L634.0,368.9 L634.1,369.9 L634.1,370.9 L634.1,371.9 L634.1,372.9 L634.1,373.9 L634.1,374.9 L634.1,375.9 L634.1,376.9 L634.1,377.9 L634.1,378.9 L634.1,379.9 L634.1,380.9 L634.1,381.9 L634.1,382.9 L634.1,383.9 L634.1,384.9 L634.1,385.9 L634.1,386.9 L634.0,387.9 L634.0,388.9 L634.0,389.9 L634.0,390.9 L634.0,391.9 L634.0,392.9 L634.0,394.0 L634.0,395.0 L634.0,396.0 L633.9,397.0 L633.9,398.0 L633.9,399.0 L633.9,400.0 L633.9,401.0 L633.9,402.0 L633.9,403.0 L633.9,404.0 L633.9,405.0 L633.9,406.0 L633.9,407.0 L633.9,408.0 L633.9,409.0 L634.0,410.0 L634.0,411.0 L634.0,412.0 L634.0,413.0 L634.0,414.1 L634.0,415.1 L634.1,416.1 L634.1,417.1 L634.2,418.1 L634.2,419.1 L634.3,420.1 L634.4,421.1 L634.5,422.1 L634.6,423.1 L634.8,424.1 L635.0,425.1 L635.2,426.0 L635.4,427.0 L635.6,427.9 L635.8,428.8 L636.1,429.7 L636.3,430.4 L636.5,431.1 L636.7,431.8 L636.9,432.6 L637.2,433.3 L637.5,434.2 L637.8,435.0 L638.2,435.9 L638.5,436.9 L638.9,437.8 L639.2,438.7 L639.6,439.7 L640.0,440.6 L640.3,441.5 L640.7,442.5 L641.1,443.4 L641.4,444.4 L641.8,445.3 L642.1,446.2 L642.5,447.2 L642.9,448.1 L643.2,449.1 L643.6,450.0 L644.0,450.9 L644.3,451.9 L644.7,452.8 L645.1,453.8 L645.4,454.7 L645.8,455.6 L646.1,456.6 L646.5,457.5 L646.9,458.4 L647.2,459.4 L647.6,460.3 L648.0,461.3 L648.3,462.2 L648.7,463.1 L649.1,464.1 L649.4,465.0 L649.8,465.9 L650.2,466.9 L650.5,467.8 L650.9,468.8 L651.3,469.7 L651.6,470.6 L652.0,471.6 L652.3,472.5 L652.7,473.5 L653.1,474.4 L653.4,475.3 L653.8,476.3 L654.2,477.2 L654.5,478.1 L654.9,479.1 L655.3,480.0 L655.6,481.0 L656.0,481.9 L656.4,482.8 L656.7,483.8 L657.1,484.7 L657.5,485.7 L657.8,486.6 L658.2,487.5 L658.6,488.5 L658.9,489.4 L659.3,490.3 L659.6,491.3 L660.0,492.2 L660.4,493.2 L660.7,494.1 L661.1,495.0 L661.5,496.0 L661.8,496.9 L662.2,497.8 L662.6,498.8 L662.9,499.7 L663.3,500.7 L663.7,501.6 L664.0,502.5 L664.4,503.5 L664.8,504.4 L665.1,505.4 L665.5,506.3 L665.9,507.2 L666.2,508.2 L666.6,509.1 L666.9,510.0 L667.3,511.0 L667.7,511.9 L668.0,512.9 L668.4,513.8 L668.8,514.7 L669.1,515.7 L669.5,516.6 L669.9,517.5 L670.2,518.5 L670.6,519.4 L671.0,520.4 L671.3,521.3 L671.7,522.2 L672.1,523.2 L672.4,524.1 L672.8,525.1 L673.2,526.0 L673.5,526.9 L673.9,527.9 L674.3,528.8 L674.6,529.7 L675.0,530.7 L675.3,531.6 L675.7,532.6 L676.1,533.5 L676.4,534.4 L676.8,535.4 L677.2,536.3 L677.5,537.2 L677.9,538.2 L678.3,539.1 L678.6,540.1 L679.0,541.0" stroke="#d0d0d0" stroke-width="15.50" stroke-linecap="butt"/>
<path d="M549.2,216.7 L550.0,217.2 L550.9,217.7 L551.7,218.3 L552.6,218.8 L553.4,219.3 L554.3,219.8 L555.1,220.3 L556.0,220.8 L556.8,221.4 L557.6,221.9 L558.4,222.4 L559.3,222.9 L560.1,223.4 L560.9,224.0 L561.7,224.5 L562.5,225.1 L563.3,225.6 L564.1,226.2 L564.8,226.7 L565.6,227.3 L566.4,227.8 L567.2,228.4 L567.9,229.0 L568.7,229.6 L569.5,230.2 L570.2,230.7 L571.0,231.3 L571.7,232.0 L572.5,232.6 L573.2,233.2 L574.0,233.8 L574.7,234.4 L575.4,235.1 L576.1,235.7 L576.9,236.3 L577.6,237.0 L578.3,237.6 L579.0,238.3 L579.7,239.0 L580.4,239.6 L581.1,240.3 L581.8,241.0 L582.5,241.6 L583.2,242.3 L583.9,243.0 L584.6,243.7 L585.3,244.4 L585.9,245.1 L586.6,245.8 L587.3,246.5 L587.9,247.2 L588.6,247.9 L589.2,248.6 L589.9,249.3 L590.5,250.1 L591.2,250.8 L591.8,251.5 L592.4,252.3 L593.1,253.0 L593.7,253.7 L594.3,254.5 L594.9,255.2 L595.5,256.0 L596.1,256.7 L596.7,257.5 L597.3,258.3 L597.8,259.0 L598.4,259.8 L599.0,260.6 L599.5,261.3 L600.1,262.1 L600.6,262.9 L601.2,263.7 L601.7,264.5 L602.2,265.3 L602.8,266.1 L603.3,266.9 L603.8,267.7 L604.3,268.5 L604.7,269.3 L605.2,270.1 L605.7,270.9 L606.2,271.8 L606.6,272.6 L607.1,273.4 L607.5,274.3 L607.9,275.1 L608.4,276.0 L608.8,276.8 L609.2,277.7 L609.6,278.6 L610.0,279.4 L610.4,280.3 L610.8,281.2 L611.1,282.0 L611.5,282.9 L611.9,283.8 L612.3,284.7 L612.6,285.6 L613.0,286.5 L613.3,287.4 L613.6,288.3 L614.0,289.2 L614.3,290.1 L614.6,291.0 L614.9,292.0 L615.3,292.9 L615.6,293.8 L615.9,294.7 L616.2,295.7 L616.5,296.6 L616.8,297.5 L617.0,298.4 L617.3,299.4 L617.6,300.3 L617.9,301.2 L618.1,302.2 L618.4,303.1 L618.7,304.1 L618.9,305.0 L619.2,306.0 L619.4,306.9 L619.7,307.9 L619.9,308.8 L620.1,309.8 L620.4,310.7 L620.6,311.7 L620.8,312.6 L621.0,313.6 L621.3,314.5 L621.5,315.5 L621.7,316.5 L621.9,317.4 L622.1,318.4 L622.3,319.3 L622.5,320.3 L622.7,321.3 L622.9,322.2 L623.1,323.2 L623.3,324.2 L623.5,325.1 L623.6,326.1 L623.8,327.1 L624.0,328.1 L624.2,329.0 L624.3,330.0 L624.5,331.0 L624.7,331.9 L624.8,332.9 L625.0,333.9 L625.2,334.9 L625.3,335.8 L625.5,336.8 L625.6,337.8 L625.8,338.8 L625.9,339.7 L626.0,340.7 L626.2,341.7 L626.3,342.7 L626.4,343.7 L626.6,344.6 L626.7,345.6 L626.8,346.6 L626.9,347.6 L627.1,348.5 L627.2,349.5 L627.3,350.5 L627.4,351.5 L627.5,352.4 L627.6,353.4 L627.7,354.4 L627.8,355.4 L627.8,356.3 L627.9,357.3 L628.0,358.3 L628.1,359.3 L628.1,360.2 L628.2,361.2 L628.3,362.2 L628.3,363.2 L628.4,364.1 L628.4,365.1 L628.4,366.1 L628.5,367.1 L628.5,368.0 L628.5,369.0 L628.6,370.0 L628.6,371.0 L628.6,372.0 L628.6,373.0 L628.6,373.9 L628.6,374.9 L628.6,375.9 L628.6,376.9 L628.6,377.9 L628.6,378.9 L628.6,379.9 L628.6,380.9 L628.6,381.9 L628.6,382.9 L628.6,383.9 L628.6,384.9 L628.6,385.9 L628.6,386.9 L628.6,387.9 L628.5,388.9 L628.5,389.9 L628.5,390.9 L628.5,391.9 L628.5,392.9 L628.5,393.9 L628.5,394.9 L628.5,395.9 L628.4,396.9 L628.4,397.9 L628.4,398.9 L628.4,399.9 L628.4,400.9 L628.4,402.0 L628.4,403.0 L628.4,404.0 L628.4,405.0 L628.4,406.0 L628.4,407.1 L628.4,408.1 L628.4,409.1 L628.5,410.1 L628.5,411.1 L628.5,412.1 L628.5,413.2 L628.5,414.2 L628.5,415.2 L628.6,416.3 L628.6,417.3 L628.7,418.4 L628.7,419.4 L628.8,420.5 L628.9,421.6 L629.0,422.8 L629.2,423.9 L629.3,425.0 L629.6,426.1 L629.8,427.2 L630.0,428.3 L630.3,429.3 L630.5,430.2 L630.8,431.1 L631.0,431.9 L631.2,432.7 L631.4,433.5 L631.7,434.3 L632.0,435.2 L632.3,436.1 L632.7,437.0 L633.0,437.9 L633.4,438.8 L633.7,439.8 L634.1,440.7 L634.5,441.7 L634.8,442.6 L635.2,443.5 L635.6,444.5 L635.9,445.4 L636.3,446.4 L636.6,447.3 L637.0,448.2 L637.4,449.2 L637.7,450.1 L638.1,451.0 L638.5,452.0 L638.8,452.9 L639.2,453.9 L639.6,454.8 L639.9,455.7 L640.3,456.7 L640.7,457.6 L641.0,458.6 L641.4,459.5 L641.7,460.4 L642.1,461.4 L642.5,462.3 L642.8,463.3 L643.2,464.2 L643.6,465.1 L643.9,466.1 L644.3,467.0 L644.7,467.9 L645.0,468.9 L645.4,469.8 L645.8,470.8 L646.1,471.7 L646.5,472.6 L646.9,473.6 L647.2,474.5 L647.6,475.4 L648.0,476.4 L648.3,477.3 L648.7,478.3 L649.0,479.2 L649.4,480.1 L649.8,481.1 L650.1,482.0 L650.5,483.0 L650.9,483.9 L651.2,484.8 L651.6,485.8 L652.0,486.7 L652.3,487.6 L652.7,488.6 L653.1,489.5 L653.4,490.5 L653.8,491.4 L654.2,492.3 L654.5,493.3 L654.9,494.2 L655.3,495.2 L655.6,496.1 L656.0,497.0 L656.3,498.0 L656.7,498.9 L657.1,499.8 L657.4,500.8 L657.8,501.7 L658.2,502.7 L658.5,503.6 L658.9,504.5 L659.3,505.5 L659.6,506.4 L660.0,507.3 L660.4,508.3 L660.7,509.2 L661.1,510.2 L661.5,511.1 L661.8,512.0 L662.2,513.0 L662.6,513.9 L662.9,514.9 L663.3,515.8 L663.7,516.7 L664.0,517.7 L664.4,518.6 L664.7,519.5 L665.1,520.5 L665.5,521.4 L665.8,522.4 L666.2,523.3 L666.6,524.2 L666.9,525.2 L667.3,526.1 L667.7,527.0 L668.0,528.0 L668.4,528.9 L668.8,529.9 L669.1,530.8 L669.5,531.7 L669.9,532.7 L670.2,533.6 L670.6,534.6 L671.0,535.5 L671.3,536.4 L671.7,537.4 L672.0,538.3 L672.4,539.2 L672.8,540.2 L673.1,541.1 L673.5,542.1 L673.9,543.0" stroke="#c2c2c2" stroke-width="3.00" stroke-linecap="butt"/>
<path d="M550.1,215.1 L551.0,215.6 L551.9,216.1 L552.7,216.6 L553.6,217.1 L554.4,217.7 L555.3,218.2 L556.1,218.7 L557.0,219.2 L557.8,219.7 L558.6,220.3 L559.5,220.8 L560.3,221.3 L561.1,221.9 L561.9,222.4 L562.7,222.9 L563.5,223.5 L564.4,224.0 L565.2,224.6 L566.0,225.2 L566.7,225.7 L567.5,226.3 L568.3,226.9 L569.1,227.5 L569.9,228.1 L570.6,228.7 L571.4,229.3 L572.2,229.9 L572.9,230.5 L573.7,231.1 L574.4,231.7 L575.2,232.4 L575.9,233.0 L576.7,233.6 L577.4,234.3 L578.1,234.9 L578.9,235.6 L579.6,236.2 L580.3,236.9 L581.0,237.6 L581.7,238.2 L582.4,238.9 L583.2,239.6 L583.9,240.3 L584.5,241.0 L585.2,241.7 L585.9,242.4 L586.6,243.1 L587.3,243.8 L588.0,244.5 L588.6,245.2 L589.3,245.9 L590.0,246.6 L590.6,247.4 L591.3,248.1 L591.9,248.8 L592.6,249.5 L593.2,250.3 L593.9,251.0 L594.5,251.8 L595.1,252.5 L595.8,253.3 L596.4,254.0 L597.0,254.8 L597.6,255.6 L598.2,256.3 L598.8,257.1 L599.4,257.9 L600.0,258.7 L600.5,259.4 L601.1,260.2 L601.7,261.0 L602.2,261.8 L602.8,262.6 L603.3,263.4 L603.8,264.2 L604.4,265.0 L604.9,265.9 L605.4,266.7 L605.9,267.5 L606.4,268.3 L606.9,269.2 L607.3,270.0 L607.8,270.9 L608.3,271.7 L608.7,272.5 L609.2,273.4 L609.6,274.3 L610.1,275.1 L610.5,276.0 L610.9,276.9 L611.3,277.8 L611.7,278.6 L612.1,279.5 L612.5,280.4 L612.9,281.3 L613.3,282.2 L613.6,283.1 L614.0,284.0 L614.4,284.9 L614.7,285.8 L615.1,286.7 L615.4,287.7 L615.8,288.6 L616.1,289.5 L616.4,290.4 L616.7,291.3 L617.1,292.3 L617.4,293.2 L617.7,294.1 L618.0,295.1 L618.3,296.0 L618.6,296.9 L618.9,297.9 L619.1,298.8 L619.4,299.8 L619.7,300.7 L620.0,301.7 L620.2,302.6 L620.5,303.6 L620.8,304.5 L621.0,305.5 L621.3,306.4 L621.5,307.4 L621.7,308.3 L622.0,309.3 L622.2,310.3 L622.4,311.2 L622.7,312.2 L622.9,313.1 L623.1,314.1 L623.3,315.1 L623.5,316.0 L623.8,317.0 L624.0,318.0 L624.2,319.0 L624.4,319.9 L624.6,320.9 L624.8,321.9 L624.9,322.8 L625.1,323.8 L625.3,324.8 L625.5,325.8 L625.7,326.7 L625.9,327.7 L626.0,328.7 L626.2,329.7 L626.4,330.6 L626.5,331.6 L626.7,332.6 L626.9,333.6 L627.0,334.6 L627.2,335.5 L627.3,336.5 L627.5,337.5 L627.6,338.5 L627.8,339.5 L627.9,340.5 L628.1,341.4 L628.2,342.4 L628.3,343.4 L628.5,344.4 L628.6,345.4 L628.7,346.3 L628.8,347.3 L628.9,348.3 L629.1,349.3 L629.2,350.3 L629.3,351.3 L629.4,352.2 L629.5,353.2 L629.6,354.2 L629.7,355.2 L629.7,356.2 L629.8,357.2 L629.9,358.1 L630.0,359.1 L630.0,360.1 L630.1,361.1 L630.2,362.1 L630.2,363.1 L630.3,364.0 L630.3,365.0 L630.3,366.0 L630.4,367.0 L630.4,368.0 L630.4,369.0 L630.5,370.0 L630.5,371.0 L630.5,371.9 L630.5,372.9 L630.5,373.9 L630.5,374.9 L630.5,375.9 L630.5,376.9 L630.5,377.9 L630.5,378.9 L630.5,379.9 L630.5,380.9 L630.5,381.9 L630.5,382.9 L630.5,383.9 L630.5,384.9 L630.5,385.9 L630.5,386.9 L630.4,387.9 L630.4,388.9 L630.4,389.9 L630.4,390.9 L630.4,391.9 L630.4,392.9 L630.4,393.9 L630.4,394.9 L630.4,395.9 L630.3,396.9 L630.3,397.9 L630.3,398.9 L630.3,399.9 L630.3,401.0 L630.3,402.0 L630.3,403.0 L630.3,404.0 L630.3,405.0 L630.3,406.0 L630.3,407.0 L630.3,408.0 L630.3,409.1 L630.4,410.1 L630.4,411.1 L630.4,412.1 L630.4,413.1 L630.4,414.1 L630.4,415.2 L630.5,416.2 L630.5,417.2 L630.6,418.3 L630.6,419.3 L630.7,420.4 L630.8,421.4 L630.9,422.5 L631.1,423.6 L631.2,424.7 L631.4,425.8 L631.6,426.8 L631.9,427.8 L632.1,428.8 L632.4,429.7 L632.6,430.6 L632.8,431.4 L633.0,432.1 L633.2,432.9 L633.5,433.7 L633.8,434.5 L634.1,435.4 L634.4,436.3 L634.8,437.2 L635.2,438.2 L635.5,439.1 L635.9,440.0 L636.2,441.0 L636.6,441.9 L637.0,442.8 L637.3,443.8 L637.7,444.7 L638.1,445.7 L638.4,446.6 L638.8,447.5 L639.1,448.5 L639.5,449.4 L639.9,450.4 L640.2,451.3 L640.6,452.2 L641.0,453.2 L641.3,454.1 L641.7,455.1 L642.1,456.0 L642.4,456.9 L642.8,457.9 L643.2,458.8 L643.5,459.7 L643.9,460.7 L644.3,461.6 L644.6,462.6 L645.0,463.5 L645.3,464.4 L645.7,465.4 L646.1,466.3 L646.4,467.3 L646.8,468.2 L647.2,469.1 L647.5,470.1 L647.9,471.0 L648.3,471.9 L648.6,472.9 L649.0,473.8 L649.4,474.8 L649.7,475.7 L650.1,476.6 L650.5,477.6 L650.8,478.5 L651.2,479.5 L651.5,480.4 L651.9,481.3 L652.3,482.3 L652.6,483.2 L653.0,484.1 L653.4,485.1 L653.7,486.0 L654.1,487.0 L654.5,487.9 L654.8,488.8 L655.2,489.8 L655.6,490.7 L655.9,491.6 L656.3,492.6 L656.7,493.5 L657.0,494.5 L657.4,495.4 L657.8,496.3 L658.1,497.3 L658.5,498.2 L658.8,499.2 L659.2,500.1 L659.6,501.0 L659.9,502.0 L660.3,502.9 L660.7,503.8 L661.0,504.8 L661.4,505.7 L661.8,506.7 L662.1,507.6 L662.5,508.5 L662.9,509.5 L663.2,510.4 L663.6,511.3 L664.0,512.3 L664.3,513.2 L664.7,514.2 L665.1,515.1 L665.4,516.0 L665.8,517.0 L666.2,517.9 L666.5,518.9 L666.9,519.8 L667.2,520.7 L667.6,521.7 L668.0,522.6 L668.3,523.5 L668.7,524.5 L669.1,525.4 L669.4,526.4 L669.8,527.3 L670.2,528.2 L670.5,529.2 L670.9,530.1 L671.3,531.0 L671.6,532.0 L672.0,532.9 L672.4,533.9 L672.7,534.8 L673.1,535.7 L673.5,536.7 L673.8,537.6 L674.2,538.6 L674.6,539.5 L674.9,540.4 L675.3,541.4 L675.6,542.3" stroke="#858585" stroke-width="1.40" stroke-linecap="butt"/>
<path d="M551.1,213.5 L551.9,214.1 L552.8,214.6 L553.6,215.1 L554.5,215.6 L555.4,216.1 L556.2,216.6 L557.1,217.2 L557.9,217.7 L558.7,218.2 L559.6,218.7 L560.4,219.3 L561.3,219.8 L562.1,220.4 L562.9,220.9 L563.7,221.4 L564.6,222.0 L565.4,222.6 L566.2,223.1 L567.0,223.7 L567.8,224.3 L568.6,224.9 L569.4,225.4 L570.2,226.0 L571.0,226.6 L571.7,227.2 L572.5,227.8 L573.3,228.5 L574.1,229.1 L574.8,229.7 L575.6,230.3 L576.3,231.0 L577.1,231.6 L577.8,232.3 L578.6,232.9 L579.3,233.6 L580.1,234.2 L580.8,234.9 L581.5,235.6 L582.3,236.3 L583.0,236.9 L583.7,237.6 L584.4,238.3 L585.1,239.0 L585.8,239.7 L586.5,240.4 L587.2,241.1 L587.9,241.8 L588.6,242.5 L589.3,243.2 L590.0,244.0 L590.6,244.7 L591.3,245.4 L592.0,246.1 L592.6,246.9 L593.3,247.6 L594.0,248.4 L594.6,249.1 L595.2,249.9 L595.9,250.6 L596.5,251.4 L597.1,252.1 L597.8,252.9 L598.4,253.7 L599.0,254.5 L599.6,255.2 L600.2,256.0 L600.8,256.8 L601.4,257.6 L602.0,258.4 L602.6,259.2 L603.1,260.0 L603.7,260.8 L604.2,261.6 L604.8,262.4 L605.3,263.3 L605.9,264.1 L606.4,264.9 L606.9,265.7 L607.4,266.6 L607.9,267.4 L608.4,268.3 L608.9,269.1 L609.4,270.0 L609.9,270.8 L610.3,271.7 L610.8,272.6 L611.2,273.5 L611.7,274.3 L612.1,275.2 L612.5,276.1 L613.0,277.0 L613.4,277.9 L613.8,278.8 L614.2,279.7 L614.6,280.6 L614.9,281.5 L615.3,282.4 L615.7,283.3 L616.0,284.3 L616.4,285.2 L616.8,286.1 L617.1,287.0 L617.5,288.0 L617.8,288.9 L618.1,289.8 L618.4,290.8 L618.8,291.7 L619.1,292.6 L619.4,293.6 L619.7,294.5 L620.0,295.5 L620.3,296.4 L620.6,297.4 L620.9,298.3 L621.2,299.3 L621.4,300.2 L621.7,301.2 L622.0,302.1 L622.2,303.1 L622.5,304.1 L622.7,305.0 L623.0,306.0 L623.2,306.9 L623.5,307.9 L623.7,308.9 L624.0,309.8 L624.2,310.8 L624.4,311.8 L624.6,312.7 L624.9,313.7 L625.1,314.7 L625.3,315.7 L625.5,316.6 L625.7,317.6 L625.9,318.6 L626.1,319.6 L626.3,320.5 L626.5,321.5 L626.7,322.5 L626.9,323.5 L627.1,324.5 L627.3,325.4 L627.5,326.4 L627.6,327.4 L627.8,328.4 L628.0,329.4 L628.2,330.3 L628.3,331.3 L628.5,332.3 L628.6,333.3 L628.8,334.3 L629.0,335.3 L629.1,336.3 L629.3,337.2 L629.4,338.2 L629.6,339.2 L629.7,340.2 L629.8,341.2 L630.0,342.2 L630.1,343.2 L630.2,344.2 L630.4,345.1 L630.5,346.1 L630.6,347.1 L630.7,348.1 L630.8,349.1 L631.0,350.1 L631.1,351.1 L631.2,352.1 L631.3,353.1 L631.4,354.0 L631.4,355.0 L631.5,356.0 L631.6,357.0 L631.7,358.0 L631.8,359.0 L631.8,360.0 L631.9,361.0 L631.9,362.0 L632.0,363.0 L632.1,364.0 L632.1,365.0 L632.1,365.9 L632.2,366.9 L632.2,367.9 L632.2,368.9 L632.3,369.9 L632.3,370.9 L632.3,371.9 L632.3,372.9 L632.3,373.9 L632.3,374.9 L632.3,375.9 L632.3,376.9 L632.3,377.9 L632.3,378.9 L632.3,379.9 L632.3,380.9 L632.3,381.9 L632.3,382.9 L632.3,383.9 L632.3,384.9 L632.3,385.9 L632.3,386.9 L632.2,387.9 L632.2,388.9 L632.2,389.9 L632.2,390.9 L632.2,391.9 L632.2,392.9 L632.2,393.9 L632.2,394.9 L632.2,395.9 L632.1,396.9 L632.1,397.9 L632.1,398.9 L632.1,399.9 L632.1,401.0 L632.1,402.0 L632.1,403.0 L632.1,404.0 L632.1,405.0 L632.1,406.0 L632.1,407.0 L632.1,408.0 L632.1,409.0 L632.2,410.0 L632.2,411.1 L632.2,412.1 L632.2,413.1 L632.2,414.1 L632.2,415.1 L632.3,416.1 L632.3,417.1 L632.4,418.2 L632.4,419.2 L632.5,420.2 L632.6,421.3 L632.7,422.3 L632.8,423.3 L633.0,424.4 L633.2,425.4 L633.4,426.4 L633.6,427.4 L633.9,428.4 L634.1,429.3 L634.3,430.1 L634.5,430.9 L634.7,431.6 L635.0,432.4 L635.2,433.1 L635.5,433.9 L635.8,434.8 L636.1,435.7 L636.5,436.6 L636.8,437.5 L637.2,438.4 L637.6,439.4 L637.9,440.3 L638.3,441.3 L638.6,442.2 L639.0,443.1 L639.4,444.1 L639.7,445.0 L640.1,446.0 L640.5,446.9 L640.8,447.8 L641.2,448.8 L641.6,449.7 L641.9,450.6 L642.3,451.6 L642.6,452.5 L643.0,453.5 L643.4,454.4 L643.7,455.3 L644.1,456.3 L644.5,457.2 L644.8,458.2 L645.2,459.1 L645.6,460.0 L645.9,461.0 L646.3,461.9 L646.7,462.8 L647.0,463.8 L647.4,464.7 L647.8,465.7 L648.1,466.6 L648.5,467.5 L648.8,468.5 L649.2,469.4 L649.6,470.4 L649.9,471.3 L650.3,472.2 L650.7,473.2 L651.0,474.1 L651.4,475.0 L651.8,476.0 L652.1,476.9 L652.5,477.9 L652.9,478.8 L653.2,479.7 L653.6,480.7 L654.0,481.6 L654.3,482.6 L654.7,483.5 L655.0,484.4 L655.4,485.4 L655.8,486.3 L656.1,487.2 L656.5,488.2 L656.9,489.1 L657.2,490.1 L657.6,491.0 L658.0,491.9 L658.3,492.9 L658.7,493.8 L659.1,494.7 L659.4,495.7 L659.8,496.6 L660.2,497.6 L660.5,498.5 L660.9,499.4 L661.3,500.4 L661.6,501.3 L662.0,502.3 L662.4,503.2 L662.7,504.1 L663.1,505.1 L663.4,506.0 L663.8,506.9 L664.2,507.9 L664.5,508.8 L664.9,509.8 L665.3,510.7 L665.6,511.6 L666.0,512.6 L666.4,513.5 L666.7,514.4 L667.1,515.4 L667.5,516.3 L667.8,517.3 L668.2,518.2 L668.6,519.1 L668.9,520.1 L669.3,521.0 L669.7,522.0 L670.0,522.9 L670.4,523.8 L670.8,524.8 L671.1,525.7 L671.5,526.6 L671.8,527.6 L672.2,528.5 L672.6,529.5 L672.9,530.4 L673.3,531.3 L673.7,532.3 L674.0,533.2 L674.4,534.1 L674.8,535.1 L675.1,536.0 L675.5,537.0 L675.9,537.9 L676.2,538.8 L676.6,539.8 L677.0,540.7 L677.3,541.7" stroke="#fafafa" stroke-width="2.20" stroke-linecap="butt"/>
<path d="M552.7,210.9 L553.5,211.4 L554.4,211.9 L555.2,212.4 L556.1,213.0 L557.0,213.5 L557.8,214.0 L558.7,214.5 L559.5,215.1 L560.4,215.6 L561.2,216.1 L562.1,216.7 L562.9,217.2 L563.8,217.8 L564.6,218.3 L565.5,218.9 L566.3,219.4 L567.1,220.0 L568.0,220.6 L568.8,221.2 L569.6,221.8 L570.4,222.4 L571.2,223.0 L572.0,223.6 L572.9,224.2 L573.7,224.8 L574.4,225.4 L575.2,226.0 L576.0,226.7 L576.8,227.3 L577.6,228.0 L578.4,228.6 L579.1,229.3 L579.9,229.9 L580.6,230.6 L581.4,231.3 L582.1,231.9 L582.9,232.6 L583.6,233.3 L584.4,234.0 L585.1,234.7 L585.8,235.4 L586.6,236.1 L587.3,236.8 L588.0,237.5 L588.7,238.2 L589.4,238.9 L590.1,239.6 L590.8,240.4 L591.5,241.1 L592.2,241.8 L592.9,242.6 L593.6,243.3 L594.3,244.1 L594.9,244.8 L595.6,245.6 L596.3,246.3 L596.9,247.1 L597.6,247.9 L598.3,248.6 L598.9,249.4 L599.5,250.2 L600.2,251.0 L600.8,251.7 L601.4,252.5 L602.1,253.3 L602.7,254.1 L603.3,254.9 L603.9,255.8 L604.5,256.6 L605.1,257.4 L605.7,258.2 L606.2,259.0 L606.8,259.9 L607.4,260.7 L607.9,261.6 L608.5,262.4 L609.0,263.3 L609.6,264.1 L610.1,265.0 L610.6,265.8 L611.1,266.7 L611.6,267.6 L612.1,268.5 L612.6,269.4 L613.1,270.3 L613.5,271.2 L614.0,272.1 L614.5,273.0 L614.9,273.9 L615.3,274.8 L615.8,275.7 L616.2,276.6 L616.6,277.5 L617.0,278.5 L617.4,279.4 L617.8,280.3 L618.2,281.2 L618.6,282.2 L618.9,283.1 L619.3,284.1 L619.7,285.0 L620.0,285.9 L620.4,286.9 L620.7,287.8 L621.0,288.8 L621.4,289.7 L621.7,290.7 L622.0,291.7 L622.3,292.6 L622.6,293.6 L623.0,294.5 L623.3,295.5 L623.6,296.5 L623.8,297.4 L624.1,298.4 L624.4,299.4 L624.7,300.3 L625.0,301.3 L625.2,302.3 L625.5,303.2 L625.7,304.2 L626.0,305.2 L626.3,306.2 L626.5,307.2 L626.7,308.1 L627.0,309.1 L627.2,310.1 L627.4,311.1 L627.7,312.1 L627.9,313.0 L628.1,314.0 L628.3,315.0 L628.5,316.0 L628.8,317.0 L629.0,318.0 L629.2,318.9 L629.4,319.9 L629.6,320.9 L629.8,321.9 L629.9,322.9 L630.1,323.9 L630.3,324.9 L630.5,325.9 L630.7,326.8 L630.9,327.8 L631.0,328.8 L631.2,329.8 L631.4,330.8 L631.5,331.8 L631.7,332.8 L631.9,333.8 L632.0,334.8 L632.2,335.8 L632.3,336.8 L632.5,337.8 L632.6,338.8 L632.8,339.8 L632.9,340.8 L633.0,341.8 L633.2,342.8 L633.3,343.7 L633.4,344.7 L633.6,345.7 L633.7,346.7 L633.8,347.7 L633.9,348.7 L634.0,349.7 L634.1,350.8 L634.2,351.8 L634.3,352.8 L634.4,353.8 L634.5,354.8 L634.6,355.8 L634.7,356.8 L634.8,357.8 L634.9,358.8 L634.9,359.8 L635.0,360.8 L635.0,361.8 L635.1,362.8 L635.1,363.8 L635.2,364.8 L635.2,365.8 L635.3,366.8 L635.3,367.8 L635.3,368.8 L635.4,369.9 L635.4,370.9 L635.4,371.9 L635.4,372.9 L635.4,373.9 L635.4,374.9 L635.4,375.9 L635.4,376.9 L635.4,377.9 L635.4,378.9 L635.4,379.9 L635.4,380.9 L635.4,381.9 L635.4,382.9 L635.4,383.9 L635.4,384.9 L635.4,385.9 L635.4,386.9 L635.3,387.9 L635.3,389.0 L635.3,390.0 L635.3,391.0 L635.3,392.0 L635.3,393.0 L635.3,394.0 L635.3,395.0 L635.3,396.0 L635.2,397.0 L635.2,398.0 L635.2,399.0 L635.2,400.0 L635.2,401.0 L635.2,402.0 L635.2,403.0 L635.2,404.0 L635.2,405.0 L635.2,406.0 L635.2,407.0 L635.2,408.0 L635.2,409.0 L635.3,410.0 L635.3,411.0 L635.3,412.0 L635.3,413.0 L635.3,414.0 L635.3,415.0 L635.4,416.0 L635.4,417.0 L635.5,418.0 L635.5,419.0 L635.6,420.0 L635.7,421.0 L635.8,421.9 L635.9,422.9 L636.1,423.9 L636.2,424.8 L636.4,425.8 L636.6,426.7 L636.9,427.6 L637.1,428.5 L637.3,429.3 L637.5,430.1 L637.7,430.8 L637.9,431.5 L638.1,432.1 L638.4,432.9 L638.7,433.7 L639.0,434.6 L639.4,435.5 L639.7,436.4 L640.1,437.3 L640.4,438.3 L640.8,439.2 L641.2,440.1 L641.5,441.1 L641.9,442.0 L642.3,443.0 L642.6,443.9 L643.0,444.8 L643.4,445.8 L643.7,446.7 L644.1,447.7 L644.4,448.6 L644.8,449.5 L645.2,450.5 L645.5,451.4 L645.9,452.3 L646.3,453.3 L646.6,454.2 L647.0,455.2 L647.4,456.1 L647.7,457.0 L648.1,458.0 L648.5,458.9 L648.8,459.8 L649.2,460.8 L649.5,461.7 L649.9,462.7 L650.3,463.6 L650.6,464.5 L651.0,465.5 L651.4,466.4 L651.7,467.4 L652.1,468.3 L652.5,469.2 L652.8,470.2 L653.2,471.1 L653.6,472.0 L653.9,473.0 L654.3,473.9 L654.7,474.9 L655.0,475.8 L655.4,476.7 L655.7,477.7 L656.1,478.6 L656.5,479.6 L656.8,480.5 L657.2,481.4 L657.6,482.4 L657.9,483.3 L658.3,484.2 L658.7,485.2 L659.0,486.1 L659.4,487.1 L659.8,488.0 L660.1,488.9 L660.5,489.9 L660.9,490.8 L661.2,491.7 L661.6,492.7 L662.0,493.6 L662.3,494.6 L662.7,495.5 L663.0,496.4 L663.4,497.4 L663.8,498.3 L664.1,499.3 L664.5,500.2 L664.9,501.1 L665.2,502.1 L665.6,503.0 L666.0,503.9 L666.3,504.9 L666.7,505.8 L667.1,506.8 L667.4,507.7 L667.8,508.6 L668.2,509.6 L668.5,510.5 L668.9,511.4 L669.3,512.4 L669.6,513.3 L670.0,514.3 L670.4,515.2 L670.7,516.1 L671.1,517.1 L671.4,518.0 L671.8,519.0 L672.2,519.9 L672.5,520.8 L672.9,521.8 L673.3,522.7 L673.6,523.6 L674.0,524.6 L674.4,525.5 L674.7,526.5 L675.1,527.4 L675.5,528.3 L675.8,529.3 L676.2,530.2 L676.6,531.1 L676.9,532.1 L677.3,533.0 L677.7,534.0 L678.0,534.9 L678.4,535.8 L678.8,536.8 L679.1,537.7 L679.5,538.7 L679.8,539.6 L680.2,540.5" stroke="#7e7e7e" stroke-width="2.60" stroke-linecap="butt"/>
<path d="M554.3,208.1 L555.2,208.7 L556.0,209.2 L556.9,209.7 L557.8,210.2 L558.6,210.7 L559.5,211.3 L560.4,211.8 L561.2,212.3 L562.1,212.9 L563.0,213.4 L563.8,214.0 L564.7,214.5 L565.5,215.1 L566.4,215.6 L567.3,216.2 L568.1,216.8 L569.0,217.4 L569.8,218.0 L570.6,218.6 L571.5,219.2 L572.3,219.8 L573.2,220.4 L574.0,221.0 L574.8,221.6 L575.6,222.3 L576.4,222.9 L577.2,223.5 L578.0,224.2 L578.8,224.9 L579.6,225.5 L580.4,226.2 L581.2,226.8 L582.0,227.5 L582.8,228.2 L583.5,228.9 L584.3,229.6 L585.1,230.3 L585.8,231.0 L586.6,231.7 L587.3,232.4 L588.1,233.1 L588.8,233.8 L589.5,234.5 L590.3,235.2 L591.0,236.0 L591.7,236.7 L592.4,237.4 L593.1,238.2 L593.9,238.9 L594.6,239.6 L595.3,240.4 L596.0,241.2 L596.6,241.9 L597.3,242.7 L598.0,243.4 L598.7,244.2 L599.4,245.0 L600.0,245.8 L600.7,246.6 L601.4,247.4 L602.0,248.2 L602.7,249.0 L603.3,249.8 L604.0,250.6 L604.6,251.4 L605.2,252.2 L605.8,253.0 L606.5,253.9 L607.1,254.7 L607.7,255.5 L608.3,256.4 L608.9,257.2 L609.5,258.1 L610.0,258.9 L610.6,259.8 L611.2,260.7 L611.7,261.6 L612.3,262.4 L612.8,263.3 L613.4,264.2 L613.9,265.1 L614.4,266.0 L614.9,266.9 L615.4,267.8 L615.9,268.8 L616.4,269.7 L616.9,270.6 L617.3,271.5 L617.8,272.5 L618.2,273.4 L618.7,274.3 L619.1,275.3 L619.5,276.2 L619.9,277.2 L620.3,278.1 L620.7,279.1 L621.1,280.0 L621.5,281.0 L621.9,281.9 L622.3,282.9 L622.7,283.9 L623.0,284.8 L623.4,285.8 L623.7,286.8 L624.1,287.7 L624.4,288.7 L624.7,289.7 L625.1,290.6 L625.4,291.6 L625.7,292.6 L626.0,293.6 L626.3,294.6 L626.6,295.5 L626.9,296.5 L627.2,297.5 L627.5,298.5 L627.8,299.5 L628.0,300.4 L628.3,301.4 L628.6,302.4 L628.8,303.4 L629.1,304.4 L629.4,305.4 L629.6,306.4 L629.8,307.4 L630.1,308.4 L630.3,309.3 L630.6,310.3 L630.8,311.3 L631.0,312.3 L631.2,313.3 L631.5,314.3 L631.7,315.3 L631.9,316.3 L632.1,317.3 L632.3,318.3 L632.5,319.3 L632.7,320.3 L632.9,321.3 L633.1,322.3 L633.3,323.3 L633.5,324.3 L633.7,325.3 L633.8,326.3 L634.0,327.3 L634.2,328.3 L634.4,329.3 L634.5,330.3 L634.7,331.3 L634.9,332.3 L635.0,333.3 L635.2,334.3 L635.3,335.3 L635.5,336.3 L635.6,337.3 L635.8,338.3 L635.9,339.3 L636.1,340.3 L636.2,341.3 L636.4,342.3 L636.5,343.3 L636.6,344.3 L636.7,345.4 L636.9,346.4 L637.0,347.4 L637.1,348.4 L637.2,349.4 L637.3,350.4 L637.4,351.4 L637.5,352.4 L637.6,353.5 L637.7,354.5 L637.8,355.5 L637.9,356.5 L638.0,357.5 L638.0,358.6 L638.1,359.6 L638.2,360.6 L638.2,361.6 L638.3,362.6 L638.3,363.7 L638.4,364.7 L638.4,365.7 L638.5,366.7 L638.5,367.7 L638.5,368.8 L638.6,369.8 L638.6,370.8 L638.6,371.8 L638.6,372.8 L638.6,373.9 L638.6,374.9 L638.6,375.9 L638.6,376.9 L638.6,377.9 L638.6,378.9 L638.6,379.9 L638.6,380.9 L638.6,381.9 L638.6,383.0 L638.6,384.0 L638.6,385.0 L638.6,386.0 L638.6,387.0 L638.5,388.0 L638.5,389.0 L638.5,390.0 L638.5,391.0 L638.5,392.0 L638.5,393.0 L638.5,394.0 L638.5,395.0 L638.5,396.0 L638.4,397.0 L638.4,398.0 L638.4,399.0 L638.4,400.0 L638.4,401.0 L638.4,402.0 L638.4,403.0 L638.4,404.0 L638.4,405.0 L638.4,406.0 L638.4,407.0 L638.4,408.0 L638.4,409.0 L638.5,410.0 L638.5,411.0 L638.5,412.0 L638.5,413.0 L638.5,414.0 L638.5,414.9 L638.6,415.9 L638.6,416.9 L638.6,417.8 L638.7,418.8 L638.8,419.7 L638.8,420.6 L638.9,421.5 L639.1,422.4 L639.2,423.3 L639.4,424.2 L639.6,425.1 L639.8,426.0 L640.0,426.8 L640.2,427.7 L640.4,428.5 L640.6,429.2 L640.8,429.9 L641.0,430.5 L641.2,431.1 L641.4,431.8 L641.7,432.6 L642.0,433.4 L642.4,434.3 L642.7,435.2 L643.1,436.2 L643.4,437.1 L643.8,438.0 L644.2,439.0 L644.5,439.9 L644.9,440.9 L645.2,441.8 L645.6,442.7 L646.0,443.7 L646.3,444.6 L646.7,445.6 L647.1,446.5 L647.4,447.4 L647.8,448.4 L648.2,449.3 L648.5,450.2 L648.9,451.2 L649.2,452.1 L649.6,453.1 L650.0,454.0 L650.3,454.9 L650.7,455.9 L651.1,456.8 L651.4,457.8 L651.8,458.7 L652.2,459.6 L652.5,460.6 L652.9,461.5 L653.3,462.4 L653.6,463.4 L654.0,464.3 L654.4,465.3 L654.7,466.2 L655.1,467.1 L655.4,468.1 L655.8,469.0 L656.2,469.9 L656.5,470.9 L656.9,471.8 L657.3,472.8 L657.6,473.7 L658.0,474.6 L658.4,475.6 L658.7,476.5 L659.1,477.5 L659.5,478.4 L659.8,479.3 L660.2,480.3 L660.6,481.2 L660.9,482.1 L661.3,483.1 L661.7,484.0 L662.0,485.0 L662.4,485.9 L662.7,486.8 L663.1,487.8 L663.5,488.7 L663.8,489.6 L664.2,490.6 L664.6,491.5 L664.9,492.5 L665.3,493.4 L665.7,494.3 L666.0,495.3 L666.4,496.2 L666.8,497.2 L667.1,498.1 L667.5,499.0 L667.9,500.0 L668.2,500.9 L668.6,501.8 L669.0,502.8 L669.3,503.7 L669.7,504.7 L670.0,505.6 L670.4,506.5 L670.8,507.5 L671.1,508.4 L671.5,509.3 L671.9,510.3 L672.2,511.2 L672.6,512.2 L673.0,513.1 L673.3,514.0 L673.7,515.0 L674.1,515.9 L674.4,516.9 L674.8,517.8 L675.2,518.7 L675.5,519.7 L675.9,520.6 L676.3,521.5 L676.6,522.5 L677.0,523.4 L677.4,524.4 L677.7,525.3 L678.1,526.2 L678.4,527.2 L678.8,528.1 L679.2,529.0 L679.5,530.0 L679.9,530.9 L680.3,531.9 L680.6,532.8 L681.0,533.7 L681.4,534.7 L681.7,535.6 L682.1,536.6 L682.5,537.5 L682.8,538.4 L683.2,539.4" stroke="#d0d0d0" stroke-width="3.20" stroke-linecap="butt"/>
<path d="M555.5,206.2 L556.4,206.7 L557.2,207.2 L558.1,207.7 L559.0,208.3 L559.8,208.8 L560.7,209.3 L561.6,209.8 L562.4,210.4 L563.3,210.9 L564.2,211.5 L565.1,212.0 L565.9,212.6 L566.8,213.2 L567.7,213.7 L568.5,214.3 L569.4,214.9 L570.3,215.5 L571.1,216.1 L572.0,216.7 L572.8,217.3 L573.7,217.9 L574.5,218.5 L575.4,219.2 L576.2,219.8 L577.0,220.5 L577.9,221.1 L578.7,221.8 L579.5,222.4 L580.3,223.1 L581.1,223.7 L581.9,224.4 L582.7,225.1 L583.5,225.8 L584.3,226.5 L585.1,227.2 L585.8,227.9 L586.6,228.6 L587.4,229.3 L588.1,230.0 L588.9,230.7 L589.6,231.4 L590.4,232.1 L591.1,232.9 L591.9,233.6 L592.6,234.3 L593.3,235.1 L594.1,235.8 L594.8,236.6 L595.5,237.3 L596.2,238.1 L596.9,238.8 L597.6,239.6 L598.4,240.4 L599.0,241.1 L599.7,241.9 L600.4,242.7 L601.1,243.5 L601.8,244.3 L602.5,245.1 L603.1,245.9 L603.8,246.7 L604.5,247.5 L605.1,248.3 L605.8,249.1 L606.4,250.0 L607.1,250.8 L607.7,251.6 L608.3,252.5 L608.9,253.3 L609.6,254.2 L610.2,255.0 L610.8,255.9 L611.4,256.8 L612.0,257.7 L612.5,258.5 L613.1,259.4 L613.7,260.3 L614.2,261.2 L614.8,262.1 L615.3,263.0 L615.9,264.0 L616.4,264.9 L616.9,265.8 L617.4,266.7 L617.9,267.7 L618.4,268.6 L618.9,269.6 L619.4,270.5 L619.8,271.5 L620.3,272.4 L620.8,273.4 L621.2,274.3 L621.6,275.3 L622.0,276.3 L622.5,277.2 L622.9,278.2 L623.3,279.2 L623.7,280.1 L624.1,281.1 L624.4,282.1 L624.8,283.1 L625.2,284.0 L625.5,285.0 L625.9,286.0 L626.2,287.0 L626.6,288.0 L626.9,288.9 L627.2,289.9 L627.6,290.9 L627.9,291.9 L628.2,292.9 L628.5,293.9 L628.8,294.9 L629.1,295.9 L629.4,296.8 L629.7,297.8 L630.0,298.8 L630.3,299.8 L630.5,300.8 L630.8,301.8 L631.1,302.8 L631.3,303.8 L631.6,304.8 L631.8,305.8 L632.1,306.8 L632.3,307.8 L632.6,308.8 L632.8,309.8 L633.0,310.8 L633.3,311.8 L633.5,312.8 L633.7,313.8 L633.9,314.8 L634.1,315.8 L634.3,316.8 L634.6,317.8 L634.8,318.8 L635.0,319.8 L635.2,320.8 L635.3,321.9 L635.5,322.9 L635.7,323.9 L635.9,324.9 L636.1,325.9 L636.3,326.9 L636.5,327.9 L636.6,328.9 L636.8,329.9 L637.0,330.9 L637.1,331.9 L637.3,332.9 L637.5,333.9 L637.6,334.9 L637.8,335.9 L637.9,337.0 L638.1,338.0 L638.2,339.0 L638.4,340.0 L638.5,341.0 L638.6,342.0 L638.8,343.0 L638.9,344.1 L639.0,345.1 L639.2,346.1 L639.3,347.1 L639.4,348.1 L639.5,349.2 L639.6,350.2 L639.7,351.2 L639.8,352.2 L639.9,353.3 L640.0,354.3 L640.1,355.3 L640.2,356.3 L640.3,357.4 L640.3,358.4 L640.4,359.4 L640.5,360.5 L640.5,361.5 L640.6,362.5 L640.6,363.6 L640.7,364.6 L640.7,365.6 L640.8,366.6 L640.8,367.7 L640.8,368.7 L640.9,369.7 L640.9,370.8 L640.9,371.8 L640.9,372.8 L640.9,373.8 L640.9,374.9 L640.9,375.9 L640.9,376.9 L640.9,377.9 L640.9,378.9 L640.9,379.9 L640.9,381.0 L640.9,382.0 L640.9,383.0 L640.9,384.0 L640.9,385.0 L640.9,386.0 L640.9,387.0 L640.8,388.0 L640.8,389.0 L640.8,390.0 L640.8,391.0 L640.8,392.0 L640.8,393.0 L640.8,394.0 L640.8,395.0 L640.8,396.0 L640.7,397.0 L640.7,398.0 L640.7,399.0 L640.7,400.0 L640.7,401.0 L640.7,402.0 L640.7,403.0 L640.7,403.9 L640.7,404.9 L640.7,405.9 L640.7,407.0 L640.7,408.0 L640.7,409.0 L640.8,410.0 L640.8,410.9 L640.8,411.9 L640.8,412.9 L640.8,413.9 L640.8,414.9 L640.9,415.8 L640.9,416.8 L640.9,417.7 L641.0,418.6 L641.1,419.5 L641.1,420.4 L641.2,421.3 L641.3,422.1 L641.5,422.9 L641.6,423.8 L641.8,424.6 L642.0,425.4 L642.2,426.3 L642.4,427.1 L642.6,427.9 L642.8,428.6 L643.0,429.2 L643.2,429.8 L643.4,430.4 L643.6,431.1 L643.9,431.8 L644.2,432.6 L644.5,433.5 L644.9,434.4 L645.2,435.3 L645.6,436.3 L645.9,437.2 L646.3,438.2 L646.7,439.1 L647.0,440.0 L647.4,441.0 L647.8,441.9 L648.1,442.8 L648.5,443.8 L648.8,444.7 L649.2,445.7 L649.6,446.6 L649.9,447.5 L650.3,448.5 L650.7,449.4 L651.0,450.4 L651.4,451.3 L651.8,452.2 L652.1,453.2 L652.5,454.1 L652.9,455.0 L653.2,456.0 L653.6,456.9 L653.9,457.9 L654.3,458.8 L654.7,459.7 L655.0,460.7 L655.4,461.6 L655.8,462.5 L656.1,463.5 L656.5,464.4 L656.9,465.4 L657.2,466.3 L657.6,467.2 L658.0,468.2 L658.3,469.1 L658.7,470.1 L659.0,471.0 L659.4,471.9 L659.8,472.9 L660.1,473.8 L660.5,474.7 L660.9,475.7 L661.2,476.6 L661.6,477.6 L662.0,478.5 L662.3,479.4 L662.7,480.4 L663.1,481.3 L663.4,482.2 L663.8,483.2 L664.2,484.1 L664.5,485.1 L664.9,486.0 L665.3,486.9 L665.6,487.9 L666.0,488.8 L666.3,489.8 L666.7,490.7 L667.1,491.6 L667.4,492.6 L667.8,493.5 L668.2,494.4 L668.5,495.4 L668.9,496.3 L669.3,497.3 L669.6,498.2 L670.0,499.1 L670.4,500.1 L670.7,501.0 L671.1,501.9 L671.5,502.9 L671.8,503.8 L672.2,504.8 L672.6,505.7 L672.9,506.6 L673.3,507.6 L673.7,508.5 L674.0,509.5 L674.4,510.4 L674.7,511.3 L675.1,512.3 L675.5,513.2 L675.8,514.1 L676.2,515.1 L676.6,516.0 L676.9,517.0 L677.3,517.9 L677.7,518.8 L678.0,519.8 L678.4,520.7 L678.8,521.6 L679.1,522.6 L679.5,523.5 L679.9,524.5 L680.2,525.4 L680.6,526.3 L681.0,527.3 L681.3,528.2 L681.7,529.2 L682.1,530.1 L682.4,531.0 L682.8,532.0 L683.1,532.9 L683.5,533.8 L683.9,534.8 L684.2,535.7 L684.6,536.7 L685.0,537.6 L685.3,538.5" stroke="#949494" stroke-width="1.40" stroke-linecap="butt"/>
<path d="M548.4,218.0 L549.3,218.5 L550.1,219.0 L551.0,219.5 L551.8,220.1 L552.7,220.6 L553.5,221.1 L554.3,221.6 L555.2,222.1 L556.0,222.6 L556.8,223.1 L557.6,223.7 L558.4,224.2 L559.2,224.7 L560.0,225.2 L560.8,225.8 L561.6,226.3 L562.4,226.8 L563.2,227.4 L564.0,227.9 L564.8,228.5 L565.5,229.0 L566.3,229.6 L567.0,230.2 L567.8,230.8 L568.5,231.3 L569.3,231.9 L570.0,232.5 L570.8,233.1 L571.5,233.7 L572.3,234.3 L573.0,234.9 L573.7,235.6 L574.4,236.2 L575.2,236.8 L575.9,237.5 L576.6,238.1 L577.3,238.7 L578.0,239.4 L578.7,240.0 L579.4,240.7 L580.1,241.4 L580.8,242.0 L581.5,242.7 L582.2,243.4 L582.8,244.1 L583.5,244.7 L584.2,245.4 L584.8,246.1 L585.5,246.8 L586.2,247.5 L586.8,248.2 L587.5,248.9 L588.1,249.6 L588.8,250.3 L589.4,251.1 L590.0,251.8 L590.7,252.5 L591.3,253.2 L591.9,254.0 L592.5,254.7 L593.1,255.4 L593.7,256.2 L594.3,256.9 L594.9,257.7 L595.5,258.4 L596.1,259.2 L596.6,259.9 L597.2,260.7 L597.8,261.4 L598.3,262.2 L598.9,263.0 L599.4,263.8 L599.9,264.5 L600.5,265.3 L601.0,266.1 L601.5,266.9 L602.0,267.7 L602.5,268.5 L603.0,269.3 L603.5,270.1 L603.9,270.9 L604.4,271.7 L604.8,272.5 L605.3,273.3 L605.7,274.1 L606.2,275.0 L606.6,275.8 L607.0,276.6 L607.4,277.5 L607.8,278.3 L608.2,279.2 L608.6,280.0 L609.0,280.9 L609.4,281.8 L609.8,282.6 L610.1,283.5 L610.5,284.4 L610.9,285.3 L611.2,286.2 L611.6,287.0 L611.9,287.9 L612.2,288.8 L612.6,289.7 L612.9,290.6 L613.2,291.5 L613.5,292.5 L613.8,293.4 L614.1,294.3 L614.4,295.2 L614.7,296.1 L615.0,297.0 L615.3,298.0 L615.6,298.9 L615.9,299.8 L616.2,300.7 L616.4,301.7 L616.7,302.6 L617.0,303.5 L617.2,304.5 L617.5,305.4 L617.7,306.3 L618.0,307.3 L618.2,308.2 L618.4,309.2 L618.7,310.1 L618.9,311.1 L619.1,312.0 L619.4,313.0 L619.6,313.9 L619.8,314.9 L620.0,315.8 L620.2,316.8 L620.4,317.7 L620.6,318.7 L620.8,319.6 L621.0,320.6 L621.2,321.6 L621.4,322.5 L621.6,323.5 L621.8,324.5 L622.0,325.4 L622.2,326.4 L622.3,327.3 L622.5,328.3 L622.7,329.3 L622.9,330.3 L623.0,331.2 L623.2,332.2 L623.4,333.2 L623.5,334.1 L623.7,335.1 L623.8,336.1 L624.0,337.0 L624.1,338.0 L624.3,339.0 L624.4,340.0 L624.6,340.9 L624.7,341.9 L624.8,342.9 L625.0,343.9 L625.1,344.8 L625.2,345.8 L625.3,346.8 L625.5,347.7 L625.6,348.7 L625.7,349.7 L625.8,350.6 L625.9,351.6 L626.0,352.6 L626.1,353.6 L626.2,354.5 L626.3,355.5 L626.4,356.5 L626.4,357.4 L626.5,358.4 L626.6,359.4 L626.6,360.3 L626.7,361.3 L626.8,362.3 L626.8,363.2 L626.9,364.2 L626.9,365.2 L626.9,366.1 L627.0,367.1 L627.0,368.1 L627.0,369.1 L627.1,370.0 L627.1,371.0 L627.1,372.0 L627.1,373.0 L627.1,374.0 L627.1,374.9 L627.1,375.9 L627.1,376.9 L627.1,377.9 L627.1,378.9 L627.1,379.9 L627.1,380.9 L627.1,381.9 L627.1,382.9 L627.1,383.9 L627.1,384.9 L627.1,385.8 L627.1,386.8 L627.1,387.9 L627.0,388.9 L627.0,389.9 L627.0,390.9 L627.0,391.9 L627.0,392.9 L627.0,393.9 L627.0,394.9 L627.0,395.9 L626.9,396.9 L626.9,397.9 L626.9,398.9 L626.9,399.9 L626.9,400.9 L626.9,402.0 L626.9,403.0 L626.9,404.0 L626.9,405.1 L626.9,406.1 L626.9,407.1 L626.9,408.1 L626.9,409.1 L627.0,410.1 L627.0,411.1 L627.0,412.2 L627.0,413.2 L627.0,414.2 L627.0,415.3 L627.1,416.3 L627.1,417.4 L627.2,418.4 L627.2,419.5 L627.3,420.7 L627.4,421.8 L627.5,422.9 L627.7,424.1 L627.9,425.3 L628.1,426.4 L628.3,427.5 L628.6,428.6 L628.8,429.6 L629.1,430.6 L629.3,431.5 L629.5,432.3 L629.7,433.1 L630.0,433.9 L630.3,434.8 L630.6,435.7 L630.9,436.6 L631.3,437.5 L631.6,438.4 L632.0,439.4 L632.3,440.3 L632.7,441.3 L633.1,442.2 L633.4,443.1 L633.8,444.1 L634.2,445.0 L634.5,446.0 L634.9,446.9 L635.3,447.8 L635.6,448.8 L636.0,449.7 L636.3,450.7 L636.7,451.6 L637.1,452.5 L637.4,453.5 L637.8,454.4 L638.2,455.3 L638.5,456.3 L638.9,457.2 L639.3,458.2 L639.6,459.1 L640.0,460.0 L640.4,461.0 L640.7,461.9 L641.1,462.9 L641.4,463.8 L641.8,464.7 L642.2,465.7 L642.5,466.6 L642.9,467.5 L643.3,468.5 L643.6,469.4 L644.0,470.4 L644.4,471.3 L644.7,472.2 L645.1,473.2 L645.5,474.1 L645.8,475.1 L646.2,476.0 L646.6,476.9 L646.9,477.9 L647.3,478.8 L647.6,479.7 L648.0,480.7 L648.4,481.6 L648.7,482.6 L649.1,483.5 L649.5,484.4 L649.8,485.4 L650.2,486.3 L650.6,487.3 L650.9,488.2 L651.3,489.1 L651.7,490.1 L652.0,491.0 L652.4,491.9 L652.8,492.9 L653.1,493.8 L653.5,494.8 L653.9,495.7 L654.2,496.6 L654.6,497.6 L654.9,498.5 L655.3,499.4 L655.7,500.4 L656.0,501.3 L656.4,502.3 L656.8,503.2 L657.1,504.1 L657.5,505.1 L657.9,506.0 L658.2,507.0 L658.6,507.9 L659.0,508.8 L659.3,509.8 L659.7,510.7 L660.1,511.6 L660.4,512.6 L660.8,513.5 L661.2,514.5 L661.5,515.4 L661.9,516.3 L662.3,517.3 L662.6,518.2 L663.0,519.1 L663.3,520.1 L663.7,521.0 L664.1,522.0 L664.4,522.9 L664.8,523.8 L665.2,524.8 L665.5,525.7 L665.9,526.7 L666.3,527.6 L666.6,528.5 L667.0,529.5 L667.4,530.4 L667.7,531.3 L668.1,532.3 L668.5,533.2 L668.8,534.2 L669.2,535.1 L669.6,536.0 L669.9,537.0 L670.3,537.9 L670.7,538.8 L671.0,539.8 L671.4,540.7 L671.7,541.7 L672.1,542.6 L672.5,543.5" stroke="#a0a0a0" stroke-width="1.20" stroke-linecap="butt"/>
<path d="M538.2,579 L538.2,575.5 Q538.5,571.5 543,571.2 L549.5,571.2 Q553.8,571.5 554,575.5 L554,579 Z" fill="#c4c4c4" stroke="none"/>
<path d="M539.5,576 Q540,572.8 543.5,572.5 L549,572.5 Q552.5,572.8 552.8,576" fill="none" stroke="#ededed" stroke-width="1.6"/>
</g>
<!-- w2tip -->
<path d="M672.5,543 L684.5,538.2" stroke="#6a6a6a" stroke-width="1.6" fill="none" stroke-linecap="round"/>
<!-- eyelets -->
<g>
  <path d="M276.5,296 C281,290.5 290.5,292.5 290,303 C289.5,312 285,319 279,318.5 C274,317 273,306 276.5,296 Z" fill="#d0d0d0" stroke="#7a7a7a" stroke-width="1.3"/>
  <path d="M279,297.5 C283,295 287.5,297 287.5,304 C287,311 284,315.5 280.5,315" fill="none" stroke="#eeeeee" stroke-width="1.4"/>
  <ellipse cx="552" cy="212.5" rx="12.5" ry="7.5" transform="rotate(42 552 212.5)" fill="#eaeaea" stroke="#8a8a8a" stroke-width="2.4"/>
  <ellipse cx="552" cy="212.5" rx="8" ry="3.6" transform="rotate(42 552 212.5)" fill="#d8d8d8" stroke="#a8a8a8" stroke-width="1"/>
</g>
<!-- balls -->
<g transform="translate(517.0,190.3) scale(0.994,1.051) rotate(10)"><use href="#ball"/></g>
<g transform="translate(457.2,179.4) scale(0.999,1.056) rotate(3)"><use href="#ball"/></g>
<g transform="translate(398.0,184.9) scale(1.009,1.066) rotate(-12)"><use href="#ball"/></g>
<g transform="translate(342.5,208.1) scale(1.009,1.066) rotate(-28)"><use href="#ball"/></g>
<g transform="translate(299.2,251.6) scale(1.004,1.061) rotate(-36)"><use href="#ball"/></g>

<!-- ===== SMALL HOOK ===== -->
<g fill="none" stroke-linecap="round" stroke-linejoin="round">
  <use href="#sa" stroke="#7a7a7a" stroke-width="4.6"/>
  <use href="#sa" stroke="#e6e6e6" stroke-width="1.9"/>
  <use href="#sb" stroke="#7a7a7a" stroke-width="4.6"/>
  <use href="#sb" stroke="#e6e6e6" stroke-width="1.9"/>
</g>
<g transform="translate(830.5,627.0) rotate(25) scale(0.467)"><use href="#sbl"/></g>
<g transform="translate(807.0,609.9) rotate(12) scale(0.467)"><use href="#sbl"/></g>
<g transform="translate(779.7,604.1) rotate(-5) scale(0.467)"><use href="#sbl"/></g>
<g transform="translate(752.1,609.4) rotate(-18) scale(0.467)"><use href="#sbl"/></g>
<g transform="translate(729.4,624.7) rotate(-30) scale(0.473)"><use href="#sbl"/></g>
<g fill="none" stroke="#8a8a8a" stroke-width="1.3">
  <ellipse cx="719.5" cy="640.5" rx="4.5" ry="3" transform="rotate(-50 719.5 640.5)" fill="#e6e6e6"/>
  <ellipse cx="841" cy="643" rx="4.5" ry="3" transform="rotate(50 841 643)" fill="#e6e6e6"/>
</g>

<!-- dimension lines -->
<g stroke="#12807e" stroke-width="2" fill="none">
  <path d="M686,591 V852 M681,591 H691 M681,852 H691"/>
  <path d="M715.4,682 H840.8 M715.4,677.5 V686.5 M840.8,677.5 V686.5"/>
</g>
<text class="s" x="716.50" y="673.60" style="font-size:23.55px;letter-spacing:-0.6px" textLength="119.80" lengthAdjust="spacingAndGlyphs">36mm/1.42”</text>
<text class="s" transform="translate(676.40,783.10) rotate(-90)" x="0" y="0" style="font-size:23.55px;letter-spacing:-0.6px" textLength="122.60" lengthAdjust="spacingAndGlyphs">69mm/2.72”</text>
</svg>
</body></html>
